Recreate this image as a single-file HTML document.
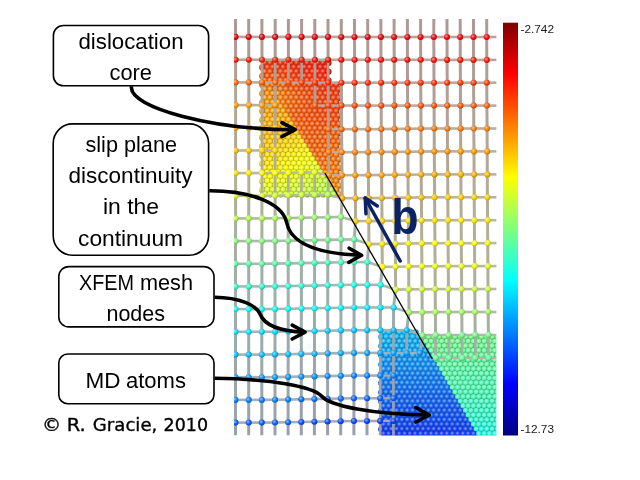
<!DOCTYPE html>
<html lang="en"><head><meta charset="utf-8"><title>Dislocation XFEM / MD coupling</title>
<style>html,body{margin:0;padding:0;background:#fff;width:640px;height:480px;overflow:hidden}svg{display:block}</style>
</head><body>
<svg width="640" height="480" viewBox="0 0 640 480">
<defs>
<radialGradient id="a0" cx="0.4" cy="0.38" r="0.62"><stop offset="0" stop-color="#8c8cc4"/><stop offset="0.5" stop-color="#1a1a89"/><stop offset="1" stop-color="#0f0f50"/></radialGradient>
<radialGradient id="s0" cx="0.38" cy="0.36" r="0.7"><stop offset="0" stop-color="#9090c6"/><stop offset="0.55" stop-color="#080880"/><stop offset="1" stop-color="#06065a"/></radialGradient>
<radialGradient id="a1" cx="0.4" cy="0.38" r="0.62"><stop offset="0" stop-color="#8c8cc8"/><stop offset="0.5" stop-color="#1a1a91"/><stop offset="1" stop-color="#0f0f54"/></radialGradient>
<radialGradient id="s1" cx="0.38" cy="0.36" r="0.7"><stop offset="0" stop-color="#9090ca"/><stop offset="0.55" stop-color="#080888"/><stop offset="1" stop-color="#06065f"/></radialGradient>
<radialGradient id="a2" cx="0.4" cy="0.38" r="0.62"><stop offset="0" stop-color="#8c8ccb"/><stop offset="0.5" stop-color="#1a1a98"/><stop offset="1" stop-color="#0f0f58"/></radialGradient>
<radialGradient id="s2" cx="0.38" cy="0.36" r="0.7"><stop offset="0" stop-color="#9090cd"/><stop offset="0.55" stop-color="#080890"/><stop offset="1" stop-color="#060665"/></radialGradient>
<radialGradient id="a3" cx="0.4" cy="0.38" r="0.62"><stop offset="0" stop-color="#8c8ccf"/><stop offset="0.5" stop-color="#1a1a9f"/><stop offset="1" stop-color="#0f0f5c"/></radialGradient>
<radialGradient id="s3" cx="0.38" cy="0.36" r="0.7"><stop offset="0" stop-color="#9090d1"/><stop offset="0.55" stop-color="#080898"/><stop offset="1" stop-color="#06066b"/></radialGradient>
<radialGradient id="a4" cx="0.4" cy="0.38" r="0.62"><stop offset="0" stop-color="#8c8cd3"/><stop offset="0.5" stop-color="#1a1aa7"/><stop offset="1" stop-color="#0f0f61"/></radialGradient>
<radialGradient id="s4" cx="0.38" cy="0.36" r="0.7"><stop offset="0" stop-color="#9090d4"/><stop offset="0.55" stop-color="#0808a0"/><stop offset="1" stop-color="#060670"/></radialGradient>
<radialGradient id="a5" cx="0.4" cy="0.38" r="0.62"><stop offset="0" stop-color="#8c8cd7"/><stop offset="0.5" stop-color="#1a1aae"/><stop offset="1" stop-color="#0f0f65"/></radialGradient>
<radialGradient id="s5" cx="0.38" cy="0.36" r="0.7"><stop offset="0" stop-color="#9090d8"/><stop offset="0.55" stop-color="#0808a8"/><stop offset="1" stop-color="#060676"/></radialGradient>
<radialGradient id="a6" cx="0.4" cy="0.38" r="0.62"><stop offset="0" stop-color="#8c8cda"/><stop offset="0.5" stop-color="#1a1ab6"/><stop offset="1" stop-color="#0f0f69"/></radialGradient>
<radialGradient id="s6" cx="0.38" cy="0.36" r="0.7"><stop offset="0" stop-color="#9090dc"/><stop offset="0.55" stop-color="#0808b0"/><stop offset="1" stop-color="#06067b"/></radialGradient>
<radialGradient id="a7" cx="0.4" cy="0.38" r="0.62"><stop offset="0" stop-color="#8c8cde"/><stop offset="0.5" stop-color="#1a1abd"/><stop offset="1" stop-color="#0f0f6e"/></radialGradient>
<radialGradient id="s7" cx="0.38" cy="0.36" r="0.7"><stop offset="0" stop-color="#9090df"/><stop offset="0.55" stop-color="#0808b8"/><stop offset="1" stop-color="#060681"/></radialGradient>
<radialGradient id="a8" cx="0.4" cy="0.38" r="0.62"><stop offset="0" stop-color="#8c8ce2"/><stop offset="0.5" stop-color="#1a1ac5"/><stop offset="1" stop-color="#0f0f72"/></radialGradient>
<radialGradient id="s8" cx="0.38" cy="0.36" r="0.7"><stop offset="0" stop-color="#9090e3"/><stop offset="0.55" stop-color="#0808c0"/><stop offset="1" stop-color="#060687"/></radialGradient>
<radialGradient id="a9" cx="0.4" cy="0.38" r="0.62"><stop offset="0" stop-color="#8c8ce5"/><stop offset="0.5" stop-color="#1a1acc"/><stop offset="1" stop-color="#0f0f76"/></radialGradient>
<radialGradient id="s9" cx="0.38" cy="0.36" r="0.7"><stop offset="0" stop-color="#9090e6"/><stop offset="0.55" stop-color="#0808c8"/><stop offset="1" stop-color="#06068c"/></radialGradient>
<radialGradient id="a10" cx="0.4" cy="0.38" r="0.62"><stop offset="0" stop-color="#8c8ce9"/><stop offset="0.5" stop-color="#1a1ad3"/><stop offset="1" stop-color="#0f0f7b"/></radialGradient>
<radialGradient id="s10" cx="0.38" cy="0.36" r="0.7"><stop offset="0" stop-color="#9090ea"/><stop offset="0.55" stop-color="#0808d0"/><stop offset="1" stop-color="#060692"/></radialGradient>
<radialGradient id="a11" cx="0.4" cy="0.38" r="0.62"><stop offset="0" stop-color="#8c8ced"/><stop offset="0.5" stop-color="#1a1adb"/><stop offset="1" stop-color="#0f0f7f"/></radialGradient>
<radialGradient id="s11" cx="0.38" cy="0.36" r="0.7"><stop offset="0" stop-color="#9090ee"/><stop offset="0.55" stop-color="#0808d8"/><stop offset="1" stop-color="#060697"/></radialGradient>
<radialGradient id="a12" cx="0.4" cy="0.38" r="0.62"><stop offset="0" stop-color="#8c8cf1"/><stop offset="0.5" stop-color="#1a1ae2"/><stop offset="1" stop-color="#0f0f83"/></radialGradient>
<radialGradient id="s12" cx="0.38" cy="0.36" r="0.7"><stop offset="0" stop-color="#9090f1"/><stop offset="0.55" stop-color="#0808e0"/><stop offset="1" stop-color="#06069d"/></radialGradient>
<radialGradient id="a13" cx="0.4" cy="0.38" r="0.62"><stop offset="0" stop-color="#8c8cf4"/><stop offset="0.5" stop-color="#1a1aea"/><stop offset="1" stop-color="#0f0f88"/></radialGradient>
<radialGradient id="s13" cx="0.38" cy="0.36" r="0.7"><stop offset="0" stop-color="#9090f5"/><stop offset="0.55" stop-color="#0808e8"/><stop offset="1" stop-color="#0606a2"/></radialGradient>
<radialGradient id="a14" cx="0.4" cy="0.38" r="0.62"><stop offset="0" stop-color="#8c8cf8"/><stop offset="0.5" stop-color="#1a1af1"/><stop offset="1" stop-color="#0f0f8c"/></radialGradient>
<radialGradient id="s14" cx="0.38" cy="0.36" r="0.7"><stop offset="0" stop-color="#9090f8"/><stop offset="0.55" stop-color="#0808f0"/><stop offset="1" stop-color="#0606a8"/></radialGradient>
<radialGradient id="a15" cx="0.4" cy="0.38" r="0.62"><stop offset="0" stop-color="#8c8cfc"/><stop offset="0.5" stop-color="#1a1af9"/><stop offset="1" stop-color="#0f0f90"/></radialGradient>
<radialGradient id="s15" cx="0.38" cy="0.36" r="0.7"><stop offset="0" stop-color="#9090fc"/><stop offset="0.55" stop-color="#0808f8"/><stop offset="1" stop-color="#0606ae"/></radialGradient>
<radialGradient id="a16" cx="0.4" cy="0.38" r="0.62"><stop offset="0" stop-color="#8c90fc"/><stop offset="0.5" stop-color="#1a21f9"/><stop offset="1" stop-color="#0f1390"/></radialGradient>
<radialGradient id="s16" cx="0.38" cy="0.36" r="0.7"><stop offset="0" stop-color="#9094fc"/><stop offset="0.55" stop-color="#0810f8"/><stop offset="1" stop-color="#060bae"/></radialGradient>
<radialGradient id="a17" cx="0.4" cy="0.38" r="0.62"><stop offset="0" stop-color="#8c94fc"/><stop offset="0.5" stop-color="#1a29f9"/><stop offset="1" stop-color="#0f1890"/></radialGradient>
<radialGradient id="s17" cx="0.38" cy="0.36" r="0.7"><stop offset="0" stop-color="#9097fc"/><stop offset="0.55" stop-color="#0818f8"/><stop offset="1" stop-color="#0611ae"/></radialGradient>
<radialGradient id="a18" cx="0.4" cy="0.38" r="0.62"><stop offset="0" stop-color="#8c97fc"/><stop offset="0.5" stop-color="#1a30f9"/><stop offset="1" stop-color="#0f1c90"/></radialGradient>
<radialGradient id="s18" cx="0.38" cy="0.36" r="0.7"><stop offset="0" stop-color="#909bfc"/><stop offset="0.55" stop-color="#0820f8"/><stop offset="1" stop-color="#0617ae"/></radialGradient>
<radialGradient id="a19" cx="0.4" cy="0.38" r="0.62"><stop offset="0" stop-color="#8c9bfc"/><stop offset="0.5" stop-color="#1a37f9"/><stop offset="1" stop-color="#0f2090"/></radialGradient>
<radialGradient id="s19" cx="0.38" cy="0.36" r="0.7"><stop offset="0" stop-color="#909efc"/><stop offset="0.55" stop-color="#0828f8"/><stop offset="1" stop-color="#061cae"/></radialGradient>
<radialGradient id="a20" cx="0.4" cy="0.38" r="0.62"><stop offset="0" stop-color="#8c9ffc"/><stop offset="0.5" stop-color="#1a3ff9"/><stop offset="1" stop-color="#0f2490"/></radialGradient>
<radialGradient id="s20" cx="0.38" cy="0.36" r="0.7"><stop offset="0" stop-color="#90a2fc"/><stop offset="0.55" stop-color="#0830f8"/><stop offset="1" stop-color="#0622ae"/></radialGradient>
<radialGradient id="a21" cx="0.4" cy="0.38" r="0.62"><stop offset="0" stop-color="#8ca3fc"/><stop offset="0.5" stop-color="#1a46f9"/><stop offset="1" stop-color="#0f2990"/></radialGradient>
<radialGradient id="s21" cx="0.38" cy="0.36" r="0.7"><stop offset="0" stop-color="#90a6fc"/><stop offset="0.55" stop-color="#0838f8"/><stop offset="1" stop-color="#0627ae"/></radialGradient>
<radialGradient id="a22" cx="0.4" cy="0.38" r="0.62"><stop offset="0" stop-color="#8ca6fc"/><stop offset="0.5" stop-color="#1a4ef9"/><stop offset="1" stop-color="#0f2d90"/></radialGradient>
<radialGradient id="s22" cx="0.38" cy="0.36" r="0.7"><stop offset="0" stop-color="#90a9fc"/><stop offset="0.55" stop-color="#0840f8"/><stop offset="1" stop-color="#062dae"/></radialGradient>
<radialGradient id="a23" cx="0.4" cy="0.38" r="0.62"><stop offset="0" stop-color="#8caafc"/><stop offset="0.5" stop-color="#1a55f9"/><stop offset="1" stop-color="#0f3190"/></radialGradient>
<radialGradient id="s23" cx="0.38" cy="0.36" r="0.7"><stop offset="0" stop-color="#90adfc"/><stop offset="0.55" stop-color="#0848f8"/><stop offset="1" stop-color="#0633ae"/></radialGradient>
<radialGradient id="a24" cx="0.4" cy="0.38" r="0.62"><stop offset="0" stop-color="#8caefc"/><stop offset="0.5" stop-color="#1a5df9"/><stop offset="1" stop-color="#0f3690"/></radialGradient>
<radialGradient id="s24" cx="0.38" cy="0.36" r="0.7"><stop offset="0" stop-color="#90b0fc"/><stop offset="0.55" stop-color="#0850f8"/><stop offset="1" stop-color="#0638ae"/></radialGradient>
<radialGradient id="a25" cx="0.4" cy="0.38" r="0.62"><stop offset="0" stop-color="#8cb1fc"/><stop offset="0.5" stop-color="#1a64f9"/><stop offset="1" stop-color="#0f3a90"/></radialGradient>
<radialGradient id="s25" cx="0.38" cy="0.36" r="0.7"><stop offset="0" stop-color="#90b4fc"/><stop offset="0.55" stop-color="#0858f8"/><stop offset="1" stop-color="#063eae"/></radialGradient>
<radialGradient id="a26" cx="0.4" cy="0.38" r="0.62"><stop offset="0" stop-color="#8cb5fc"/><stop offset="0.5" stop-color="#1a6bf9"/><stop offset="1" stop-color="#0f3e90"/></radialGradient>
<radialGradient id="s26" cx="0.38" cy="0.36" r="0.7"><stop offset="0" stop-color="#90b8fc"/><stop offset="0.55" stop-color="#0860f8"/><stop offset="1" stop-color="#0643ae"/></radialGradient>
<radialGradient id="a27" cx="0.4" cy="0.38" r="0.62"><stop offset="0" stop-color="#8cb9fc"/><stop offset="0.5" stop-color="#1a73f9"/><stop offset="1" stop-color="#0f4390"/></radialGradient>
<radialGradient id="s27" cx="0.38" cy="0.36" r="0.7"><stop offset="0" stop-color="#90bbfc"/><stop offset="0.55" stop-color="#0868f8"/><stop offset="1" stop-color="#0649ae"/></radialGradient>
<radialGradient id="a28" cx="0.4" cy="0.38" r="0.62"><stop offset="0" stop-color="#8cbdfc"/><stop offset="0.5" stop-color="#1a7af9"/><stop offset="1" stop-color="#0f4790"/></radialGradient>
<radialGradient id="s28" cx="0.38" cy="0.36" r="0.7"><stop offset="0" stop-color="#90bffc"/><stop offset="0.55" stop-color="#0870f8"/><stop offset="1" stop-color="#064fae"/></radialGradient>
<radialGradient id="a29" cx="0.4" cy="0.38" r="0.62"><stop offset="0" stop-color="#8cc0fc"/><stop offset="0.5" stop-color="#1a82f9"/><stop offset="1" stop-color="#0f4b90"/></radialGradient>
<radialGradient id="s29" cx="0.38" cy="0.36" r="0.7"><stop offset="0" stop-color="#90c2fc"/><stop offset="0.55" stop-color="#0878f8"/><stop offset="1" stop-color="#0654ae"/></radialGradient>
<radialGradient id="a30" cx="0.4" cy="0.38" r="0.62"><stop offset="0" stop-color="#8cc4fc"/><stop offset="0.5" stop-color="#1a89f9"/><stop offset="1" stop-color="#0f5090"/></radialGradient>
<radialGradient id="s30" cx="0.38" cy="0.36" r="0.7"><stop offset="0" stop-color="#90c6fc"/><stop offset="0.55" stop-color="#0880f8"/><stop offset="1" stop-color="#065aae"/></radialGradient>
<radialGradient id="a31" cx="0.4" cy="0.38" r="0.62"><stop offset="0" stop-color="#8cc8fc"/><stop offset="0.5" stop-color="#1a91f9"/><stop offset="1" stop-color="#0f5490"/></radialGradient>
<radialGradient id="s31" cx="0.38" cy="0.36" r="0.7"><stop offset="0" stop-color="#90cafc"/><stop offset="0.55" stop-color="#0888f8"/><stop offset="1" stop-color="#065fae"/></radialGradient>
<radialGradient id="a32" cx="0.4" cy="0.38" r="0.62"><stop offset="0" stop-color="#8ccbfc"/><stop offset="0.5" stop-color="#1a98f9"/><stop offset="1" stop-color="#0f5890"/></radialGradient>
<radialGradient id="s32" cx="0.38" cy="0.36" r="0.7"><stop offset="0" stop-color="#90cdfc"/><stop offset="0.55" stop-color="#0890f8"/><stop offset="1" stop-color="#0665ae"/></radialGradient>
<radialGradient id="a33" cx="0.4" cy="0.38" r="0.62"><stop offset="0" stop-color="#8ccffc"/><stop offset="0.5" stop-color="#1a9ff9"/><stop offset="1" stop-color="#0f5c90"/></radialGradient>
<radialGradient id="s33" cx="0.38" cy="0.36" r="0.7"><stop offset="0" stop-color="#90d1fc"/><stop offset="0.55" stop-color="#0898f8"/><stop offset="1" stop-color="#066bae"/></radialGradient>
<radialGradient id="a34" cx="0.4" cy="0.38" r="0.62"><stop offset="0" stop-color="#8cd3fc"/><stop offset="0.5" stop-color="#1aa7f9"/><stop offset="1" stop-color="#0f6190"/></radialGradient>
<radialGradient id="s34" cx="0.38" cy="0.36" r="0.7"><stop offset="0" stop-color="#90d4fc"/><stop offset="0.55" stop-color="#08a0f8"/><stop offset="1" stop-color="#0670ae"/></radialGradient>
<radialGradient id="a35" cx="0.4" cy="0.38" r="0.62"><stop offset="0" stop-color="#8cd7fc"/><stop offset="0.5" stop-color="#1aaef9"/><stop offset="1" stop-color="#0f6590"/></radialGradient>
<radialGradient id="s35" cx="0.38" cy="0.36" r="0.7"><stop offset="0" stop-color="#90d8fc"/><stop offset="0.55" stop-color="#08a8f8"/><stop offset="1" stop-color="#0676ae"/></radialGradient>
<radialGradient id="a36" cx="0.4" cy="0.38" r="0.62"><stop offset="0" stop-color="#8cdafc"/><stop offset="0.5" stop-color="#1ab6f9"/><stop offset="1" stop-color="#0f6990"/></radialGradient>
<radialGradient id="s36" cx="0.38" cy="0.36" r="0.7"><stop offset="0" stop-color="#90dcfc"/><stop offset="0.55" stop-color="#08b0f8"/><stop offset="1" stop-color="#067bae"/></radialGradient>
<radialGradient id="a37" cx="0.4" cy="0.38" r="0.62"><stop offset="0" stop-color="#8cdefc"/><stop offset="0.5" stop-color="#1abdf9"/><stop offset="1" stop-color="#0f6e90"/></radialGradient>
<radialGradient id="s37" cx="0.38" cy="0.36" r="0.7"><stop offset="0" stop-color="#90dffc"/><stop offset="0.55" stop-color="#08b8f8"/><stop offset="1" stop-color="#0681ae"/></radialGradient>
<radialGradient id="a38" cx="0.4" cy="0.38" r="0.62"><stop offset="0" stop-color="#8ce2fc"/><stop offset="0.5" stop-color="#1ac5f9"/><stop offset="1" stop-color="#0f7290"/></radialGradient>
<radialGradient id="s38" cx="0.38" cy="0.36" r="0.7"><stop offset="0" stop-color="#90e3fc"/><stop offset="0.55" stop-color="#08c0f8"/><stop offset="1" stop-color="#0687ae"/></radialGradient>
<radialGradient id="a39" cx="0.4" cy="0.38" r="0.62"><stop offset="0" stop-color="#8ce5fc"/><stop offset="0.5" stop-color="#1accf9"/><stop offset="1" stop-color="#0f7690"/></radialGradient>
<radialGradient id="s39" cx="0.38" cy="0.36" r="0.7"><stop offset="0" stop-color="#90e6fc"/><stop offset="0.55" stop-color="#08c8f8"/><stop offset="1" stop-color="#068cae"/></radialGradient>
<radialGradient id="a40" cx="0.4" cy="0.38" r="0.62"><stop offset="0" stop-color="#8ce9fc"/><stop offset="0.5" stop-color="#1ad3f9"/><stop offset="1" stop-color="#0f7b90"/></radialGradient>
<radialGradient id="s40" cx="0.38" cy="0.36" r="0.7"><stop offset="0" stop-color="#90eafc"/><stop offset="0.55" stop-color="#08d0f8"/><stop offset="1" stop-color="#0692ae"/></radialGradient>
<radialGradient id="a41" cx="0.4" cy="0.38" r="0.62"><stop offset="0" stop-color="#8cedfc"/><stop offset="0.5" stop-color="#1adbf9"/><stop offset="1" stop-color="#0f7f90"/></radialGradient>
<radialGradient id="s41" cx="0.38" cy="0.36" r="0.7"><stop offset="0" stop-color="#90eefc"/><stop offset="0.55" stop-color="#08d8f8"/><stop offset="1" stop-color="#0697ae"/></radialGradient>
<radialGradient id="a42" cx="0.4" cy="0.38" r="0.62"><stop offset="0" stop-color="#8cf1fc"/><stop offset="0.5" stop-color="#1ae2f9"/><stop offset="1" stop-color="#0f8390"/></radialGradient>
<radialGradient id="s42" cx="0.38" cy="0.36" r="0.7"><stop offset="0" stop-color="#90f1fc"/><stop offset="0.55" stop-color="#08e0f8"/><stop offset="1" stop-color="#069dae"/></radialGradient>
<radialGradient id="a43" cx="0.4" cy="0.38" r="0.62"><stop offset="0" stop-color="#8cf4fc"/><stop offset="0.5" stop-color="#1aeaf9"/><stop offset="1" stop-color="#0f8890"/></radialGradient>
<radialGradient id="s43" cx="0.38" cy="0.36" r="0.7"><stop offset="0" stop-color="#90f5fc"/><stop offset="0.55" stop-color="#08e8f8"/><stop offset="1" stop-color="#06a2ae"/></radialGradient>
<radialGradient id="a44" cx="0.4" cy="0.38" r="0.62"><stop offset="0" stop-color="#8cf8fc"/><stop offset="0.5" stop-color="#1af1f9"/><stop offset="1" stop-color="#0f8c90"/></radialGradient>
<radialGradient id="s44" cx="0.38" cy="0.36" r="0.7"><stop offset="0" stop-color="#90f8fc"/><stop offset="0.55" stop-color="#08f0f8"/><stop offset="1" stop-color="#06a8ae"/></radialGradient>
<radialGradient id="a45" cx="0.4" cy="0.38" r="0.62"><stop offset="0" stop-color="#8cfcfc"/><stop offset="0.5" stop-color="#1af9f9"/><stop offset="1" stop-color="#0f9090"/></radialGradient>
<radialGradient id="s45" cx="0.38" cy="0.36" r="0.7"><stop offset="0" stop-color="#90fcfc"/><stop offset="0.55" stop-color="#08f8f8"/><stop offset="1" stop-color="#06aeae"/></radialGradient>
<radialGradient id="a46" cx="0.4" cy="0.38" r="0.62"><stop offset="0" stop-color="#90fcf8"/><stop offset="0.5" stop-color="#21f9f1"/><stop offset="1" stop-color="#13908c"/></radialGradient>
<radialGradient id="s46" cx="0.38" cy="0.36" r="0.7"><stop offset="0" stop-color="#94fcf8"/><stop offset="0.55" stop-color="#10f8f0"/><stop offset="1" stop-color="#0baea8"/></radialGradient>
<radialGradient id="a47" cx="0.4" cy="0.38" r="0.62"><stop offset="0" stop-color="#94fcf4"/><stop offset="0.5" stop-color="#29f9ea"/><stop offset="1" stop-color="#189088"/></radialGradient>
<radialGradient id="s47" cx="0.38" cy="0.36" r="0.7"><stop offset="0" stop-color="#97fcf5"/><stop offset="0.55" stop-color="#18f8e8"/><stop offset="1" stop-color="#11aea2"/></radialGradient>
<radialGradient id="a48" cx="0.4" cy="0.38" r="0.62"><stop offset="0" stop-color="#97fcf1"/><stop offset="0.5" stop-color="#30f9e2"/><stop offset="1" stop-color="#1c9083"/></radialGradient>
<radialGradient id="s48" cx="0.38" cy="0.36" r="0.7"><stop offset="0" stop-color="#9bfcf1"/><stop offset="0.55" stop-color="#20f8e0"/><stop offset="1" stop-color="#17ae9d"/></radialGradient>
<radialGradient id="a49" cx="0.4" cy="0.38" r="0.62"><stop offset="0" stop-color="#9bfced"/><stop offset="0.5" stop-color="#37f9db"/><stop offset="1" stop-color="#20907f"/></radialGradient>
<radialGradient id="s49" cx="0.38" cy="0.36" r="0.7"><stop offset="0" stop-color="#9efcee"/><stop offset="0.55" stop-color="#28f8d8"/><stop offset="1" stop-color="#1cae97"/></radialGradient>
<radialGradient id="a50" cx="0.4" cy="0.38" r="0.62"><stop offset="0" stop-color="#9ffce9"/><stop offset="0.5" stop-color="#3ff9d3"/><stop offset="1" stop-color="#24907b"/></radialGradient>
<radialGradient id="s50" cx="0.38" cy="0.36" r="0.7"><stop offset="0" stop-color="#a2fcea"/><stop offset="0.55" stop-color="#30f8d0"/><stop offset="1" stop-color="#22ae92"/></radialGradient>
<radialGradient id="a51" cx="0.4" cy="0.38" r="0.62"><stop offset="0" stop-color="#a3fce5"/><stop offset="0.5" stop-color="#46f9cc"/><stop offset="1" stop-color="#299076"/></radialGradient>
<radialGradient id="s51" cx="0.38" cy="0.36" r="0.7"><stop offset="0" stop-color="#a6fce6"/><stop offset="0.55" stop-color="#38f8c8"/><stop offset="1" stop-color="#27ae8c"/></radialGradient>
<radialGradient id="a52" cx="0.4" cy="0.38" r="0.62"><stop offset="0" stop-color="#a6fce2"/><stop offset="0.5" stop-color="#4ef9c5"/><stop offset="1" stop-color="#2d9072"/></radialGradient>
<radialGradient id="s52" cx="0.38" cy="0.36" r="0.7"><stop offset="0" stop-color="#a9fce3"/><stop offset="0.55" stop-color="#40f8c0"/><stop offset="1" stop-color="#2dae87"/></radialGradient>
<radialGradient id="a53" cx="0.4" cy="0.38" r="0.62"><stop offset="0" stop-color="#aafcde"/><stop offset="0.5" stop-color="#55f9bd"/><stop offset="1" stop-color="#31906e"/></radialGradient>
<radialGradient id="s53" cx="0.38" cy="0.36" r="0.7"><stop offset="0" stop-color="#adfcdf"/><stop offset="0.55" stop-color="#48f8b8"/><stop offset="1" stop-color="#33ae81"/></radialGradient>
<radialGradient id="a54" cx="0.4" cy="0.38" r="0.62"><stop offset="0" stop-color="#aefcda"/><stop offset="0.5" stop-color="#5df9b6"/><stop offset="1" stop-color="#369069"/></radialGradient>
<radialGradient id="s54" cx="0.38" cy="0.36" r="0.7"><stop offset="0" stop-color="#b0fcdc"/><stop offset="0.55" stop-color="#50f8b0"/><stop offset="1" stop-color="#38ae7b"/></radialGradient>
<radialGradient id="a55" cx="0.4" cy="0.38" r="0.62"><stop offset="0" stop-color="#b1fcd7"/><stop offset="0.5" stop-color="#64f9ae"/><stop offset="1" stop-color="#3a9065"/></radialGradient>
<radialGradient id="s55" cx="0.38" cy="0.36" r="0.7"><stop offset="0" stop-color="#b4fcd8"/><stop offset="0.55" stop-color="#58f8a8"/><stop offset="1" stop-color="#3eae76"/></radialGradient>
<radialGradient id="a56" cx="0.4" cy="0.38" r="0.62"><stop offset="0" stop-color="#b5fcd3"/><stop offset="0.5" stop-color="#6bf9a7"/><stop offset="1" stop-color="#3e9061"/></radialGradient>
<radialGradient id="s56" cx="0.38" cy="0.36" r="0.7"><stop offset="0" stop-color="#b8fcd4"/><stop offset="0.55" stop-color="#60f8a0"/><stop offset="1" stop-color="#43ae70"/></radialGradient>
<radialGradient id="a57" cx="0.4" cy="0.38" r="0.62"><stop offset="0" stop-color="#b9fccf"/><stop offset="0.5" stop-color="#73f99f"/><stop offset="1" stop-color="#43905c"/></radialGradient>
<radialGradient id="s57" cx="0.38" cy="0.36" r="0.7"><stop offset="0" stop-color="#bbfcd1"/><stop offset="0.55" stop-color="#68f898"/><stop offset="1" stop-color="#49ae6b"/></radialGradient>
<radialGradient id="a58" cx="0.4" cy="0.38" r="0.62"><stop offset="0" stop-color="#bdfccb"/><stop offset="0.5" stop-color="#7af998"/><stop offset="1" stop-color="#479058"/></radialGradient>
<radialGradient id="s58" cx="0.38" cy="0.36" r="0.7"><stop offset="0" stop-color="#bffccd"/><stop offset="0.55" stop-color="#70f890"/><stop offset="1" stop-color="#4fae65"/></radialGradient>
<radialGradient id="a59" cx="0.4" cy="0.38" r="0.62"><stop offset="0" stop-color="#c0fcc8"/><stop offset="0.5" stop-color="#82f991"/><stop offset="1" stop-color="#4b9054"/></radialGradient>
<radialGradient id="s59" cx="0.38" cy="0.36" r="0.7"><stop offset="0" stop-color="#c2fcca"/><stop offset="0.55" stop-color="#78f888"/><stop offset="1" stop-color="#54ae5f"/></radialGradient>
<radialGradient id="a60" cx="0.4" cy="0.38" r="0.62"><stop offset="0" stop-color="#c4fcc4"/><stop offset="0.5" stop-color="#89f989"/><stop offset="1" stop-color="#509050"/></radialGradient>
<radialGradient id="s60" cx="0.38" cy="0.36" r="0.7"><stop offset="0" stop-color="#c6fcc6"/><stop offset="0.55" stop-color="#80f880"/><stop offset="1" stop-color="#5aae5a"/></radialGradient>
<radialGradient id="a61" cx="0.4" cy="0.38" r="0.62"><stop offset="0" stop-color="#c8fcc0"/><stop offset="0.5" stop-color="#91f982"/><stop offset="1" stop-color="#54904b"/></radialGradient>
<radialGradient id="s61" cx="0.38" cy="0.36" r="0.7"><stop offset="0" stop-color="#cafcc2"/><stop offset="0.55" stop-color="#88f878"/><stop offset="1" stop-color="#5fae54"/></radialGradient>
<radialGradient id="a62" cx="0.4" cy="0.38" r="0.62"><stop offset="0" stop-color="#cbfcbd"/><stop offset="0.5" stop-color="#98f97a"/><stop offset="1" stop-color="#589047"/></radialGradient>
<radialGradient id="s62" cx="0.38" cy="0.36" r="0.7"><stop offset="0" stop-color="#cdfcbf"/><stop offset="0.55" stop-color="#90f870"/><stop offset="1" stop-color="#65ae4f"/></radialGradient>
<radialGradient id="a63" cx="0.4" cy="0.38" r="0.62"><stop offset="0" stop-color="#cffcb9"/><stop offset="0.5" stop-color="#9ff973"/><stop offset="1" stop-color="#5c9043"/></radialGradient>
<radialGradient id="s63" cx="0.38" cy="0.36" r="0.7"><stop offset="0" stop-color="#d1fcbb"/><stop offset="0.55" stop-color="#98f868"/><stop offset="1" stop-color="#6bae49"/></radialGradient>
<radialGradient id="a64" cx="0.4" cy="0.38" r="0.62"><stop offset="0" stop-color="#d3fcb5"/><stop offset="0.5" stop-color="#a7f96b"/><stop offset="1" stop-color="#61903e"/></radialGradient>
<radialGradient id="s64" cx="0.38" cy="0.36" r="0.7"><stop offset="0" stop-color="#d4fcb8"/><stop offset="0.55" stop-color="#a0f860"/><stop offset="1" stop-color="#70ae43"/></radialGradient>
<radialGradient id="a65" cx="0.4" cy="0.38" r="0.62"><stop offset="0" stop-color="#d7fcb1"/><stop offset="0.5" stop-color="#aef964"/><stop offset="1" stop-color="#65903a"/></radialGradient>
<radialGradient id="s65" cx="0.38" cy="0.36" r="0.7"><stop offset="0" stop-color="#d8fcb4"/><stop offset="0.55" stop-color="#a8f858"/><stop offset="1" stop-color="#76ae3e"/></radialGradient>
<radialGradient id="a66" cx="0.4" cy="0.38" r="0.62"><stop offset="0" stop-color="#dafcae"/><stop offset="0.5" stop-color="#b6f95d"/><stop offset="1" stop-color="#699036"/></radialGradient>
<radialGradient id="s66" cx="0.38" cy="0.36" r="0.7"><stop offset="0" stop-color="#dcfcb0"/><stop offset="0.55" stop-color="#b0f850"/><stop offset="1" stop-color="#7bae38"/></radialGradient>
<radialGradient id="a67" cx="0.4" cy="0.38" r="0.62"><stop offset="0" stop-color="#defcaa"/><stop offset="0.5" stop-color="#bdf955"/><stop offset="1" stop-color="#6e9031"/></radialGradient>
<radialGradient id="s67" cx="0.38" cy="0.36" r="0.7"><stop offset="0" stop-color="#dffcad"/><stop offset="0.55" stop-color="#b8f848"/><stop offset="1" stop-color="#81ae33"/></radialGradient>
<radialGradient id="a68" cx="0.4" cy="0.38" r="0.62"><stop offset="0" stop-color="#e2fca6"/><stop offset="0.5" stop-color="#c5f94e"/><stop offset="1" stop-color="#72902d"/></radialGradient>
<radialGradient id="s68" cx="0.38" cy="0.36" r="0.7"><stop offset="0" stop-color="#e3fca9"/><stop offset="0.55" stop-color="#c0f840"/><stop offset="1" stop-color="#87ae2d"/></radialGradient>
<radialGradient id="a69" cx="0.4" cy="0.38" r="0.62"><stop offset="0" stop-color="#e5fca3"/><stop offset="0.5" stop-color="#ccf946"/><stop offset="1" stop-color="#769029"/></radialGradient>
<radialGradient id="s69" cx="0.38" cy="0.36" r="0.7"><stop offset="0" stop-color="#e6fca6"/><stop offset="0.55" stop-color="#c8f838"/><stop offset="1" stop-color="#8cae27"/></radialGradient>
<radialGradient id="a70" cx="0.4" cy="0.38" r="0.62"><stop offset="0" stop-color="#e9fc9f"/><stop offset="0.5" stop-color="#d3f93f"/><stop offset="1" stop-color="#7b9024"/></radialGradient>
<radialGradient id="s70" cx="0.38" cy="0.36" r="0.7"><stop offset="0" stop-color="#eafca2"/><stop offset="0.55" stop-color="#d0f830"/><stop offset="1" stop-color="#92ae22"/></radialGradient>
<radialGradient id="a71" cx="0.4" cy="0.38" r="0.62"><stop offset="0" stop-color="#edfc9b"/><stop offset="0.5" stop-color="#dbf937"/><stop offset="1" stop-color="#7f9020"/></radialGradient>
<radialGradient id="s71" cx="0.38" cy="0.36" r="0.7"><stop offset="0" stop-color="#eefc9e"/><stop offset="0.55" stop-color="#d8f828"/><stop offset="1" stop-color="#97ae1c"/></radialGradient>
<radialGradient id="a72" cx="0.4" cy="0.38" r="0.62"><stop offset="0" stop-color="#f1fc97"/><stop offset="0.5" stop-color="#e2f930"/><stop offset="1" stop-color="#83901c"/></radialGradient>
<radialGradient id="s72" cx="0.38" cy="0.36" r="0.7"><stop offset="0" stop-color="#f1fc9b"/><stop offset="0.55" stop-color="#e0f820"/><stop offset="1" stop-color="#9dae17"/></radialGradient>
<radialGradient id="a73" cx="0.4" cy="0.38" r="0.62"><stop offset="0" stop-color="#f4fc94"/><stop offset="0.5" stop-color="#eaf929"/><stop offset="1" stop-color="#889018"/></radialGradient>
<radialGradient id="s73" cx="0.38" cy="0.36" r="0.7"><stop offset="0" stop-color="#f5fc97"/><stop offset="0.55" stop-color="#e8f818"/><stop offset="1" stop-color="#a2ae11"/></radialGradient>
<radialGradient id="a74" cx="0.4" cy="0.38" r="0.62"><stop offset="0" stop-color="#f8fc90"/><stop offset="0.5" stop-color="#f1f921"/><stop offset="1" stop-color="#8c9013"/></radialGradient>
<radialGradient id="s74" cx="0.38" cy="0.36" r="0.7"><stop offset="0" stop-color="#f8fc94"/><stop offset="0.55" stop-color="#f0f810"/><stop offset="1" stop-color="#a8ae0b"/></radialGradient>
<radialGradient id="a75" cx="0.4" cy="0.38" r="0.62"><stop offset="0" stop-color="#fcfc8c"/><stop offset="0.5" stop-color="#f9f91a"/><stop offset="1" stop-color="#90900f"/></radialGradient>
<radialGradient id="s75" cx="0.38" cy="0.36" r="0.7"><stop offset="0" stop-color="#fcfc90"/><stop offset="0.55" stop-color="#f8f808"/><stop offset="1" stop-color="#aeae06"/></radialGradient>
<radialGradient id="a76" cx="0.4" cy="0.38" r="0.62"><stop offset="0" stop-color="#fcf88c"/><stop offset="0.5" stop-color="#f9f11a"/><stop offset="1" stop-color="#908c0f"/></radialGradient>
<radialGradient id="s76" cx="0.38" cy="0.36" r="0.7"><stop offset="0" stop-color="#fcf890"/><stop offset="0.55" stop-color="#f8f008"/><stop offset="1" stop-color="#aea806"/></radialGradient>
<radialGradient id="a77" cx="0.4" cy="0.38" r="0.62"><stop offset="0" stop-color="#fcf48c"/><stop offset="0.5" stop-color="#f9ea1a"/><stop offset="1" stop-color="#90880f"/></radialGradient>
<radialGradient id="s77" cx="0.38" cy="0.36" r="0.7"><stop offset="0" stop-color="#fcf590"/><stop offset="0.55" stop-color="#f8e808"/><stop offset="1" stop-color="#aea206"/></radialGradient>
<radialGradient id="a78" cx="0.4" cy="0.38" r="0.62"><stop offset="0" stop-color="#fcf18c"/><stop offset="0.5" stop-color="#f9e21a"/><stop offset="1" stop-color="#90830f"/></radialGradient>
<radialGradient id="s78" cx="0.38" cy="0.36" r="0.7"><stop offset="0" stop-color="#fcf190"/><stop offset="0.55" stop-color="#f8e008"/><stop offset="1" stop-color="#ae9d06"/></radialGradient>
<radialGradient id="a79" cx="0.4" cy="0.38" r="0.62"><stop offset="0" stop-color="#fced8c"/><stop offset="0.5" stop-color="#f9db1a"/><stop offset="1" stop-color="#907f0f"/></radialGradient>
<radialGradient id="s79" cx="0.38" cy="0.36" r="0.7"><stop offset="0" stop-color="#fcee90"/><stop offset="0.55" stop-color="#f8d808"/><stop offset="1" stop-color="#ae9706"/></radialGradient>
<radialGradient id="a80" cx="0.4" cy="0.38" r="0.62"><stop offset="0" stop-color="#fce98c"/><stop offset="0.5" stop-color="#f9d31a"/><stop offset="1" stop-color="#907b0f"/></radialGradient>
<radialGradient id="s80" cx="0.38" cy="0.36" r="0.7"><stop offset="0" stop-color="#fcea90"/><stop offset="0.55" stop-color="#f8d008"/><stop offset="1" stop-color="#ae9206"/></radialGradient>
<radialGradient id="a81" cx="0.4" cy="0.38" r="0.62"><stop offset="0" stop-color="#fce58c"/><stop offset="0.5" stop-color="#f9cc1a"/><stop offset="1" stop-color="#90760f"/></radialGradient>
<radialGradient id="s81" cx="0.38" cy="0.36" r="0.7"><stop offset="0" stop-color="#fce690"/><stop offset="0.55" stop-color="#f8c808"/><stop offset="1" stop-color="#ae8c06"/></radialGradient>
<radialGradient id="a82" cx="0.4" cy="0.38" r="0.62"><stop offset="0" stop-color="#fce28c"/><stop offset="0.5" stop-color="#f9c51a"/><stop offset="1" stop-color="#90720f"/></radialGradient>
<radialGradient id="s82" cx="0.38" cy="0.36" r="0.7"><stop offset="0" stop-color="#fce390"/><stop offset="0.55" stop-color="#f8c008"/><stop offset="1" stop-color="#ae8706"/></radialGradient>
<radialGradient id="a83" cx="0.4" cy="0.38" r="0.62"><stop offset="0" stop-color="#fcde8c"/><stop offset="0.5" stop-color="#f9bd1a"/><stop offset="1" stop-color="#906e0f"/></radialGradient>
<radialGradient id="s83" cx="0.38" cy="0.36" r="0.7"><stop offset="0" stop-color="#fcdf90"/><stop offset="0.55" stop-color="#f8b808"/><stop offset="1" stop-color="#ae8106"/></radialGradient>
<radialGradient id="a84" cx="0.4" cy="0.38" r="0.62"><stop offset="0" stop-color="#fcda8c"/><stop offset="0.5" stop-color="#f9b61a"/><stop offset="1" stop-color="#90690f"/></radialGradient>
<radialGradient id="s84" cx="0.38" cy="0.36" r="0.7"><stop offset="0" stop-color="#fcdc90"/><stop offset="0.55" stop-color="#f8b008"/><stop offset="1" stop-color="#ae7b06"/></radialGradient>
<radialGradient id="a85" cx="0.4" cy="0.38" r="0.62"><stop offset="0" stop-color="#fcd78c"/><stop offset="0.5" stop-color="#f9ae1a"/><stop offset="1" stop-color="#90650f"/></radialGradient>
<radialGradient id="s85" cx="0.38" cy="0.36" r="0.7"><stop offset="0" stop-color="#fcd890"/><stop offset="0.55" stop-color="#f8a808"/><stop offset="1" stop-color="#ae7606"/></radialGradient>
<radialGradient id="a86" cx="0.4" cy="0.38" r="0.62"><stop offset="0" stop-color="#fcd38c"/><stop offset="0.5" stop-color="#f9a71a"/><stop offset="1" stop-color="#90610f"/></radialGradient>
<radialGradient id="s86" cx="0.38" cy="0.36" r="0.7"><stop offset="0" stop-color="#fcd490"/><stop offset="0.55" stop-color="#f8a008"/><stop offset="1" stop-color="#ae7006"/></radialGradient>
<radialGradient id="a87" cx="0.4" cy="0.38" r="0.62"><stop offset="0" stop-color="#fccf8c"/><stop offset="0.5" stop-color="#f99f1a"/><stop offset="1" stop-color="#905c0f"/></radialGradient>
<radialGradient id="s87" cx="0.38" cy="0.36" r="0.7"><stop offset="0" stop-color="#fcd190"/><stop offset="0.55" stop-color="#f89808"/><stop offset="1" stop-color="#ae6b06"/></radialGradient>
<radialGradient id="a88" cx="0.4" cy="0.38" r="0.62"><stop offset="0" stop-color="#fccb8c"/><stop offset="0.5" stop-color="#f9981a"/><stop offset="1" stop-color="#90580f"/></radialGradient>
<radialGradient id="s88" cx="0.38" cy="0.36" r="0.7"><stop offset="0" stop-color="#fccd90"/><stop offset="0.55" stop-color="#f89008"/><stop offset="1" stop-color="#ae6506"/></radialGradient>
<radialGradient id="a89" cx="0.4" cy="0.38" r="0.62"><stop offset="0" stop-color="#fcc88c"/><stop offset="0.5" stop-color="#f9911a"/><stop offset="1" stop-color="#90540f"/></radialGradient>
<radialGradient id="s89" cx="0.38" cy="0.36" r="0.7"><stop offset="0" stop-color="#fcca90"/><stop offset="0.55" stop-color="#f88808"/><stop offset="1" stop-color="#ae5f06"/></radialGradient>
<radialGradient id="a90" cx="0.4" cy="0.38" r="0.62"><stop offset="0" stop-color="#fcc48c"/><stop offset="0.5" stop-color="#f9891a"/><stop offset="1" stop-color="#90500f"/></radialGradient>
<radialGradient id="s90" cx="0.38" cy="0.36" r="0.7"><stop offset="0" stop-color="#fcc690"/><stop offset="0.55" stop-color="#f88008"/><stop offset="1" stop-color="#ae5a06"/></radialGradient>
<radialGradient id="a91" cx="0.4" cy="0.38" r="0.62"><stop offset="0" stop-color="#fcc08c"/><stop offset="0.5" stop-color="#f9821a"/><stop offset="1" stop-color="#904b0f"/></radialGradient>
<radialGradient id="s91" cx="0.38" cy="0.36" r="0.7"><stop offset="0" stop-color="#fcc290"/><stop offset="0.55" stop-color="#f87808"/><stop offset="1" stop-color="#ae5406"/></radialGradient>
<radialGradient id="a92" cx="0.4" cy="0.38" r="0.62"><stop offset="0" stop-color="#fcbd8c"/><stop offset="0.5" stop-color="#f97a1a"/><stop offset="1" stop-color="#90470f"/></radialGradient>
<radialGradient id="s92" cx="0.38" cy="0.36" r="0.7"><stop offset="0" stop-color="#fcbf90"/><stop offset="0.55" stop-color="#f87008"/><stop offset="1" stop-color="#ae4f06"/></radialGradient>
<radialGradient id="a93" cx="0.4" cy="0.38" r="0.62"><stop offset="0" stop-color="#fcb98c"/><stop offset="0.5" stop-color="#f9731a"/><stop offset="1" stop-color="#90430f"/></radialGradient>
<radialGradient id="s93" cx="0.38" cy="0.36" r="0.7"><stop offset="0" stop-color="#fcbb90"/><stop offset="0.55" stop-color="#f86808"/><stop offset="1" stop-color="#ae4906"/></radialGradient>
<radialGradient id="a94" cx="0.4" cy="0.38" r="0.62"><stop offset="0" stop-color="#fcb58c"/><stop offset="0.5" stop-color="#f96b1a"/><stop offset="1" stop-color="#903e0f"/></radialGradient>
<radialGradient id="s94" cx="0.38" cy="0.36" r="0.7"><stop offset="0" stop-color="#fcb890"/><stop offset="0.55" stop-color="#f86008"/><stop offset="1" stop-color="#ae4306"/></radialGradient>
<radialGradient id="a95" cx="0.4" cy="0.38" r="0.62"><stop offset="0" stop-color="#fcb18c"/><stop offset="0.5" stop-color="#f9641a"/><stop offset="1" stop-color="#903a0f"/></radialGradient>
<radialGradient id="s95" cx="0.38" cy="0.36" r="0.7"><stop offset="0" stop-color="#fcb490"/><stop offset="0.55" stop-color="#f85808"/><stop offset="1" stop-color="#ae3e06"/></radialGradient>
<radialGradient id="a96" cx="0.4" cy="0.38" r="0.62"><stop offset="0" stop-color="#fcae8c"/><stop offset="0.5" stop-color="#f95d1a"/><stop offset="1" stop-color="#90360f"/></radialGradient>
<radialGradient id="s96" cx="0.38" cy="0.36" r="0.7"><stop offset="0" stop-color="#fcb090"/><stop offset="0.55" stop-color="#f85008"/><stop offset="1" stop-color="#ae3806"/></radialGradient>
<radialGradient id="a97" cx="0.4" cy="0.38" r="0.62"><stop offset="0" stop-color="#fcaa8c"/><stop offset="0.5" stop-color="#f9551a"/><stop offset="1" stop-color="#90310f"/></radialGradient>
<radialGradient id="s97" cx="0.38" cy="0.36" r="0.7"><stop offset="0" stop-color="#fcad90"/><stop offset="0.55" stop-color="#f84808"/><stop offset="1" stop-color="#ae3306"/></radialGradient>
<radialGradient id="a98" cx="0.4" cy="0.38" r="0.62"><stop offset="0" stop-color="#fca68c"/><stop offset="0.5" stop-color="#f94e1a"/><stop offset="1" stop-color="#902d0f"/></radialGradient>
<radialGradient id="s98" cx="0.38" cy="0.36" r="0.7"><stop offset="0" stop-color="#fca990"/><stop offset="0.55" stop-color="#f84008"/><stop offset="1" stop-color="#ae2d06"/></radialGradient>
<radialGradient id="a99" cx="0.4" cy="0.38" r="0.62"><stop offset="0" stop-color="#fca38c"/><stop offset="0.5" stop-color="#f9461a"/><stop offset="1" stop-color="#90290f"/></radialGradient>
<radialGradient id="s99" cx="0.38" cy="0.36" r="0.7"><stop offset="0" stop-color="#fca690"/><stop offset="0.55" stop-color="#f83808"/><stop offset="1" stop-color="#ae2706"/></radialGradient>
<radialGradient id="a100" cx="0.4" cy="0.38" r="0.62"><stop offset="0" stop-color="#fc9f8c"/><stop offset="0.5" stop-color="#f93f1a"/><stop offset="1" stop-color="#90240f"/></radialGradient>
<radialGradient id="s100" cx="0.38" cy="0.36" r="0.7"><stop offset="0" stop-color="#fca290"/><stop offset="0.55" stop-color="#f83008"/><stop offset="1" stop-color="#ae2206"/></radialGradient>
<radialGradient id="a101" cx="0.4" cy="0.38" r="0.62"><stop offset="0" stop-color="#fc9b8c"/><stop offset="0.5" stop-color="#f9371a"/><stop offset="1" stop-color="#90200f"/></radialGradient>
<radialGradient id="s101" cx="0.38" cy="0.36" r="0.7"><stop offset="0" stop-color="#fc9e90"/><stop offset="0.55" stop-color="#f82808"/><stop offset="1" stop-color="#ae1c06"/></radialGradient>
<radialGradient id="a102" cx="0.4" cy="0.38" r="0.62"><stop offset="0" stop-color="#fc978c"/><stop offset="0.5" stop-color="#f9301a"/><stop offset="1" stop-color="#901c0f"/></radialGradient>
<radialGradient id="s102" cx="0.38" cy="0.36" r="0.7"><stop offset="0" stop-color="#fc9b90"/><stop offset="0.55" stop-color="#f82008"/><stop offset="1" stop-color="#ae1706"/></radialGradient>
<radialGradient id="a103" cx="0.4" cy="0.38" r="0.62"><stop offset="0" stop-color="#fc948c"/><stop offset="0.5" stop-color="#f9291a"/><stop offset="1" stop-color="#90180f"/></radialGradient>
<radialGradient id="s103" cx="0.38" cy="0.36" r="0.7"><stop offset="0" stop-color="#fc9790"/><stop offset="0.55" stop-color="#f81808"/><stop offset="1" stop-color="#ae1106"/></radialGradient>
<radialGradient id="a104" cx="0.4" cy="0.38" r="0.62"><stop offset="0" stop-color="#fc908c"/><stop offset="0.5" stop-color="#f9211a"/><stop offset="1" stop-color="#90130f"/></radialGradient>
<radialGradient id="s104" cx="0.38" cy="0.36" r="0.7"><stop offset="0" stop-color="#fc9490"/><stop offset="0.55" stop-color="#f81008"/><stop offset="1" stop-color="#ae0b06"/></radialGradient>
<radialGradient id="a105" cx="0.4" cy="0.38" r="0.62"><stop offset="0" stop-color="#fc8c8c"/><stop offset="0.5" stop-color="#f91a1a"/><stop offset="1" stop-color="#900f0f"/></radialGradient>
<radialGradient id="s105" cx="0.38" cy="0.36" r="0.7"><stop offset="0" stop-color="#fc9090"/><stop offset="0.55" stop-color="#f80808"/><stop offset="1" stop-color="#ae0606"/></radialGradient>
<radialGradient id="a106" cx="0.4" cy="0.38" r="0.62"><stop offset="0" stop-color="#f88c8c"/><stop offset="0.5" stop-color="#f11a1a"/><stop offset="1" stop-color="#8c0f0f"/></radialGradient>
<radialGradient id="s106" cx="0.38" cy="0.36" r="0.7"><stop offset="0" stop-color="#f89090"/><stop offset="0.55" stop-color="#f00808"/><stop offset="1" stop-color="#a80606"/></radialGradient>
<radialGradient id="a107" cx="0.4" cy="0.38" r="0.62"><stop offset="0" stop-color="#f48c8c"/><stop offset="0.5" stop-color="#ea1a1a"/><stop offset="1" stop-color="#880f0f"/></radialGradient>
<radialGradient id="s107" cx="0.38" cy="0.36" r="0.7"><stop offset="0" stop-color="#f59090"/><stop offset="0.55" stop-color="#e80808"/><stop offset="1" stop-color="#a20606"/></radialGradient>
<radialGradient id="a108" cx="0.4" cy="0.38" r="0.62"><stop offset="0" stop-color="#f18c8c"/><stop offset="0.5" stop-color="#e21a1a"/><stop offset="1" stop-color="#830f0f"/></radialGradient>
<radialGradient id="s108" cx="0.38" cy="0.36" r="0.7"><stop offset="0" stop-color="#f19090"/><stop offset="0.55" stop-color="#e00808"/><stop offset="1" stop-color="#9d0606"/></radialGradient>
<radialGradient id="a109" cx="0.4" cy="0.38" r="0.62"><stop offset="0" stop-color="#ed8c8c"/><stop offset="0.5" stop-color="#db1a1a"/><stop offset="1" stop-color="#7f0f0f"/></radialGradient>
<radialGradient id="s109" cx="0.38" cy="0.36" r="0.7"><stop offset="0" stop-color="#ee9090"/><stop offset="0.55" stop-color="#d80808"/><stop offset="1" stop-color="#970606"/></radialGradient>
<radialGradient id="a110" cx="0.4" cy="0.38" r="0.62"><stop offset="0" stop-color="#e98c8c"/><stop offset="0.5" stop-color="#d31a1a"/><stop offset="1" stop-color="#7b0f0f"/></radialGradient>
<radialGradient id="s110" cx="0.38" cy="0.36" r="0.7"><stop offset="0" stop-color="#ea9090"/><stop offset="0.55" stop-color="#d00808"/><stop offset="1" stop-color="#920606"/></radialGradient>
<radialGradient id="a111" cx="0.4" cy="0.38" r="0.62"><stop offset="0" stop-color="#e58c8c"/><stop offset="0.5" stop-color="#cc1a1a"/><stop offset="1" stop-color="#760f0f"/></radialGradient>
<radialGradient id="s111" cx="0.38" cy="0.36" r="0.7"><stop offset="0" stop-color="#e69090"/><stop offset="0.55" stop-color="#c80808"/><stop offset="1" stop-color="#8c0606"/></radialGradient>
<radialGradient id="a112" cx="0.4" cy="0.38" r="0.62"><stop offset="0" stop-color="#e28c8c"/><stop offset="0.5" stop-color="#c51a1a"/><stop offset="1" stop-color="#720f0f"/></radialGradient>
<radialGradient id="s112" cx="0.38" cy="0.36" r="0.7"><stop offset="0" stop-color="#e39090"/><stop offset="0.55" stop-color="#c00808"/><stop offset="1" stop-color="#870606"/></radialGradient>
<radialGradient id="a113" cx="0.4" cy="0.38" r="0.62"><stop offset="0" stop-color="#de8c8c"/><stop offset="0.5" stop-color="#bd1a1a"/><stop offset="1" stop-color="#6e0f0f"/></radialGradient>
<radialGradient id="s113" cx="0.38" cy="0.36" r="0.7"><stop offset="0" stop-color="#df9090"/><stop offset="0.55" stop-color="#b80808"/><stop offset="1" stop-color="#810606"/></radialGradient>
<radialGradient id="a114" cx="0.4" cy="0.38" r="0.62"><stop offset="0" stop-color="#da8c8c"/><stop offset="0.5" stop-color="#b61a1a"/><stop offset="1" stop-color="#690f0f"/></radialGradient>
<radialGradient id="s114" cx="0.38" cy="0.36" r="0.7"><stop offset="0" stop-color="#dc9090"/><stop offset="0.55" stop-color="#b00808"/><stop offset="1" stop-color="#7b0606"/></radialGradient>
<radialGradient id="a115" cx="0.4" cy="0.38" r="0.62"><stop offset="0" stop-color="#d78c8c"/><stop offset="0.5" stop-color="#ae1a1a"/><stop offset="1" stop-color="#650f0f"/></radialGradient>
<radialGradient id="s115" cx="0.38" cy="0.36" r="0.7"><stop offset="0" stop-color="#d89090"/><stop offset="0.55" stop-color="#a80808"/><stop offset="1" stop-color="#760606"/></radialGradient>
<radialGradient id="a116" cx="0.4" cy="0.38" r="0.62"><stop offset="0" stop-color="#d38c8c"/><stop offset="0.5" stop-color="#a71a1a"/><stop offset="1" stop-color="#610f0f"/></radialGradient>
<radialGradient id="s116" cx="0.38" cy="0.36" r="0.7"><stop offset="0" stop-color="#d49090"/><stop offset="0.55" stop-color="#a00808"/><stop offset="1" stop-color="#700606"/></radialGradient>
<radialGradient id="a117" cx="0.4" cy="0.38" r="0.62"><stop offset="0" stop-color="#cf8c8c"/><stop offset="0.5" stop-color="#9f1a1a"/><stop offset="1" stop-color="#5c0f0f"/></radialGradient>
<radialGradient id="s117" cx="0.38" cy="0.36" r="0.7"><stop offset="0" stop-color="#d19090"/><stop offset="0.55" stop-color="#980808"/><stop offset="1" stop-color="#6b0606"/></radialGradient>
<radialGradient id="a118" cx="0.4" cy="0.38" r="0.62"><stop offset="0" stop-color="#cb8c8c"/><stop offset="0.5" stop-color="#981a1a"/><stop offset="1" stop-color="#580f0f"/></radialGradient>
<radialGradient id="s118" cx="0.38" cy="0.36" r="0.7"><stop offset="0" stop-color="#cd9090"/><stop offset="0.55" stop-color="#900808"/><stop offset="1" stop-color="#650606"/></radialGradient>
<radialGradient id="a119" cx="0.4" cy="0.38" r="0.62"><stop offset="0" stop-color="#c88c8c"/><stop offset="0.5" stop-color="#911a1a"/><stop offset="1" stop-color="#540f0f"/></radialGradient>
<radialGradient id="s119" cx="0.38" cy="0.36" r="0.7"><stop offset="0" stop-color="#ca9090"/><stop offset="0.55" stop-color="#880808"/><stop offset="1" stop-color="#5f0606"/></radialGradient>
<radialGradient id="a120" cx="0.4" cy="0.38" r="0.62"><stop offset="0" stop-color="#c48c8c"/><stop offset="0.5" stop-color="#891a1a"/><stop offset="1" stop-color="#500f0f"/></radialGradient>
<radialGradient id="s120" cx="0.38" cy="0.36" r="0.7"><stop offset="0" stop-color="#c69090"/><stop offset="0.55" stop-color="#800808"/><stop offset="1" stop-color="#5a0606"/></radialGradient>
<linearGradient id="cb" x1="0" y1="0" x2="0" y2="1"><stop offset="0" stop-color="#800000"/><stop offset="0.125" stop-color="#ff0000"/><stop offset="0.375" stop-color="#ffff00"/><stop offset="0.625" stop-color="#00ffff"/><stop offset="0.875" stop-color="#0000ff"/><stop offset="1" stop-color="#000080"/></linearGradient>
<filter id="soft" x="0" y="0" width="640" height="480" filterUnits="userSpaceOnUse"><feGaussianBlur stdDeviation="0.45"/></filter>
<clipPath id="fig"><rect x="234" y="0" width="262.4" height="435.5"/></clipPath>
</defs>
<rect width="640" height="480" fill="#fff"/>
<g clip-path="url(#fig)" filter="url(#soft)">
<g>
<circle cx="264.9" cy="62.9" r="3.1" fill="url(#a101)"/>
<circle cx="270.2" cy="62.9" r="3.1" fill="url(#a101)"/>
<circle cx="275.5" cy="62.9" r="3.1" fill="url(#a101)"/>
<circle cx="280.8" cy="62.9" r="3.1" fill="url(#a101)"/>
<circle cx="286.1" cy="62.9" r="3.1" fill="url(#a102)"/>
<circle cx="291.4" cy="62.9" r="3.1" fill="url(#a102)"/>
<circle cx="296.7" cy="62.9" r="3.1" fill="url(#a102)"/>
<circle cx="302.0" cy="62.9" r="3.1" fill="url(#a103)"/>
<circle cx="307.3" cy="62.9" r="3.1" fill="url(#a103)"/>
<circle cx="312.6" cy="62.9" r="3.1" fill="url(#a103)"/>
<circle cx="317.9" cy="62.9" r="3.1" fill="url(#a103)"/>
<circle cx="323.2" cy="62.9" r="3.1" fill="url(#a104)"/>
<circle cx="328.5" cy="62.9" r="3.1" fill="url(#a104)"/>
<circle cx="262.2" cy="67.3" r="3.1" fill="url(#a99)"/>
<circle cx="267.6" cy="67.3" r="3.1" fill="url(#a99)"/>
<circle cx="272.9" cy="67.3" r="3.1" fill="url(#a99)"/>
<circle cx="278.1" cy="67.3" r="3.1" fill="url(#a100)"/>
<circle cx="283.4" cy="67.3" r="3.1" fill="url(#a100)"/>
<circle cx="288.8" cy="67.3" r="3.1" fill="url(#a101)"/>
<circle cx="294.1" cy="67.3" r="3.1" fill="url(#a101)"/>
<circle cx="299.4" cy="67.3" r="3.1" fill="url(#a101)"/>
<circle cx="304.6" cy="67.3" r="3.1" fill="url(#a102)"/>
<circle cx="309.9" cy="67.3" r="3.1" fill="url(#a102)"/>
<circle cx="315.2" cy="67.3" r="3.1" fill="url(#a102)"/>
<circle cx="320.6" cy="67.3" r="3.1" fill="url(#a103)"/>
<circle cx="325.9" cy="67.3" r="3.1" fill="url(#a103)"/>
<circle cx="264.9" cy="71.7" r="3.1" fill="url(#a97)"/>
<circle cx="270.2" cy="71.7" r="3.1" fill="url(#a97)"/>
<circle cx="275.5" cy="71.7" r="3.1" fill="url(#a98)"/>
<circle cx="280.8" cy="71.7" r="3.1" fill="url(#a98)"/>
<circle cx="286.1" cy="71.7" r="3.1" fill="url(#a99)"/>
<circle cx="291.4" cy="71.7" r="3.1" fill="url(#a99)"/>
<circle cx="296.7" cy="71.7" r="3.1" fill="url(#a100)"/>
<circle cx="302.0" cy="71.7" r="3.1" fill="url(#a101)"/>
<circle cx="307.3" cy="71.7" r="3.1" fill="url(#a101)"/>
<circle cx="312.6" cy="71.7" r="3.1" fill="url(#a101)"/>
<circle cx="317.9" cy="71.7" r="3.1" fill="url(#a102)"/>
<circle cx="323.2" cy="71.7" r="3.1" fill="url(#a102)"/>
<circle cx="328.5" cy="71.7" r="3.1" fill="url(#a102)"/>
<circle cx="262.2" cy="76.0" r="3.1" fill="url(#a95)"/>
<circle cx="267.6" cy="76.0" r="3.1" fill="url(#a96)"/>
<circle cx="272.9" cy="76.0" r="3.1" fill="url(#a96)"/>
<circle cx="278.1" cy="76.0" r="3.1" fill="url(#a97)"/>
<circle cx="283.4" cy="76.0" r="3.1" fill="url(#a97)"/>
<circle cx="288.8" cy="76.0" r="3.1" fill="url(#a98)"/>
<circle cx="294.1" cy="76.0" r="3.1" fill="url(#a99)"/>
<circle cx="299.4" cy="76.0" r="3.1" fill="url(#a99)"/>
<circle cx="304.6" cy="76.0" r="3.1" fill="url(#a100)"/>
<circle cx="309.9" cy="76.0" r="3.1" fill="url(#a100)"/>
<circle cx="315.2" cy="76.0" r="3.1" fill="url(#a101)"/>
<circle cx="320.6" cy="76.0" r="3.1" fill="url(#a101)"/>
<circle cx="325.9" cy="76.0" r="3.1" fill="url(#a102)"/>
<circle cx="264.9" cy="80.4" r="3.1" fill="url(#a94)"/>
<circle cx="270.2" cy="80.4" r="3.1" fill="url(#a94)"/>
<circle cx="275.5" cy="80.4" r="3.1" fill="url(#a95)"/>
<circle cx="280.8" cy="80.4" r="3.1" fill="url(#a95)"/>
<circle cx="286.1" cy="80.4" r="3.1" fill="url(#a96)"/>
<circle cx="291.4" cy="80.4" r="3.1" fill="url(#a97)"/>
<circle cx="296.7" cy="80.4" r="3.1" fill="url(#a98)"/>
<circle cx="302.0" cy="80.4" r="3.1" fill="url(#a98)"/>
<circle cx="307.3" cy="80.4" r="3.1" fill="url(#a99)"/>
<circle cx="312.6" cy="80.4" r="3.1" fill="url(#a100)"/>
<circle cx="317.9" cy="80.4" r="3.1" fill="url(#a100)"/>
<circle cx="323.2" cy="80.4" r="3.1" fill="url(#a101)"/>
<circle cx="328.5" cy="80.4" r="3.1" fill="url(#a101)"/>
<circle cx="262.2" cy="84.8" r="3.1" fill="url(#a92)"/>
<circle cx="267.6" cy="84.8" r="3.1" fill="url(#a92)"/>
<circle cx="272.9" cy="84.8" r="3.1" fill="url(#a93)"/>
<circle cx="278.1" cy="84.8" r="3.1" fill="url(#a94)"/>
<circle cx="283.4" cy="84.8" r="3.1" fill="url(#a94)"/>
<circle cx="288.8" cy="84.8" r="3.1" fill="url(#a95)"/>
<circle cx="294.1" cy="84.8" r="3.1" fill="url(#a96)"/>
<circle cx="299.4" cy="84.8" r="3.1" fill="url(#a97)"/>
<circle cx="304.6" cy="84.8" r="3.1" fill="url(#a98)"/>
<circle cx="309.9" cy="84.8" r="3.1" fill="url(#a99)"/>
<circle cx="315.2" cy="84.8" r="3.1" fill="url(#a99)"/>
<circle cx="320.6" cy="84.8" r="3.1" fill="url(#a100)"/>
<circle cx="325.9" cy="84.8" r="3.1" fill="url(#a100)"/>
<circle cx="331.1" cy="84.8" r="3.1" fill="url(#a100)"/>
<circle cx="336.4" cy="84.8" r="3.1" fill="url(#a100)"/>
<circle cx="264.9" cy="89.2" r="3.1" fill="url(#a90)"/>
<circle cx="270.2" cy="89.2" r="3.1" fill="url(#a90)"/>
<circle cx="275.5" cy="89.2" r="3.1" fill="url(#a91)"/>
<circle cx="280.8" cy="89.2" r="3.1" fill="url(#a92)"/>
<circle cx="286.1" cy="89.2" r="3.1" fill="url(#a94)"/>
<circle cx="291.4" cy="89.2" r="3.1" fill="url(#a95)"/>
<circle cx="296.7" cy="89.2" r="3.1" fill="url(#a96)"/>
<circle cx="302.0" cy="89.2" r="3.1" fill="url(#a97)"/>
<circle cx="307.3" cy="89.2" r="3.1" fill="url(#a97)"/>
<circle cx="312.6" cy="89.2" r="3.1" fill="url(#a98)"/>
<circle cx="317.9" cy="89.2" r="3.1" fill="url(#a99)"/>
<circle cx="323.2" cy="89.2" r="3.1" fill="url(#a100)"/>
<circle cx="328.5" cy="89.2" r="3.1" fill="url(#a100)"/>
<circle cx="333.8" cy="89.2" r="3.1" fill="url(#a100)"/>
<circle cx="339.1" cy="89.2" r="3.1" fill="url(#a100)"/>
<circle cx="262.2" cy="93.6" r="3.1" fill="url(#a88)"/>
<circle cx="267.6" cy="93.6" r="3.1" fill="url(#a88)"/>
<circle cx="272.9" cy="93.6" r="3.1" fill="url(#a89)"/>
<circle cx="278.1" cy="93.6" r="3.1" fill="url(#a90)"/>
<circle cx="283.4" cy="93.6" r="3.1" fill="url(#a91)"/>
<circle cx="288.8" cy="93.6" r="3.1" fill="url(#a93)"/>
<circle cx="294.1" cy="93.6" r="3.1" fill="url(#a94)"/>
<circle cx="299.4" cy="93.6" r="3.1" fill="url(#a95)"/>
<circle cx="304.6" cy="93.6" r="3.1" fill="url(#a96)"/>
<circle cx="309.9" cy="93.6" r="3.1" fill="url(#a97)"/>
<circle cx="315.2" cy="93.6" r="3.1" fill="url(#a98)"/>
<circle cx="320.6" cy="93.6" r="3.1" fill="url(#a99)"/>
<circle cx="325.9" cy="93.6" r="3.1" fill="url(#a99)"/>
<circle cx="331.1" cy="93.6" r="3.1" fill="url(#a99)"/>
<circle cx="336.4" cy="93.6" r="3.1" fill="url(#a99)"/>
<circle cx="264.9" cy="97.9" r="3.1" fill="url(#a87)"/>
<circle cx="270.2" cy="97.9" r="3.1" fill="url(#a88)"/>
<circle cx="275.5" cy="97.9" r="3.1" fill="url(#a89)"/>
<circle cx="280.8" cy="97.9" r="3.1" fill="url(#a90)"/>
<circle cx="286.1" cy="97.9" r="3.1" fill="url(#a92)"/>
<circle cx="291.4" cy="97.9" r="3.1" fill="url(#a93)"/>
<circle cx="296.7" cy="97.9" r="3.1" fill="url(#a94)"/>
<circle cx="302.0" cy="97.9" r="3.1" fill="url(#a95)"/>
<circle cx="307.3" cy="97.9" r="3.1" fill="url(#a96)"/>
<circle cx="312.6" cy="97.9" r="3.1" fill="url(#a97)"/>
<circle cx="317.9" cy="97.9" r="3.1" fill="url(#a98)"/>
<circle cx="323.2" cy="97.9" r="3.1" fill="url(#a98)"/>
<circle cx="328.5" cy="97.9" r="3.1" fill="url(#a98)"/>
<circle cx="333.8" cy="97.9" r="3.1" fill="url(#a99)"/>
<circle cx="339.1" cy="97.9" r="3.1" fill="url(#a99)"/>
<circle cx="262.2" cy="102.3" r="3.1" fill="url(#a87)"/>
<circle cx="267.6" cy="102.3" r="3.1" fill="url(#a87)"/>
<circle cx="272.9" cy="102.3" r="3.1" fill="url(#a87)"/>
<circle cx="278.1" cy="102.3" r="3.1" fill="url(#a88)"/>
<circle cx="283.4" cy="102.3" r="3.1" fill="url(#a91)"/>
<circle cx="288.8" cy="102.3" r="3.1" fill="url(#a92)"/>
<circle cx="294.1" cy="102.3" r="3.1" fill="url(#a94)"/>
<circle cx="299.4" cy="102.3" r="3.1" fill="url(#a94)"/>
<circle cx="304.6" cy="102.3" r="3.1" fill="url(#a95)"/>
<circle cx="309.9" cy="102.3" r="3.1" fill="url(#a96)"/>
<circle cx="315.2" cy="102.3" r="3.1" fill="url(#a97)"/>
<circle cx="320.6" cy="102.3" r="3.1" fill="url(#a98)"/>
<circle cx="325.9" cy="102.3" r="3.1" fill="url(#a98)"/>
<circle cx="331.1" cy="102.3" r="3.1" fill="url(#a98)"/>
<circle cx="336.4" cy="102.3" r="3.1" fill="url(#a98)"/>
<circle cx="264.9" cy="106.7" r="3.1" fill="url(#a86)"/>
<circle cx="270.2" cy="106.7" r="3.1" fill="url(#a86)"/>
<circle cx="275.5" cy="106.7" r="3.1" fill="url(#a87)"/>
<circle cx="280.8" cy="106.7" r="3.1" fill="url(#a87)"/>
<circle cx="286.1" cy="106.7" r="3.1" fill="url(#a92)"/>
<circle cx="291.4" cy="106.7" r="3.1" fill="url(#a93)"/>
<circle cx="296.7" cy="106.7" r="3.1" fill="url(#a94)"/>
<circle cx="302.0" cy="106.7" r="3.1" fill="url(#a95)"/>
<circle cx="307.3" cy="106.7" r="3.1" fill="url(#a96)"/>
<circle cx="312.6" cy="106.7" r="3.1" fill="url(#a97)"/>
<circle cx="317.9" cy="106.7" r="3.1" fill="url(#a97)"/>
<circle cx="323.2" cy="106.7" r="3.1" fill="url(#a98)"/>
<circle cx="328.5" cy="106.7" r="3.1" fill="url(#a98)"/>
<circle cx="333.8" cy="106.7" r="3.1" fill="url(#a98)"/>
<circle cx="339.1" cy="106.7" r="3.1" fill="url(#a98)"/>
<circle cx="262.2" cy="111.1" r="3.1" fill="url(#a86)"/>
<circle cx="267.6" cy="111.1" r="3.1" fill="url(#a86)"/>
<circle cx="272.9" cy="111.1" r="3.1" fill="url(#a86)"/>
<circle cx="278.1" cy="111.1" r="3.1" fill="url(#a86)"/>
<circle cx="283.4" cy="111.1" r="3.1" fill="url(#a86)"/>
<circle cx="288.8" cy="111.1" r="3.1" fill="url(#a93)"/>
<circle cx="294.1" cy="111.1" r="3.1" fill="url(#a94)"/>
<circle cx="299.4" cy="111.1" r="3.1" fill="url(#a95)"/>
<circle cx="304.6" cy="111.1" r="3.1" fill="url(#a95)"/>
<circle cx="309.9" cy="111.1" r="3.1" fill="url(#a96)"/>
<circle cx="315.2" cy="111.1" r="3.1" fill="url(#a97)"/>
<circle cx="320.6" cy="111.1" r="3.1" fill="url(#a97)"/>
<circle cx="325.9" cy="111.1" r="3.1" fill="url(#a98)"/>
<circle cx="331.1" cy="111.1" r="3.1" fill="url(#a98)"/>
<circle cx="336.4" cy="111.1" r="3.1" fill="url(#a98)"/>
<circle cx="264.9" cy="115.5" r="3.1" fill="url(#a85)"/>
<circle cx="270.2" cy="115.5" r="3.1" fill="url(#a85)"/>
<circle cx="275.5" cy="115.5" r="3.1" fill="url(#a85)"/>
<circle cx="280.8" cy="115.5" r="3.1" fill="url(#a85)"/>
<circle cx="286.1" cy="115.5" r="3.1" fill="url(#a85)"/>
<circle cx="291.4" cy="115.5" r="3.1" fill="url(#a94)"/>
<circle cx="296.7" cy="115.5" r="3.1" fill="url(#a94)"/>
<circle cx="302.0" cy="115.5" r="3.1" fill="url(#a95)"/>
<circle cx="307.3" cy="115.5" r="3.1" fill="url(#a96)"/>
<circle cx="312.6" cy="115.5" r="3.1" fill="url(#a96)"/>
<circle cx="317.9" cy="115.5" r="3.1" fill="url(#a97)"/>
<circle cx="323.2" cy="115.5" r="3.1" fill="url(#a97)"/>
<circle cx="328.5" cy="115.5" r="3.1" fill="url(#a97)"/>
<circle cx="333.8" cy="115.5" r="3.1" fill="url(#a97)"/>
<circle cx="339.1" cy="115.5" r="3.1" fill="url(#a97)"/>
<circle cx="262.2" cy="119.8" r="3.1" fill="url(#a84)"/>
<circle cx="267.6" cy="119.8" r="3.1" fill="url(#a84)"/>
<circle cx="272.9" cy="119.8" r="3.1" fill="url(#a84)"/>
<circle cx="278.1" cy="119.8" r="3.1" fill="url(#a84)"/>
<circle cx="283.4" cy="119.8" r="3.1" fill="url(#a85)"/>
<circle cx="288.8" cy="119.8" r="3.1" fill="url(#a85)"/>
<circle cx="294.1" cy="119.8" r="3.1" fill="url(#a94)"/>
<circle cx="299.4" cy="119.8" r="3.1" fill="url(#a95)"/>
<circle cx="304.6" cy="119.8" r="3.1" fill="url(#a95)"/>
<circle cx="309.9" cy="119.8" r="3.1" fill="url(#a96)"/>
<circle cx="315.2" cy="119.8" r="3.1" fill="url(#a96)"/>
<circle cx="320.6" cy="119.8" r="3.1" fill="url(#a96)"/>
<circle cx="325.9" cy="119.8" r="3.1" fill="url(#a97)"/>
<circle cx="331.1" cy="119.8" r="3.1" fill="url(#a97)"/>
<circle cx="336.4" cy="119.8" r="3.1" fill="url(#a97)"/>
<circle cx="264.9" cy="124.2" r="3.1" fill="url(#a84)"/>
<circle cx="270.2" cy="124.2" r="3.1" fill="url(#a84)"/>
<circle cx="275.5" cy="124.2" r="3.1" fill="url(#a84)"/>
<circle cx="280.8" cy="124.2" r="3.1" fill="url(#a84)"/>
<circle cx="286.1" cy="124.2" r="3.1" fill="url(#a84)"/>
<circle cx="291.4" cy="124.2" r="3.1" fill="url(#a83)"/>
<circle cx="296.7" cy="124.2" r="3.1" fill="url(#a94)"/>
<circle cx="302.0" cy="124.2" r="3.1" fill="url(#a94)"/>
<circle cx="307.3" cy="124.2" r="3.1" fill="url(#a95)"/>
<circle cx="312.6" cy="124.2" r="3.1" fill="url(#a95)"/>
<circle cx="317.9" cy="124.2" r="3.1" fill="url(#a96)"/>
<circle cx="323.2" cy="124.2" r="3.1" fill="url(#a96)"/>
<circle cx="328.5" cy="124.2" r="3.1" fill="url(#a96)"/>
<circle cx="333.8" cy="124.2" r="3.1" fill="url(#a96)"/>
<circle cx="339.1" cy="124.2" r="3.1" fill="url(#a96)"/>
<circle cx="262.2" cy="128.6" r="3.1" fill="url(#a83)"/>
<circle cx="267.6" cy="128.6" r="3.1" fill="url(#a83)"/>
<circle cx="272.9" cy="128.6" r="3.1" fill="url(#a83)"/>
<circle cx="278.1" cy="128.6" r="3.1" fill="url(#a83)"/>
<circle cx="283.4" cy="128.6" r="3.1" fill="url(#a83)"/>
<circle cx="288.8" cy="128.6" r="3.1" fill="url(#a83)"/>
<circle cx="294.1" cy="128.6" r="3.1" fill="url(#a82)"/>
<circle cx="299.4" cy="128.6" r="3.1" fill="url(#a94)"/>
<circle cx="304.6" cy="128.6" r="3.1" fill="url(#a94)"/>
<circle cx="309.9" cy="128.6" r="3.1" fill="url(#a95)"/>
<circle cx="315.2" cy="128.6" r="3.1" fill="url(#a95)"/>
<circle cx="320.6" cy="128.6" r="3.1" fill="url(#a95)"/>
<circle cx="325.9" cy="128.6" r="3.1" fill="url(#a95)"/>
<circle cx="331.1" cy="128.6" r="3.1" fill="url(#a95)"/>
<circle cx="336.4" cy="128.6" r="3.1" fill="url(#a95)"/>
<circle cx="264.9" cy="133.0" r="3.1" fill="url(#a83)"/>
<circle cx="270.2" cy="133.0" r="3.1" fill="url(#a83)"/>
<circle cx="275.5" cy="133.0" r="3.1" fill="url(#a82)"/>
<circle cx="280.8" cy="133.0" r="3.1" fill="url(#a82)"/>
<circle cx="286.1" cy="133.0" r="3.1" fill="url(#a82)"/>
<circle cx="291.4" cy="133.0" r="3.1" fill="url(#a81)"/>
<circle cx="296.7" cy="133.0" r="3.1" fill="url(#a81)"/>
<circle cx="302.0" cy="133.0" r="3.1" fill="url(#a94)"/>
<circle cx="307.3" cy="133.0" r="3.1" fill="url(#a94)"/>
<circle cx="312.6" cy="133.0" r="3.1" fill="url(#a95)"/>
<circle cx="317.9" cy="133.0" r="3.1" fill="url(#a95)"/>
<circle cx="323.2" cy="133.0" r="3.1" fill="url(#a95)"/>
<circle cx="328.5" cy="133.0" r="3.1" fill="url(#a95)"/>
<circle cx="333.8" cy="133.0" r="3.1" fill="url(#a95)"/>
<circle cx="339.1" cy="133.0" r="3.1" fill="url(#a95)"/>
<circle cx="262.2" cy="137.4" r="3.1" fill="url(#a82)"/>
<circle cx="267.6" cy="137.4" r="3.1" fill="url(#a82)"/>
<circle cx="272.9" cy="137.4" r="3.1" fill="url(#a82)"/>
<circle cx="278.1" cy="137.4" r="3.1" fill="url(#a82)"/>
<circle cx="283.4" cy="137.4" r="3.1" fill="url(#a81)"/>
<circle cx="288.8" cy="137.4" r="3.1" fill="url(#a81)"/>
<circle cx="294.1" cy="137.4" r="3.1" fill="url(#a80)"/>
<circle cx="299.4" cy="137.4" r="3.1" fill="url(#a80)"/>
<circle cx="304.6" cy="137.4" r="3.1" fill="url(#a94)"/>
<circle cx="309.9" cy="137.4" r="3.1" fill="url(#a94)"/>
<circle cx="315.2" cy="137.4" r="3.1" fill="url(#a94)"/>
<circle cx="320.6" cy="137.4" r="3.1" fill="url(#a94)"/>
<circle cx="325.9" cy="137.4" r="3.1" fill="url(#a94)"/>
<circle cx="331.1" cy="137.4" r="3.1" fill="url(#a94)"/>
<circle cx="336.4" cy="137.4" r="3.1" fill="url(#a94)"/>
<circle cx="264.9" cy="141.7" r="3.1" fill="url(#a82)"/>
<circle cx="270.2" cy="141.7" r="3.1" fill="url(#a81)"/>
<circle cx="275.5" cy="141.7" r="3.1" fill="url(#a81)"/>
<circle cx="280.8" cy="141.7" r="3.1" fill="url(#a81)"/>
<circle cx="286.1" cy="141.7" r="3.1" fill="url(#a80)"/>
<circle cx="291.4" cy="141.7" r="3.1" fill="url(#a80)"/>
<circle cx="296.7" cy="141.7" r="3.1" fill="url(#a79)"/>
<circle cx="302.0" cy="141.7" r="3.1" fill="url(#a79)"/>
<circle cx="307.3" cy="141.7" r="3.1" fill="url(#a94)"/>
<circle cx="312.6" cy="141.7" r="3.1" fill="url(#a94)"/>
<circle cx="317.9" cy="141.7" r="3.1" fill="url(#a94)"/>
<circle cx="323.2" cy="141.7" r="3.1" fill="url(#a94)"/>
<circle cx="328.5" cy="141.7" r="3.1" fill="url(#a94)"/>
<circle cx="333.8" cy="141.7" r="3.1" fill="url(#a94)"/>
<circle cx="339.1" cy="141.7" r="3.1" fill="url(#a94)"/>
<circle cx="262.2" cy="146.1" r="3.1" fill="url(#a81)"/>
<circle cx="267.6" cy="146.1" r="3.1" fill="url(#a81)"/>
<circle cx="272.9" cy="146.1" r="3.1" fill="url(#a80)"/>
<circle cx="278.1" cy="146.1" r="3.1" fill="url(#a80)"/>
<circle cx="283.4" cy="146.1" r="3.1" fill="url(#a80)"/>
<circle cx="288.8" cy="146.1" r="3.1" fill="url(#a79)"/>
<circle cx="294.1" cy="146.1" r="3.1" fill="url(#a79)"/>
<circle cx="299.4" cy="146.1" r="3.1" fill="url(#a78)"/>
<circle cx="304.6" cy="146.1" r="3.1" fill="url(#a77)"/>
<circle cx="309.9" cy="146.1" r="3.1" fill="url(#a94)"/>
<circle cx="315.2" cy="146.1" r="3.1" fill="url(#a94)"/>
<circle cx="320.6" cy="146.1" r="3.1" fill="url(#a94)"/>
<circle cx="325.9" cy="146.1" r="3.1" fill="url(#a94)"/>
<circle cx="331.1" cy="146.1" r="3.1" fill="url(#a93)"/>
<circle cx="336.4" cy="146.1" r="3.1" fill="url(#a93)"/>
<circle cx="264.9" cy="150.5" r="3.1" fill="url(#a80)"/>
<circle cx="270.2" cy="150.5" r="3.1" fill="url(#a80)"/>
<circle cx="275.5" cy="150.5" r="3.1" fill="url(#a79)"/>
<circle cx="280.8" cy="150.5" r="3.1" fill="url(#a79)"/>
<circle cx="286.1" cy="150.5" r="3.1" fill="url(#a78)"/>
<circle cx="291.4" cy="150.5" r="3.1" fill="url(#a78)"/>
<circle cx="296.7" cy="150.5" r="3.1" fill="url(#a77)"/>
<circle cx="302.0" cy="150.5" r="3.1" fill="url(#a77)"/>
<circle cx="307.3" cy="150.5" r="3.1" fill="url(#a76)"/>
<circle cx="312.6" cy="150.5" r="3.1" fill="url(#a94)"/>
<circle cx="317.9" cy="150.5" r="3.1" fill="url(#a93)"/>
<circle cx="323.2" cy="150.5" r="3.1" fill="url(#a93)"/>
<circle cx="328.5" cy="150.5" r="3.1" fill="url(#a93)"/>
<circle cx="333.8" cy="150.5" r="3.1" fill="url(#a93)"/>
<circle cx="339.1" cy="150.5" r="3.1" fill="url(#a93)"/>
<circle cx="262.2" cy="154.9" r="3.1" fill="url(#a79)"/>
<circle cx="267.6" cy="154.9" r="3.1" fill="url(#a79)"/>
<circle cx="272.9" cy="154.9" r="3.1" fill="url(#a79)"/>
<circle cx="278.1" cy="154.9" r="3.1" fill="url(#a78)"/>
<circle cx="283.4" cy="154.9" r="3.1" fill="url(#a78)"/>
<circle cx="288.8" cy="154.9" r="3.1" fill="url(#a77)"/>
<circle cx="294.1" cy="154.9" r="3.1" fill="url(#a77)"/>
<circle cx="299.4" cy="154.9" r="3.1" fill="url(#a76)"/>
<circle cx="304.6" cy="154.9" r="3.1" fill="url(#a76)"/>
<circle cx="309.9" cy="154.9" r="3.1" fill="url(#a75)"/>
<circle cx="315.2" cy="154.9" r="3.1" fill="url(#a93)"/>
<circle cx="320.6" cy="154.9" r="3.1" fill="url(#a93)"/>
<circle cx="325.9" cy="154.9" r="3.1" fill="url(#a93)"/>
<circle cx="331.1" cy="154.9" r="3.1" fill="url(#a93)"/>
<circle cx="336.4" cy="154.9" r="3.1" fill="url(#a92)"/>
<circle cx="264.9" cy="159.3" r="3.1" fill="url(#a78)"/>
<circle cx="270.2" cy="159.3" r="3.1" fill="url(#a78)"/>
<circle cx="275.5" cy="159.3" r="3.1" fill="url(#a78)"/>
<circle cx="280.8" cy="159.3" r="3.1" fill="url(#a77)"/>
<circle cx="286.1" cy="159.3" r="3.1" fill="url(#a77)"/>
<circle cx="291.4" cy="159.3" r="3.1" fill="url(#a76)"/>
<circle cx="296.7" cy="159.3" r="3.1" fill="url(#a76)"/>
<circle cx="302.0" cy="159.3" r="3.1" fill="url(#a75)"/>
<circle cx="307.3" cy="159.3" r="3.1" fill="url(#a75)"/>
<circle cx="312.6" cy="159.3" r="3.1" fill="url(#a74)"/>
<circle cx="317.9" cy="159.3" r="3.1" fill="url(#a93)"/>
<circle cx="323.2" cy="159.3" r="3.1" fill="url(#a92)"/>
<circle cx="328.5" cy="159.3" r="3.1" fill="url(#a92)"/>
<circle cx="333.8" cy="159.3" r="3.1" fill="url(#a92)"/>
<circle cx="339.1" cy="159.3" r="3.1" fill="url(#a92)"/>
<circle cx="262.2" cy="163.6" r="3.1" fill="url(#a78)"/>
<circle cx="267.6" cy="163.6" r="3.1" fill="url(#a78)"/>
<circle cx="272.9" cy="163.6" r="3.1" fill="url(#a77)"/>
<circle cx="278.1" cy="163.6" r="3.1" fill="url(#a77)"/>
<circle cx="283.4" cy="163.6" r="3.1" fill="url(#a76)"/>
<circle cx="288.8" cy="163.6" r="3.1" fill="url(#a76)"/>
<circle cx="294.1" cy="163.6" r="3.1" fill="url(#a75)"/>
<circle cx="299.4" cy="163.6" r="3.1" fill="url(#a75)"/>
<circle cx="304.6" cy="163.6" r="3.1" fill="url(#a74)"/>
<circle cx="309.9" cy="163.6" r="3.1" fill="url(#a74)"/>
<circle cx="315.2" cy="163.6" r="3.1" fill="url(#a73)"/>
<circle cx="320.6" cy="163.6" r="3.1" fill="url(#a92)"/>
<circle cx="325.9" cy="163.6" r="3.1" fill="url(#a92)"/>
<circle cx="331.1" cy="163.6" r="3.1" fill="url(#a92)"/>
<circle cx="336.4" cy="163.6" r="3.1" fill="url(#a92)"/>
<circle cx="264.9" cy="168.0" r="3.1" fill="url(#a77)"/>
<circle cx="270.2" cy="168.0" r="3.1" fill="url(#a77)"/>
<circle cx="275.5" cy="168.0" r="3.1" fill="url(#a76)"/>
<circle cx="280.8" cy="168.0" r="3.1" fill="url(#a76)"/>
<circle cx="286.1" cy="168.0" r="3.1" fill="url(#a75)"/>
<circle cx="291.4" cy="168.0" r="3.1" fill="url(#a75)"/>
<circle cx="296.7" cy="168.0" r="3.1" fill="url(#a74)"/>
<circle cx="302.0" cy="168.0" r="3.1" fill="url(#a74)"/>
<circle cx="307.3" cy="168.0" r="3.1" fill="url(#a73)"/>
<circle cx="312.6" cy="168.0" r="3.1" fill="url(#a73)"/>
<circle cx="317.9" cy="168.0" r="3.1" fill="url(#a72)"/>
<circle cx="323.2" cy="168.0" r="3.1" fill="url(#a92)"/>
<circle cx="328.5" cy="168.0" r="3.1" fill="url(#a91)"/>
<circle cx="333.8" cy="168.0" r="3.1" fill="url(#a91)"/>
<circle cx="339.1" cy="168.0" r="3.1" fill="url(#a91)"/>
<circle cx="262.2" cy="172.4" r="3.1" fill="url(#a76)"/>
<circle cx="267.6" cy="172.4" r="3.1" fill="url(#a76)"/>
<circle cx="272.9" cy="172.4" r="3.1" fill="url(#a76)"/>
<circle cx="278.1" cy="172.4" r="3.1" fill="url(#a75)"/>
<circle cx="283.4" cy="172.4" r="3.1" fill="url(#a75)"/>
<circle cx="288.8" cy="172.4" r="3.1" fill="url(#a74)"/>
<circle cx="294.1" cy="172.4" r="3.1" fill="url(#a74)"/>
<circle cx="299.4" cy="172.4" r="3.1" fill="url(#a73)"/>
<circle cx="304.6" cy="172.4" r="3.1" fill="url(#a73)"/>
<circle cx="309.9" cy="172.4" r="3.1" fill="url(#a72)"/>
<circle cx="315.2" cy="172.4" r="3.1" fill="url(#a72)"/>
<circle cx="320.6" cy="172.4" r="3.1" fill="url(#a71)"/>
<circle cx="325.9" cy="172.4" r="3.1" fill="url(#a91)"/>
<circle cx="331.1" cy="172.4" r="3.1" fill="url(#a91)"/>
<circle cx="336.4" cy="172.4" r="3.1" fill="url(#a91)"/>
<circle cx="264.9" cy="176.8" r="3.1" fill="url(#a75)"/>
<circle cx="270.2" cy="176.8" r="3.1" fill="url(#a75)"/>
<circle cx="275.5" cy="176.8" r="3.1" fill="url(#a74)"/>
<circle cx="280.8" cy="176.8" r="3.1" fill="url(#a74)"/>
<circle cx="286.1" cy="176.8" r="3.1" fill="url(#a74)"/>
<circle cx="291.4" cy="176.8" r="3.1" fill="url(#a73)"/>
<circle cx="296.7" cy="176.8" r="3.1" fill="url(#a73)"/>
<circle cx="302.0" cy="176.8" r="3.1" fill="url(#a72)"/>
<circle cx="307.3" cy="176.8" r="3.1" fill="url(#a72)"/>
<circle cx="312.6" cy="176.8" r="3.1" fill="url(#a71)"/>
<circle cx="317.9" cy="176.8" r="3.1" fill="url(#a70)"/>
<circle cx="323.2" cy="176.8" r="3.1" fill="url(#a70)"/>
<circle cx="328.5" cy="176.8" r="3.1" fill="url(#a91)"/>
<circle cx="333.8" cy="176.8" r="3.1" fill="url(#a90)"/>
<circle cx="339.1" cy="176.8" r="3.1" fill="url(#a90)"/>
<circle cx="262.2" cy="181.2" r="3.1" fill="url(#a74)"/>
<circle cx="267.6" cy="181.2" r="3.1" fill="url(#a74)"/>
<circle cx="272.9" cy="181.2" r="3.1" fill="url(#a74)"/>
<circle cx="278.1" cy="181.2" r="3.1" fill="url(#a73)"/>
<circle cx="283.4" cy="181.2" r="3.1" fill="url(#a73)"/>
<circle cx="288.8" cy="181.2" r="3.1" fill="url(#a72)"/>
<circle cx="294.1" cy="181.2" r="3.1" fill="url(#a72)"/>
<circle cx="299.4" cy="181.2" r="3.1" fill="url(#a71)"/>
<circle cx="304.6" cy="181.2" r="3.1" fill="url(#a71)"/>
<circle cx="309.9" cy="181.2" r="3.1" fill="url(#a70)"/>
<circle cx="315.2" cy="181.2" r="3.1" fill="url(#a70)"/>
<circle cx="320.6" cy="181.2" r="3.1" fill="url(#a69)"/>
<circle cx="325.9" cy="181.2" r="3.1" fill="url(#a68)"/>
<circle cx="331.1" cy="181.2" r="3.1" fill="url(#a90)"/>
<circle cx="336.4" cy="181.2" r="3.1" fill="url(#a90)"/>
<circle cx="264.9" cy="185.5" r="3.1" fill="url(#a73)"/>
<circle cx="270.2" cy="185.5" r="3.1" fill="url(#a73)"/>
<circle cx="275.5" cy="185.5" r="3.1" fill="url(#a72)"/>
<circle cx="280.8" cy="185.5" r="3.1" fill="url(#a72)"/>
<circle cx="286.1" cy="185.5" r="3.1" fill="url(#a72)"/>
<circle cx="291.4" cy="185.5" r="3.1" fill="url(#a71)"/>
<circle cx="296.7" cy="185.5" r="3.1" fill="url(#a71)"/>
<circle cx="302.0" cy="185.5" r="3.1" fill="url(#a70)"/>
<circle cx="307.3" cy="185.5" r="3.1" fill="url(#a70)"/>
<circle cx="312.6" cy="185.5" r="3.1" fill="url(#a69)"/>
<circle cx="317.9" cy="185.5" r="3.1" fill="url(#a69)"/>
<circle cx="323.2" cy="185.5" r="3.1" fill="url(#a68)"/>
<circle cx="328.5" cy="185.5" r="3.1" fill="url(#a67)"/>
<circle cx="333.8" cy="185.5" r="3.1" fill="url(#a90)"/>
<circle cx="339.1" cy="185.5" r="3.1" fill="url(#a89)"/>
<circle cx="262.2" cy="189.9" r="3.1" fill="url(#a72)"/>
<circle cx="267.6" cy="189.9" r="3.1" fill="url(#a72)"/>
<circle cx="272.9" cy="189.9" r="3.1" fill="url(#a72)"/>
<circle cx="278.1" cy="189.9" r="3.1" fill="url(#a71)"/>
<circle cx="283.4" cy="189.9" r="3.1" fill="url(#a71)"/>
<circle cx="288.8" cy="189.9" r="3.1" fill="url(#a70)"/>
<circle cx="294.1" cy="189.9" r="3.1" fill="url(#a70)"/>
<circle cx="299.4" cy="189.9" r="3.1" fill="url(#a70)"/>
<circle cx="304.6" cy="189.9" r="3.1" fill="url(#a69)"/>
<circle cx="309.9" cy="189.9" r="3.1" fill="url(#a69)"/>
<circle cx="315.2" cy="189.9" r="3.1" fill="url(#a68)"/>
<circle cx="320.6" cy="189.9" r="3.1" fill="url(#a68)"/>
<circle cx="325.9" cy="189.9" r="3.1" fill="url(#a67)"/>
<circle cx="331.1" cy="189.9" r="3.1" fill="url(#a66)"/>
<circle cx="336.4" cy="189.9" r="3.1" fill="url(#a89)"/>
<circle cx="264.9" cy="194.3" r="3.1" fill="url(#a71)"/>
<circle cx="270.2" cy="194.3" r="3.1" fill="url(#a71)"/>
<circle cx="275.5" cy="194.3" r="3.1" fill="url(#a70)"/>
<circle cx="280.8" cy="194.3" r="3.1" fill="url(#a70)"/>
<circle cx="286.1" cy="194.3" r="3.1" fill="url(#a70)"/>
<circle cx="291.4" cy="194.3" r="3.1" fill="url(#a69)"/>
<circle cx="296.7" cy="194.3" r="3.1" fill="url(#a69)"/>
<circle cx="302.0" cy="194.3" r="3.1" fill="url(#a68)"/>
<circle cx="307.3" cy="194.3" r="3.1" fill="url(#a68)"/>
<circle cx="312.6" cy="194.3" r="3.1" fill="url(#a68)"/>
<circle cx="317.9" cy="194.3" r="3.1" fill="url(#a67)"/>
<circle cx="323.2" cy="194.3" r="3.1" fill="url(#a67)"/>
<circle cx="328.5" cy="194.3" r="3.1" fill="url(#a66)"/>
<circle cx="333.8" cy="194.3" r="3.1" fill="url(#a66)"/>
<circle cx="339.1" cy="194.3" r="3.1" fill="url(#a88)"/>
<circle cx="383.9" cy="332.3" r="3.1" fill="url(#a37)"/>
<circle cx="389.1" cy="332.3" r="3.1" fill="url(#a37)"/>
<circle cx="394.4" cy="332.3" r="3.1" fill="url(#a37)"/>
<circle cx="399.8" cy="332.3" r="3.1" fill="url(#a37)"/>
<circle cx="405.1" cy="332.3" r="3.1" fill="url(#a37)"/>
<circle cx="410.4" cy="332.3" r="3.1" fill="url(#a37)"/>
<circle cx="415.6" cy="332.3" r="3.1" fill="url(#a37)"/>
<circle cx="381.2" cy="336.9" r="3.1" fill="url(#a36)"/>
<circle cx="386.5" cy="336.9" r="3.1" fill="url(#a36)"/>
<circle cx="391.8" cy="336.9" r="3.1" fill="url(#a36)"/>
<circle cx="397.1" cy="336.9" r="3.1" fill="url(#a36)"/>
<circle cx="402.4" cy="336.9" r="3.1" fill="url(#a36)"/>
<circle cx="407.7" cy="336.9" r="3.1" fill="url(#a36)"/>
<circle cx="413.0" cy="336.9" r="3.1" fill="url(#a36)"/>
<circle cx="418.3" cy="336.9" r="3.1" fill="url(#a36)"/>
<circle cx="423.6" cy="336.9" r="3.1" fill="url(#a59)"/>
<circle cx="428.9" cy="336.9" r="3.1" fill="url(#a59)"/>
<circle cx="434.2" cy="336.9" r="3.1" fill="url(#a59)"/>
<circle cx="439.5" cy="336.9" r="3.1" fill="url(#a59)"/>
<circle cx="444.8" cy="336.9" r="3.1" fill="url(#a59)"/>
<circle cx="450.1" cy="336.9" r="3.1" fill="url(#a59)"/>
<circle cx="455.4" cy="336.9" r="3.1" fill="url(#a59)"/>
<circle cx="460.7" cy="336.9" r="3.1" fill="url(#a59)"/>
<circle cx="466.0" cy="336.9" r="3.1" fill="url(#a59)"/>
<circle cx="471.3" cy="336.9" r="3.1" fill="url(#a59)"/>
<circle cx="476.6" cy="336.9" r="3.1" fill="url(#a59)"/>
<circle cx="481.9" cy="336.9" r="3.1" fill="url(#a59)"/>
<circle cx="487.2" cy="336.9" r="3.1" fill="url(#a59)"/>
<circle cx="492.5" cy="336.9" r="3.1" fill="url(#a59)"/>
<circle cx="497.8" cy="336.9" r="3.1" fill="url(#a59)"/>
<circle cx="383.9" cy="341.5" r="3.1" fill="url(#a36)"/>
<circle cx="389.1" cy="341.5" r="3.1" fill="url(#a36)"/>
<circle cx="394.4" cy="341.5" r="3.1" fill="url(#a36)"/>
<circle cx="399.8" cy="341.5" r="3.1" fill="url(#a35)"/>
<circle cx="405.1" cy="341.5" r="3.1" fill="url(#a35)"/>
<circle cx="410.4" cy="341.5" r="3.1" fill="url(#a35)"/>
<circle cx="415.6" cy="341.5" r="3.1" fill="url(#a35)"/>
<circle cx="420.9" cy="341.5" r="3.1" fill="url(#a35)"/>
<circle cx="426.2" cy="341.5" r="3.1" fill="url(#a59)"/>
<circle cx="431.6" cy="341.5" r="3.1" fill="url(#a58)"/>
<circle cx="436.9" cy="341.5" r="3.1" fill="url(#a58)"/>
<circle cx="442.1" cy="341.5" r="3.1" fill="url(#a58)"/>
<circle cx="447.4" cy="341.5" r="3.1" fill="url(#a58)"/>
<circle cx="452.8" cy="341.5" r="3.1" fill="url(#a58)"/>
<circle cx="458.1" cy="341.5" r="3.1" fill="url(#a58)"/>
<circle cx="463.4" cy="341.5" r="3.1" fill="url(#a58)"/>
<circle cx="468.6" cy="341.5" r="3.1" fill="url(#a58)"/>
<circle cx="473.9" cy="341.5" r="3.1" fill="url(#a58)"/>
<circle cx="479.2" cy="341.5" r="3.1" fill="url(#a58)"/>
<circle cx="484.6" cy="341.5" r="3.1" fill="url(#a58)"/>
<circle cx="489.9" cy="341.5" r="3.1" fill="url(#a58)"/>
<circle cx="495.1" cy="341.5" r="3.1" fill="url(#a58)"/>
<circle cx="381.2" cy="346.1" r="3.1" fill="url(#a35)"/>
<circle cx="386.5" cy="346.1" r="3.1" fill="url(#a35)"/>
<circle cx="391.8" cy="346.1" r="3.1" fill="url(#a35)"/>
<circle cx="397.1" cy="346.1" r="3.1" fill="url(#a35)"/>
<circle cx="402.4" cy="346.1" r="3.1" fill="url(#a35)"/>
<circle cx="407.7" cy="346.1" r="3.1" fill="url(#a35)"/>
<circle cx="413.0" cy="346.1" r="3.1" fill="url(#a35)"/>
<circle cx="418.3" cy="346.1" r="3.1" fill="url(#a35)"/>
<circle cx="423.6" cy="346.1" r="3.1" fill="url(#a34)"/>
<circle cx="428.9" cy="346.1" r="3.1" fill="url(#a58)"/>
<circle cx="434.2" cy="346.1" r="3.1" fill="url(#a58)"/>
<circle cx="439.5" cy="346.1" r="3.1" fill="url(#a58)"/>
<circle cx="444.8" cy="346.1" r="3.1" fill="url(#a58)"/>
<circle cx="450.1" cy="346.1" r="3.1" fill="url(#a58)"/>
<circle cx="455.4" cy="346.1" r="3.1" fill="url(#a58)"/>
<circle cx="460.7" cy="346.1" r="3.1" fill="url(#a58)"/>
<circle cx="466.0" cy="346.1" r="3.1" fill="url(#a58)"/>
<circle cx="471.3" cy="346.1" r="3.1" fill="url(#a58)"/>
<circle cx="476.6" cy="346.1" r="3.1" fill="url(#a58)"/>
<circle cx="481.9" cy="346.1" r="3.1" fill="url(#a58)"/>
<circle cx="487.2" cy="346.1" r="3.1" fill="url(#a58)"/>
<circle cx="492.5" cy="346.1" r="3.1" fill="url(#a58)"/>
<circle cx="497.8" cy="346.1" r="3.1" fill="url(#a58)"/>
<circle cx="383.9" cy="350.8" r="3.1" fill="url(#a34)"/>
<circle cx="389.1" cy="350.8" r="3.1" fill="url(#a34)"/>
<circle cx="394.4" cy="350.8" r="3.1" fill="url(#a34)"/>
<circle cx="399.8" cy="350.8" r="3.1" fill="url(#a34)"/>
<circle cx="405.1" cy="350.8" r="3.1" fill="url(#a34)"/>
<circle cx="410.4" cy="350.8" r="3.1" fill="url(#a34)"/>
<circle cx="415.6" cy="350.8" r="3.1" fill="url(#a34)"/>
<circle cx="420.9" cy="350.8" r="3.1" fill="url(#a34)"/>
<circle cx="426.2" cy="350.8" r="3.1" fill="url(#a34)"/>
<circle cx="431.6" cy="350.8" r="3.1" fill="url(#a57)"/>
<circle cx="436.9" cy="350.8" r="3.1" fill="url(#a57)"/>
<circle cx="442.1" cy="350.8" r="3.1" fill="url(#a57)"/>
<circle cx="447.4" cy="350.8" r="3.1" fill="url(#a57)"/>
<circle cx="452.8" cy="350.8" r="3.1" fill="url(#a57)"/>
<circle cx="458.1" cy="350.8" r="3.1" fill="url(#a57)"/>
<circle cx="463.4" cy="350.8" r="3.1" fill="url(#a57)"/>
<circle cx="468.6" cy="350.8" r="3.1" fill="url(#a57)"/>
<circle cx="473.9" cy="350.8" r="3.1" fill="url(#a57)"/>
<circle cx="479.2" cy="350.8" r="3.1" fill="url(#a57)"/>
<circle cx="484.6" cy="350.8" r="3.1" fill="url(#a57)"/>
<circle cx="489.9" cy="350.8" r="3.1" fill="url(#a57)"/>
<circle cx="495.1" cy="350.8" r="3.1" fill="url(#a57)"/>
<circle cx="381.2" cy="355.4" r="3.1" fill="url(#a33)"/>
<circle cx="386.5" cy="355.4" r="3.1" fill="url(#a33)"/>
<circle cx="391.8" cy="355.4" r="3.1" fill="url(#a33)"/>
<circle cx="397.1" cy="355.4" r="3.1" fill="url(#a33)"/>
<circle cx="402.4" cy="355.4" r="3.1" fill="url(#a33)"/>
<circle cx="407.7" cy="355.4" r="3.1" fill="url(#a33)"/>
<circle cx="413.0" cy="355.4" r="3.1" fill="url(#a33)"/>
<circle cx="418.3" cy="355.4" r="3.1" fill="url(#a33)"/>
<circle cx="423.6" cy="355.4" r="3.1" fill="url(#a33)"/>
<circle cx="428.9" cy="355.4" r="3.1" fill="url(#a33)"/>
<circle cx="434.2" cy="355.4" r="3.1" fill="url(#a57)"/>
<circle cx="439.5" cy="355.4" r="3.1" fill="url(#a57)"/>
<circle cx="444.8" cy="355.4" r="3.1" fill="url(#a57)"/>
<circle cx="450.1" cy="355.4" r="3.1" fill="url(#a57)"/>
<circle cx="455.4" cy="355.4" r="3.1" fill="url(#a57)"/>
<circle cx="460.7" cy="355.4" r="3.1" fill="url(#a57)"/>
<circle cx="466.0" cy="355.4" r="3.1" fill="url(#a57)"/>
<circle cx="471.3" cy="355.4" r="3.1" fill="url(#a57)"/>
<circle cx="476.6" cy="355.4" r="3.1" fill="url(#a57)"/>
<circle cx="481.9" cy="355.4" r="3.1" fill="url(#a57)"/>
<circle cx="487.2" cy="355.4" r="3.1" fill="url(#a57)"/>
<circle cx="492.5" cy="355.4" r="3.1" fill="url(#a57)"/>
<circle cx="497.8" cy="355.4" r="3.1" fill="url(#a57)"/>
<circle cx="383.9" cy="360.0" r="3.1" fill="url(#a33)"/>
<circle cx="389.1" cy="360.0" r="3.1" fill="url(#a33)"/>
<circle cx="394.4" cy="360.0" r="3.1" fill="url(#a32)"/>
<circle cx="399.8" cy="360.0" r="3.1" fill="url(#a32)"/>
<circle cx="405.1" cy="360.0" r="3.1" fill="url(#a32)"/>
<circle cx="410.4" cy="360.0" r="3.1" fill="url(#a32)"/>
<circle cx="415.6" cy="360.0" r="3.1" fill="url(#a32)"/>
<circle cx="420.9" cy="360.0" r="3.1" fill="url(#a32)"/>
<circle cx="426.2" cy="360.0" r="3.1" fill="url(#a32)"/>
<circle cx="431.6" cy="360.0" r="3.1" fill="url(#a32)"/>
<circle cx="436.9" cy="360.0" r="3.1" fill="url(#a56)"/>
<circle cx="442.1" cy="360.0" r="3.1" fill="url(#a56)"/>
<circle cx="447.4" cy="360.0" r="3.1" fill="url(#a56)"/>
<circle cx="452.8" cy="360.0" r="3.1" fill="url(#a56)"/>
<circle cx="458.1" cy="360.0" r="3.1" fill="url(#a56)"/>
<circle cx="463.4" cy="360.0" r="3.1" fill="url(#a56)"/>
<circle cx="468.6" cy="360.0" r="3.1" fill="url(#a56)"/>
<circle cx="473.9" cy="360.0" r="3.1" fill="url(#a56)"/>
<circle cx="479.2" cy="360.0" r="3.1" fill="url(#a56)"/>
<circle cx="484.6" cy="360.0" r="3.1" fill="url(#a56)"/>
<circle cx="489.9" cy="360.0" r="3.1" fill="url(#a56)"/>
<circle cx="495.1" cy="360.0" r="3.1" fill="url(#a56)"/>
<circle cx="381.2" cy="364.6" r="3.1" fill="url(#a32)"/>
<circle cx="386.5" cy="364.6" r="3.1" fill="url(#a32)"/>
<circle cx="391.8" cy="364.6" r="3.1" fill="url(#a32)"/>
<circle cx="397.1" cy="364.6" r="3.1" fill="url(#a32)"/>
<circle cx="402.4" cy="364.6" r="3.1" fill="url(#a32)"/>
<circle cx="407.7" cy="364.6" r="3.1" fill="url(#a32)"/>
<circle cx="413.0" cy="364.6" r="3.1" fill="url(#a32)"/>
<circle cx="418.3" cy="364.6" r="3.1" fill="url(#a32)"/>
<circle cx="423.6" cy="364.6" r="3.1" fill="url(#a32)"/>
<circle cx="428.9" cy="364.6" r="3.1" fill="url(#a32)"/>
<circle cx="434.2" cy="364.6" r="3.1" fill="url(#a31)"/>
<circle cx="439.5" cy="364.6" r="3.1" fill="url(#a56)"/>
<circle cx="444.8" cy="364.6" r="3.1" fill="url(#a56)"/>
<circle cx="450.1" cy="364.6" r="3.1" fill="url(#a56)"/>
<circle cx="455.4" cy="364.6" r="3.1" fill="url(#a56)"/>
<circle cx="460.7" cy="364.6" r="3.1" fill="url(#a56)"/>
<circle cx="466.0" cy="364.6" r="3.1" fill="url(#a56)"/>
<circle cx="471.3" cy="364.6" r="3.1" fill="url(#a56)"/>
<circle cx="476.6" cy="364.6" r="3.1" fill="url(#a56)"/>
<circle cx="481.9" cy="364.6" r="3.1" fill="url(#a56)"/>
<circle cx="487.2" cy="364.6" r="3.1" fill="url(#a56)"/>
<circle cx="492.5" cy="364.6" r="3.1" fill="url(#a56)"/>
<circle cx="497.8" cy="364.6" r="3.1" fill="url(#a56)"/>
<circle cx="383.9" cy="369.2" r="3.1" fill="url(#a31)"/>
<circle cx="389.1" cy="369.2" r="3.1" fill="url(#a31)"/>
<circle cx="394.4" cy="369.2" r="3.1" fill="url(#a31)"/>
<circle cx="399.8" cy="369.2" r="3.1" fill="url(#a31)"/>
<circle cx="405.1" cy="369.2" r="3.1" fill="url(#a31)"/>
<circle cx="410.4" cy="369.2" r="3.1" fill="url(#a31)"/>
<circle cx="415.6" cy="369.2" r="3.1" fill="url(#a31)"/>
<circle cx="420.9" cy="369.2" r="3.1" fill="url(#a31)"/>
<circle cx="426.2" cy="369.2" r="3.1" fill="url(#a31)"/>
<circle cx="431.6" cy="369.2" r="3.1" fill="url(#a31)"/>
<circle cx="436.9" cy="369.2" r="3.1" fill="url(#a31)"/>
<circle cx="442.1" cy="369.2" r="3.1" fill="url(#a55)"/>
<circle cx="447.4" cy="369.2" r="3.1" fill="url(#a55)"/>
<circle cx="452.8" cy="369.2" r="3.1" fill="url(#a55)"/>
<circle cx="458.1" cy="369.2" r="3.1" fill="url(#a55)"/>
<circle cx="463.4" cy="369.2" r="3.1" fill="url(#a55)"/>
<circle cx="468.6" cy="369.2" r="3.1" fill="url(#a55)"/>
<circle cx="473.9" cy="369.2" r="3.1" fill="url(#a55)"/>
<circle cx="479.2" cy="369.2" r="3.1" fill="url(#a55)"/>
<circle cx="484.6" cy="369.2" r="3.1" fill="url(#a55)"/>
<circle cx="489.9" cy="369.2" r="3.1" fill="url(#a55)"/>
<circle cx="495.1" cy="369.2" r="3.1" fill="url(#a55)"/>
<circle cx="381.2" cy="373.9" r="3.1" fill="url(#a30)"/>
<circle cx="386.5" cy="373.9" r="3.1" fill="url(#a30)"/>
<circle cx="391.8" cy="373.9" r="3.1" fill="url(#a30)"/>
<circle cx="397.1" cy="373.9" r="3.1" fill="url(#a30)"/>
<circle cx="402.4" cy="373.9" r="3.1" fill="url(#a30)"/>
<circle cx="407.7" cy="373.9" r="3.1" fill="url(#a30)"/>
<circle cx="413.0" cy="373.9" r="3.1" fill="url(#a30)"/>
<circle cx="418.3" cy="373.9" r="3.1" fill="url(#a30)"/>
<circle cx="423.6" cy="373.9" r="3.1" fill="url(#a30)"/>
<circle cx="428.9" cy="373.9" r="3.1" fill="url(#a30)"/>
<circle cx="434.2" cy="373.9" r="3.1" fill="url(#a30)"/>
<circle cx="439.5" cy="373.9" r="3.1" fill="url(#a30)"/>
<circle cx="444.8" cy="373.9" r="3.1" fill="url(#a55)"/>
<circle cx="450.1" cy="373.9" r="3.1" fill="url(#a55)"/>
<circle cx="455.4" cy="373.9" r="3.1" fill="url(#a55)"/>
<circle cx="460.7" cy="373.9" r="3.1" fill="url(#a55)"/>
<circle cx="466.0" cy="373.9" r="3.1" fill="url(#a55)"/>
<circle cx="471.3" cy="373.9" r="3.1" fill="url(#a55)"/>
<circle cx="476.6" cy="373.9" r="3.1" fill="url(#a55)"/>
<circle cx="481.9" cy="373.9" r="3.1" fill="url(#a55)"/>
<circle cx="487.2" cy="373.9" r="3.1" fill="url(#a55)"/>
<circle cx="492.5" cy="373.9" r="3.1" fill="url(#a55)"/>
<circle cx="497.8" cy="373.9" r="3.1" fill="url(#a55)"/>
<circle cx="383.9" cy="378.5" r="3.1" fill="url(#a30)"/>
<circle cx="389.1" cy="378.5" r="3.1" fill="url(#a29)"/>
<circle cx="394.4" cy="378.5" r="3.1" fill="url(#a29)"/>
<circle cx="399.8" cy="378.5" r="3.1" fill="url(#a29)"/>
<circle cx="405.1" cy="378.5" r="3.1" fill="url(#a29)"/>
<circle cx="410.4" cy="378.5" r="3.1" fill="url(#a29)"/>
<circle cx="415.6" cy="378.5" r="3.1" fill="url(#a29)"/>
<circle cx="420.9" cy="378.5" r="3.1" fill="url(#a29)"/>
<circle cx="426.2" cy="378.5" r="3.1" fill="url(#a29)"/>
<circle cx="431.6" cy="378.5" r="3.1" fill="url(#a29)"/>
<circle cx="436.9" cy="378.5" r="3.1" fill="url(#a29)"/>
<circle cx="442.1" cy="378.5" r="3.1" fill="url(#a29)"/>
<circle cx="447.4" cy="378.5" r="3.1" fill="url(#a55)"/>
<circle cx="452.8" cy="378.5" r="3.1" fill="url(#a55)"/>
<circle cx="458.1" cy="378.5" r="3.1" fill="url(#a55)"/>
<circle cx="463.4" cy="378.5" r="3.1" fill="url(#a54)"/>
<circle cx="468.6" cy="378.5" r="3.1" fill="url(#a54)"/>
<circle cx="473.9" cy="378.5" r="3.1" fill="url(#a54)"/>
<circle cx="479.2" cy="378.5" r="3.1" fill="url(#a54)"/>
<circle cx="484.6" cy="378.5" r="3.1" fill="url(#a54)"/>
<circle cx="489.9" cy="378.5" r="3.1" fill="url(#a54)"/>
<circle cx="495.1" cy="378.5" r="3.1" fill="url(#a54)"/>
<circle cx="381.2" cy="383.1" r="3.1" fill="url(#a29)"/>
<circle cx="386.5" cy="383.1" r="3.1" fill="url(#a29)"/>
<circle cx="391.8" cy="383.1" r="3.1" fill="url(#a29)"/>
<circle cx="397.1" cy="383.1" r="3.1" fill="url(#a29)"/>
<circle cx="402.4" cy="383.1" r="3.1" fill="url(#a29)"/>
<circle cx="407.7" cy="383.1" r="3.1" fill="url(#a29)"/>
<circle cx="413.0" cy="383.1" r="3.1" fill="url(#a29)"/>
<circle cx="418.3" cy="383.1" r="3.1" fill="url(#a29)"/>
<circle cx="423.6" cy="383.1" r="3.1" fill="url(#a29)"/>
<circle cx="428.9" cy="383.1" r="3.1" fill="url(#a29)"/>
<circle cx="434.2" cy="383.1" r="3.1" fill="url(#a29)"/>
<circle cx="439.5" cy="383.1" r="3.1" fill="url(#a29)"/>
<circle cx="444.8" cy="383.1" r="3.1" fill="url(#a29)"/>
<circle cx="450.1" cy="383.1" r="3.1" fill="url(#a54)"/>
<circle cx="455.4" cy="383.1" r="3.1" fill="url(#a54)"/>
<circle cx="460.7" cy="383.1" r="3.1" fill="url(#a54)"/>
<circle cx="466.0" cy="383.1" r="3.1" fill="url(#a54)"/>
<circle cx="471.3" cy="383.1" r="3.1" fill="url(#a54)"/>
<circle cx="476.6" cy="383.1" r="3.1" fill="url(#a54)"/>
<circle cx="481.9" cy="383.1" r="3.1" fill="url(#a54)"/>
<circle cx="487.2" cy="383.1" r="3.1" fill="url(#a54)"/>
<circle cx="492.5" cy="383.1" r="3.1" fill="url(#a54)"/>
<circle cx="497.8" cy="383.1" r="3.1" fill="url(#a54)"/>
<circle cx="383.9" cy="387.7" r="3.1" fill="url(#a28)"/>
<circle cx="389.1" cy="387.7" r="3.1" fill="url(#a28)"/>
<circle cx="394.4" cy="387.7" r="3.1" fill="url(#a28)"/>
<circle cx="399.8" cy="387.7" r="3.1" fill="url(#a28)"/>
<circle cx="405.1" cy="387.7" r="3.1" fill="url(#a28)"/>
<circle cx="410.4" cy="387.7" r="3.1" fill="url(#a28)"/>
<circle cx="415.6" cy="387.7" r="3.1" fill="url(#a28)"/>
<circle cx="420.9" cy="387.7" r="3.1" fill="url(#a28)"/>
<circle cx="426.2" cy="387.7" r="3.1" fill="url(#a28)"/>
<circle cx="431.6" cy="387.7" r="3.1" fill="url(#a28)"/>
<circle cx="436.9" cy="387.7" r="3.1" fill="url(#a28)"/>
<circle cx="442.1" cy="387.7" r="3.1" fill="url(#a28)"/>
<circle cx="447.4" cy="387.7" r="3.1" fill="url(#a28)"/>
<circle cx="452.8" cy="387.7" r="3.1" fill="url(#a54)"/>
<circle cx="458.1" cy="387.7" r="3.1" fill="url(#a54)"/>
<circle cx="463.4" cy="387.7" r="3.1" fill="url(#a54)"/>
<circle cx="468.6" cy="387.7" r="3.1" fill="url(#a54)"/>
<circle cx="473.9" cy="387.7" r="3.1" fill="url(#a54)"/>
<circle cx="479.2" cy="387.7" r="3.1" fill="url(#a54)"/>
<circle cx="484.6" cy="387.7" r="3.1" fill="url(#a54)"/>
<circle cx="489.9" cy="387.7" r="3.1" fill="url(#a54)"/>
<circle cx="495.1" cy="387.7" r="3.1" fill="url(#a54)"/>
<circle cx="381.2" cy="392.3" r="3.1" fill="url(#a27)"/>
<circle cx="386.5" cy="392.3" r="3.1" fill="url(#a27)"/>
<circle cx="391.8" cy="392.3" r="3.1" fill="url(#a27)"/>
<circle cx="397.1" cy="392.3" r="3.1" fill="url(#a27)"/>
<circle cx="402.4" cy="392.3" r="3.1" fill="url(#a27)"/>
<circle cx="407.7" cy="392.3" r="3.1" fill="url(#a27)"/>
<circle cx="413.0" cy="392.3" r="3.1" fill="url(#a27)"/>
<circle cx="418.3" cy="392.3" r="3.1" fill="url(#a27)"/>
<circle cx="423.6" cy="392.3" r="3.1" fill="url(#a27)"/>
<circle cx="428.9" cy="392.3" r="3.1" fill="url(#a27)"/>
<circle cx="434.2" cy="392.3" r="3.1" fill="url(#a27)"/>
<circle cx="439.5" cy="392.3" r="3.1" fill="url(#a27)"/>
<circle cx="444.8" cy="392.3" r="3.1" fill="url(#a27)"/>
<circle cx="450.1" cy="392.3" r="3.1" fill="url(#a27)"/>
<circle cx="455.4" cy="392.3" r="3.1" fill="url(#a53)"/>
<circle cx="460.7" cy="392.3" r="3.1" fill="url(#a53)"/>
<circle cx="466.0" cy="392.3" r="3.1" fill="url(#a53)"/>
<circle cx="471.3" cy="392.3" r="3.1" fill="url(#a53)"/>
<circle cx="476.6" cy="392.3" r="3.1" fill="url(#a53)"/>
<circle cx="481.9" cy="392.3" r="3.1" fill="url(#a53)"/>
<circle cx="487.2" cy="392.3" r="3.1" fill="url(#a53)"/>
<circle cx="492.5" cy="392.3" r="3.1" fill="url(#a53)"/>
<circle cx="497.8" cy="392.3" r="3.1" fill="url(#a53)"/>
<circle cx="383.9" cy="397.0" r="3.1" fill="url(#a26)"/>
<circle cx="389.1" cy="397.0" r="3.1" fill="url(#a26)"/>
<circle cx="394.4" cy="397.0" r="3.1" fill="url(#a26)"/>
<circle cx="399.8" cy="397.0" r="3.1" fill="url(#a26)"/>
<circle cx="405.1" cy="397.0" r="3.1" fill="url(#a26)"/>
<circle cx="410.4" cy="397.0" r="3.1" fill="url(#a26)"/>
<circle cx="415.6" cy="397.0" r="3.1" fill="url(#a26)"/>
<circle cx="420.9" cy="397.0" r="3.1" fill="url(#a26)"/>
<circle cx="426.2" cy="397.0" r="3.1" fill="url(#a26)"/>
<circle cx="431.6" cy="397.0" r="3.1" fill="url(#a26)"/>
<circle cx="436.9" cy="397.0" r="3.1" fill="url(#a26)"/>
<circle cx="442.1" cy="397.0" r="3.1" fill="url(#a26)"/>
<circle cx="447.4" cy="397.0" r="3.1" fill="url(#a26)"/>
<circle cx="452.8" cy="397.0" r="3.1" fill="url(#a26)"/>
<circle cx="458.1" cy="397.0" r="3.1" fill="url(#a53)"/>
<circle cx="463.4" cy="397.0" r="3.1" fill="url(#a53)"/>
<circle cx="468.6" cy="397.0" r="3.1" fill="url(#a53)"/>
<circle cx="473.9" cy="397.0" r="3.1" fill="url(#a53)"/>
<circle cx="479.2" cy="397.0" r="3.1" fill="url(#a53)"/>
<circle cx="484.6" cy="397.0" r="3.1" fill="url(#a53)"/>
<circle cx="489.9" cy="397.0" r="3.1" fill="url(#a53)"/>
<circle cx="495.1" cy="397.0" r="3.1" fill="url(#a53)"/>
<circle cx="381.2" cy="401.6" r="3.1" fill="url(#a26)"/>
<circle cx="386.5" cy="401.6" r="3.1" fill="url(#a26)"/>
<circle cx="391.8" cy="401.6" r="3.1" fill="url(#a26)"/>
<circle cx="397.1" cy="401.6" r="3.1" fill="url(#a26)"/>
<circle cx="402.4" cy="401.6" r="3.1" fill="url(#a26)"/>
<circle cx="407.7" cy="401.6" r="3.1" fill="url(#a26)"/>
<circle cx="413.0" cy="401.6" r="3.1" fill="url(#a26)"/>
<circle cx="418.3" cy="401.6" r="3.1" fill="url(#a26)"/>
<circle cx="423.6" cy="401.6" r="3.1" fill="url(#a26)"/>
<circle cx="428.9" cy="401.6" r="3.1" fill="url(#a26)"/>
<circle cx="434.2" cy="401.6" r="3.1" fill="url(#a26)"/>
<circle cx="439.5" cy="401.6" r="3.1" fill="url(#a26)"/>
<circle cx="444.8" cy="401.6" r="3.1" fill="url(#a26)"/>
<circle cx="450.1" cy="401.6" r="3.1" fill="url(#a26)"/>
<circle cx="455.4" cy="401.6" r="3.1" fill="url(#a26)"/>
<circle cx="460.7" cy="401.6" r="3.1" fill="url(#a52)"/>
<circle cx="466.0" cy="401.6" r="3.1" fill="url(#a52)"/>
<circle cx="471.3" cy="401.6" r="3.1" fill="url(#a52)"/>
<circle cx="476.6" cy="401.6" r="3.1" fill="url(#a52)"/>
<circle cx="481.9" cy="401.6" r="3.1" fill="url(#a52)"/>
<circle cx="487.2" cy="401.6" r="3.1" fill="url(#a52)"/>
<circle cx="492.5" cy="401.6" r="3.1" fill="url(#a52)"/>
<circle cx="497.8" cy="401.6" r="3.1" fill="url(#a52)"/>
<circle cx="383.9" cy="406.2" r="3.1" fill="url(#a25)"/>
<circle cx="389.1" cy="406.2" r="3.1" fill="url(#a25)"/>
<circle cx="394.4" cy="406.2" r="3.1" fill="url(#a25)"/>
<circle cx="399.8" cy="406.2" r="3.1" fill="url(#a25)"/>
<circle cx="405.1" cy="406.2" r="3.1" fill="url(#a25)"/>
<circle cx="410.4" cy="406.2" r="3.1" fill="url(#a25)"/>
<circle cx="415.6" cy="406.2" r="3.1" fill="url(#a25)"/>
<circle cx="420.9" cy="406.2" r="3.1" fill="url(#a25)"/>
<circle cx="426.2" cy="406.2" r="3.1" fill="url(#a25)"/>
<circle cx="431.6" cy="406.2" r="3.1" fill="url(#a25)"/>
<circle cx="436.9" cy="406.2" r="3.1" fill="url(#a25)"/>
<circle cx="442.1" cy="406.2" r="3.1" fill="url(#a25)"/>
<circle cx="447.4" cy="406.2" r="3.1" fill="url(#a25)"/>
<circle cx="452.8" cy="406.2" r="3.1" fill="url(#a25)"/>
<circle cx="458.1" cy="406.2" r="3.1" fill="url(#a25)"/>
<circle cx="463.4" cy="406.2" r="3.1" fill="url(#a52)"/>
<circle cx="468.6" cy="406.2" r="3.1" fill="url(#a52)"/>
<circle cx="473.9" cy="406.2" r="3.1" fill="url(#a52)"/>
<circle cx="479.2" cy="406.2" r="3.1" fill="url(#a52)"/>
<circle cx="484.6" cy="406.2" r="3.1" fill="url(#a52)"/>
<circle cx="489.9" cy="406.2" r="3.1" fill="url(#a52)"/>
<circle cx="495.1" cy="406.2" r="3.1" fill="url(#a52)"/>
<circle cx="381.2" cy="410.8" r="3.1" fill="url(#a24)"/>
<circle cx="386.5" cy="410.8" r="3.1" fill="url(#a24)"/>
<circle cx="391.8" cy="410.8" r="3.1" fill="url(#a24)"/>
<circle cx="397.1" cy="410.8" r="3.1" fill="url(#a24)"/>
<circle cx="402.4" cy="410.8" r="3.1" fill="url(#a24)"/>
<circle cx="407.7" cy="410.8" r="3.1" fill="url(#a24)"/>
<circle cx="413.0" cy="410.8" r="3.1" fill="url(#a24)"/>
<circle cx="418.3" cy="410.8" r="3.1" fill="url(#a24)"/>
<circle cx="423.6" cy="410.8" r="3.1" fill="url(#a24)"/>
<circle cx="428.9" cy="410.8" r="3.1" fill="url(#a24)"/>
<circle cx="434.2" cy="410.8" r="3.1" fill="url(#a24)"/>
<circle cx="439.5" cy="410.8" r="3.1" fill="url(#a24)"/>
<circle cx="444.8" cy="410.8" r="3.1" fill="url(#a24)"/>
<circle cx="450.1" cy="410.8" r="3.1" fill="url(#a24)"/>
<circle cx="455.4" cy="410.8" r="3.1" fill="url(#a24)"/>
<circle cx="460.7" cy="410.8" r="3.1" fill="url(#a24)"/>
<circle cx="466.0" cy="410.8" r="3.1" fill="url(#a51)"/>
<circle cx="471.3" cy="410.8" r="3.1" fill="url(#a51)"/>
<circle cx="476.6" cy="410.8" r="3.1" fill="url(#a51)"/>
<circle cx="481.9" cy="410.8" r="3.1" fill="url(#a51)"/>
<circle cx="487.2" cy="410.8" r="3.1" fill="url(#a51)"/>
<circle cx="492.5" cy="410.8" r="3.1" fill="url(#a51)"/>
<circle cx="497.8" cy="410.8" r="3.1" fill="url(#a51)"/>
<circle cx="383.9" cy="415.4" r="3.1" fill="url(#a23)"/>
<circle cx="389.1" cy="415.4" r="3.1" fill="url(#a23)"/>
<circle cx="394.4" cy="415.4" r="3.1" fill="url(#a23)"/>
<circle cx="399.8" cy="415.4" r="3.1" fill="url(#a23)"/>
<circle cx="405.1" cy="415.4" r="3.1" fill="url(#a23)"/>
<circle cx="410.4" cy="415.4" r="3.1" fill="url(#a23)"/>
<circle cx="415.6" cy="415.4" r="3.1" fill="url(#a23)"/>
<circle cx="420.9" cy="415.4" r="3.1" fill="url(#a23)"/>
<circle cx="426.2" cy="415.4" r="3.1" fill="url(#a23)"/>
<circle cx="431.6" cy="415.4" r="3.1" fill="url(#a24)"/>
<circle cx="436.9" cy="415.4" r="3.1" fill="url(#a24)"/>
<circle cx="442.1" cy="415.4" r="3.1" fill="url(#a24)"/>
<circle cx="447.4" cy="415.4" r="3.1" fill="url(#a24)"/>
<circle cx="452.8" cy="415.4" r="3.1" fill="url(#a24)"/>
<circle cx="458.1" cy="415.4" r="3.1" fill="url(#a24)"/>
<circle cx="463.4" cy="415.4" r="3.1" fill="url(#a24)"/>
<circle cx="468.6" cy="415.4" r="3.1" fill="url(#a51)"/>
<circle cx="473.9" cy="415.4" r="3.1" fill="url(#a51)"/>
<circle cx="479.2" cy="415.4" r="3.1" fill="url(#a51)"/>
<circle cx="484.6" cy="415.4" r="3.1" fill="url(#a51)"/>
<circle cx="489.9" cy="415.4" r="3.1" fill="url(#a51)"/>
<circle cx="495.1" cy="415.4" r="3.1" fill="url(#a51)"/>
<circle cx="381.2" cy="420.1" r="3.1" fill="url(#a23)"/>
<circle cx="386.5" cy="420.1" r="3.1" fill="url(#a23)"/>
<circle cx="391.8" cy="420.1" r="3.1" fill="url(#a23)"/>
<circle cx="397.1" cy="420.1" r="3.1" fill="url(#a23)"/>
<circle cx="402.4" cy="420.1" r="3.1" fill="url(#a23)"/>
<circle cx="407.7" cy="420.1" r="3.1" fill="url(#a23)"/>
<circle cx="413.0" cy="420.1" r="3.1" fill="url(#a23)"/>
<circle cx="418.3" cy="420.1" r="3.1" fill="url(#a23)"/>
<circle cx="423.6" cy="420.1" r="3.1" fill="url(#a23)"/>
<circle cx="428.9" cy="420.1" r="3.1" fill="url(#a23)"/>
<circle cx="434.2" cy="420.1" r="3.1" fill="url(#a23)"/>
<circle cx="439.5" cy="420.1" r="3.1" fill="url(#a23)"/>
<circle cx="444.8" cy="420.1" r="3.1" fill="url(#a23)"/>
<circle cx="450.1" cy="420.1" r="3.1" fill="url(#a23)"/>
<circle cx="455.4" cy="420.1" r="3.1" fill="url(#a23)"/>
<circle cx="460.7" cy="420.1" r="3.1" fill="url(#a23)"/>
<circle cx="466.0" cy="420.1" r="3.1" fill="url(#a23)"/>
<circle cx="471.3" cy="420.1" r="3.1" fill="url(#a50)"/>
<circle cx="476.6" cy="420.1" r="3.1" fill="url(#a50)"/>
<circle cx="481.9" cy="420.1" r="3.1" fill="url(#a50)"/>
<circle cx="487.2" cy="420.1" r="3.1" fill="url(#a50)"/>
<circle cx="492.5" cy="420.1" r="3.1" fill="url(#a50)"/>
<circle cx="497.8" cy="420.1" r="3.1" fill="url(#a50)"/>
<circle cx="383.9" cy="424.7" r="3.1" fill="url(#a22)"/>
<circle cx="389.1" cy="424.7" r="3.1" fill="url(#a22)"/>
<circle cx="394.4" cy="424.7" r="3.1" fill="url(#a22)"/>
<circle cx="399.8" cy="424.7" r="3.1" fill="url(#a22)"/>
<circle cx="405.1" cy="424.7" r="3.1" fill="url(#a22)"/>
<circle cx="410.4" cy="424.7" r="3.1" fill="url(#a22)"/>
<circle cx="415.6" cy="424.7" r="3.1" fill="url(#a22)"/>
<circle cx="420.9" cy="424.7" r="3.1" fill="url(#a22)"/>
<circle cx="426.2" cy="424.7" r="3.1" fill="url(#a22)"/>
<circle cx="431.6" cy="424.7" r="3.1" fill="url(#a22)"/>
<circle cx="436.9" cy="424.7" r="3.1" fill="url(#a22)"/>
<circle cx="442.1" cy="424.7" r="3.1" fill="url(#a22)"/>
<circle cx="447.4" cy="424.7" r="3.1" fill="url(#a22)"/>
<circle cx="452.8" cy="424.7" r="3.1" fill="url(#a22)"/>
<circle cx="458.1" cy="424.7" r="3.1" fill="url(#a22)"/>
<circle cx="463.4" cy="424.7" r="3.1" fill="url(#a22)"/>
<circle cx="468.6" cy="424.7" r="3.1" fill="url(#a22)"/>
<circle cx="473.9" cy="424.7" r="3.1" fill="url(#a49)"/>
<circle cx="479.2" cy="424.7" r="3.1" fill="url(#a49)"/>
<circle cx="484.6" cy="424.7" r="3.1" fill="url(#a49)"/>
<circle cx="489.9" cy="424.7" r="3.1" fill="url(#a49)"/>
<circle cx="495.1" cy="424.7" r="3.1" fill="url(#a49)"/>
<circle cx="381.2" cy="429.3" r="3.1" fill="url(#a21)"/>
<circle cx="386.5" cy="429.3" r="3.1" fill="url(#a21)"/>
<circle cx="391.8" cy="429.3" r="3.1" fill="url(#a21)"/>
<circle cx="397.1" cy="429.3" r="3.1" fill="url(#a21)"/>
<circle cx="402.4" cy="429.3" r="3.1" fill="url(#a21)"/>
<circle cx="407.7" cy="429.3" r="3.1" fill="url(#a21)"/>
<circle cx="413.0" cy="429.3" r="3.1" fill="url(#a21)"/>
<circle cx="418.3" cy="429.3" r="3.1" fill="url(#a21)"/>
<circle cx="423.6" cy="429.3" r="3.1" fill="url(#a21)"/>
<circle cx="428.9" cy="429.3" r="3.1" fill="url(#a21)"/>
<circle cx="434.2" cy="429.3" r="3.1" fill="url(#a21)"/>
<circle cx="439.5" cy="429.3" r="3.1" fill="url(#a21)"/>
<circle cx="444.8" cy="429.3" r="3.1" fill="url(#a21)"/>
<circle cx="450.1" cy="429.3" r="3.1" fill="url(#a21)"/>
<circle cx="455.4" cy="429.3" r="3.1" fill="url(#a21)"/>
<circle cx="460.7" cy="429.3" r="3.1" fill="url(#a21)"/>
<circle cx="466.0" cy="429.3" r="3.1" fill="url(#a22)"/>
<circle cx="471.3" cy="429.3" r="3.1" fill="url(#a22)"/>
<circle cx="476.6" cy="429.3" r="3.1" fill="url(#a48)"/>
<circle cx="481.9" cy="429.3" r="3.1" fill="url(#a48)"/>
<circle cx="487.2" cy="429.3" r="3.1" fill="url(#a49)"/>
<circle cx="492.5" cy="429.3" r="3.1" fill="url(#a49)"/>
<circle cx="497.8" cy="429.3" r="3.1" fill="url(#a49)"/>
<circle cx="383.9" cy="433.9" r="3.1" fill="url(#a20)"/>
<circle cx="389.1" cy="433.9" r="3.1" fill="url(#a20)"/>
<circle cx="394.4" cy="433.9" r="3.1" fill="url(#a20)"/>
<circle cx="399.8" cy="433.9" r="3.1" fill="url(#a20)"/>
<circle cx="405.1" cy="433.9" r="3.1" fill="url(#a20)"/>
<circle cx="410.4" cy="433.9" r="3.1" fill="url(#a20)"/>
<circle cx="415.6" cy="433.9" r="3.1" fill="url(#a20)"/>
<circle cx="420.9" cy="433.9" r="3.1" fill="url(#a21)"/>
<circle cx="426.2" cy="433.9" r="3.1" fill="url(#a21)"/>
<circle cx="431.6" cy="433.9" r="3.1" fill="url(#a21)"/>
<circle cx="436.9" cy="433.9" r="3.1" fill="url(#a21)"/>
<circle cx="442.1" cy="433.9" r="3.1" fill="url(#a21)"/>
<circle cx="447.4" cy="433.9" r="3.1" fill="url(#a21)"/>
<circle cx="452.8" cy="433.9" r="3.1" fill="url(#a21)"/>
<circle cx="458.1" cy="433.9" r="3.1" fill="url(#a21)"/>
<circle cx="463.4" cy="433.9" r="3.1" fill="url(#a21)"/>
<circle cx="468.6" cy="433.9" r="3.1" fill="url(#a21)"/>
<circle cx="473.9" cy="433.9" r="3.1" fill="url(#a21)"/>
<circle cx="479.2" cy="433.9" r="3.1" fill="url(#a48)"/>
<circle cx="484.6" cy="433.9" r="3.1" fill="url(#a48)"/>
<circle cx="489.9" cy="433.9" r="3.1" fill="url(#a48)"/>
<circle cx="495.1" cy="433.9" r="3.1" fill="url(#a48)"/>
<circle cx="381.2" cy="438.5" r="3.1" fill="url(#a20)"/>
<circle cx="386.5" cy="438.5" r="3.1" fill="url(#a20)"/>
<circle cx="391.8" cy="438.5" r="3.1" fill="url(#a20)"/>
<circle cx="397.1" cy="438.5" r="3.1" fill="url(#a20)"/>
<circle cx="402.4" cy="438.5" r="3.1" fill="url(#a20)"/>
<circle cx="407.7" cy="438.5" r="3.1" fill="url(#a20)"/>
<circle cx="413.0" cy="438.5" r="3.1" fill="url(#a20)"/>
<circle cx="418.3" cy="438.5" r="3.1" fill="url(#a20)"/>
<circle cx="423.6" cy="438.5" r="3.1" fill="url(#a20)"/>
<circle cx="428.9" cy="438.5" r="3.1" fill="url(#a20)"/>
<circle cx="434.2" cy="438.5" r="3.1" fill="url(#a20)"/>
<circle cx="439.5" cy="438.5" r="3.1" fill="url(#a20)"/>
<circle cx="444.8" cy="438.5" r="3.1" fill="url(#a20)"/>
<circle cx="450.1" cy="438.5" r="3.1" fill="url(#a20)"/>
<circle cx="455.4" cy="438.5" r="3.1" fill="url(#a20)"/>
<circle cx="460.7" cy="438.5" r="3.1" fill="url(#a20)"/>
<circle cx="466.0" cy="438.5" r="3.1" fill="url(#a20)"/>
<circle cx="471.3" cy="438.5" r="3.1" fill="url(#a20)"/>
<circle cx="476.6" cy="438.5" r="3.1" fill="url(#a20)"/>
<circle cx="481.9" cy="438.5" r="3.1" fill="url(#a47)"/>
<circle cx="487.2" cy="438.5" r="3.1" fill="url(#a47)"/>
<circle cx="492.5" cy="438.5" r="3.1" fill="url(#a47)"/>
<circle cx="497.8" cy="438.5" r="3.1" fill="url(#a47)"/>
</g>
<g fill="none">
<path d="M235.5,19.0L235.5,36.9" stroke="#ae9995" stroke-width="3.00"/>
<path d="M235.5,36.9L235.6,59.7" stroke="#b19995" stroke-width="3.00"/>
<path d="M235.6,59.7L235.6,82.4" stroke="#b29f95" stroke-width="3.00"/>
<path d="M235.6,82.4L235.6,105.1" stroke="#b2a695" stroke-width="3.00"/>
<path d="M235.6,105.1L235.6,127.8" stroke="#b2a895" stroke-width="3.00"/>
<path d="M235.6,127.8L235.6,150.5" stroke="#b2a995" stroke-width="3.00"/>
<path d="M235.6,150.5L235.6,173.1" stroke="#b2ac95" stroke-width="3.00"/>
<path d="M235.6,173.1L235.6,195.8" stroke="#b2b095" stroke-width="3.00"/>
<path d="M235.6,195.8L235.6,218.5" stroke="#aeb099" stroke-width="3.00"/>
<path d="M235.6,218.5L235.5,241.1" stroke="#a9b09e" stroke-width="3.00"/>
<path d="M235.5,241.1L235.5,263.8" stroke="#a5b0a2" stroke-width="3.00"/>
<path d="M235.5,263.8L235.5,286.5" stroke="#a1b0a6" stroke-width="3.00"/>
<path d="M235.5,286.5L235.5,309.1" stroke="#9db0a9" stroke-width="3.00"/>
<path d="M235.5,309.1L235.5,331.8" stroke="#9bafac" stroke-width="3.00"/>
<path d="M235.5,331.8L235.5,354.6" stroke="#9bacac" stroke-width="3.00"/>
<path d="M235.5,354.6L235.5,377.2" stroke="#9ba8ac" stroke-width="3.00"/>
<path d="M235.5,377.2L235.5,399.9" stroke="#9ba5ac" stroke-width="3.00"/>
<path d="M235.5,399.9L235.5,422.6" stroke="#9ba3ac" stroke-width="3.00"/>
<path d="M235.5,422.6L235.5,435.5" stroke="#9ba1ac" stroke-width="3.00"/>
<path d="M248.7,19.0L248.7,36.9" stroke="#ae9995" stroke-width="3.00"/>
<path d="M248.7,36.9L248.8,59.7" stroke="#b19995" stroke-width="3.00"/>
<path d="M248.8,59.7L248.8,82.4" stroke="#b29f95" stroke-width="3.00"/>
<path d="M248.8,82.4L248.8,105.1" stroke="#b2a695" stroke-width="3.00"/>
<path d="M248.8,105.1L248.8,127.8" stroke="#b2a895" stroke-width="3.00"/>
<path d="M248.8,127.8L248.8,150.5" stroke="#b2aa95" stroke-width="3.00"/>
<path d="M248.8,150.5L248.8,173.1" stroke="#b2ad95" stroke-width="3.00"/>
<path d="M248.8,173.1L248.8,195.8" stroke="#b1b096" stroke-width="3.00"/>
<path d="M248.8,195.8L248.7,218.4" stroke="#adb09a" stroke-width="3.00"/>
<path d="M248.7,218.4L248.7,241.1" stroke="#a9b09e" stroke-width="3.00"/>
<path d="M248.7,241.1L248.7,263.8" stroke="#a5b0a2" stroke-width="3.00"/>
<path d="M248.7,263.8L248.7,286.4" stroke="#a1b0a6" stroke-width="3.00"/>
<path d="M248.7,286.4L248.7,309.1" stroke="#9db0aa" stroke-width="3.00"/>
<path d="M248.7,309.1L248.7,331.8" stroke="#9bafac" stroke-width="3.00"/>
<path d="M248.7,331.8L248.7,354.6" stroke="#9bacac" stroke-width="3.00"/>
<path d="M248.7,354.6L248.7,377.2" stroke="#9ba8ac" stroke-width="3.00"/>
<path d="M248.7,377.2L248.7,399.9" stroke="#9ba5ac" stroke-width="3.00"/>
<path d="M248.7,399.9L248.7,422.6" stroke="#9ba3ac" stroke-width="3.00"/>
<path d="M248.7,422.6L248.7,435.5" stroke="#9ba1ac" stroke-width="3.00"/>
<path d="M261.9,19.0L261.9,36.9" stroke="#ae9995" stroke-width="3.00"/>
<path d="M261.9,36.9L262.0,59.7" stroke="#b19995" stroke-width="3.00"/>
<path d="M262.0,59.7L262.0,82.4" stroke="#b29f95" stroke-width="2.64"/>
<path d="M262.0,82.4L262.0,105.2" stroke="#b2a695" stroke-width="2.64"/>
<path d="M262.0,105.2L262.0,127.8" stroke="#b2a895" stroke-width="2.64"/>
<path d="M262.0,127.8L262.0,150.4" stroke="#b2aa95" stroke-width="2.64"/>
<path d="M262.0,150.4L262.0,173.1" stroke="#b2ad95" stroke-width="2.64"/>
<path d="M262.0,173.1L261.9,195.7" stroke="#b1b096" stroke-width="2.64"/>
<path d="M261.9,195.7L261.9,218.4" stroke="#adb09a" stroke-width="3.00"/>
<path d="M261.9,218.4L261.9,241.0" stroke="#a9b09e" stroke-width="3.00"/>
<path d="M261.9,241.0L261.9,263.8" stroke="#a4b0a3" stroke-width="3.00"/>
<path d="M261.9,263.8L261.9,286.4" stroke="#a0b0a6" stroke-width="3.00"/>
<path d="M261.9,286.4L261.8,309.1" stroke="#9db0aa" stroke-width="3.00"/>
<path d="M261.8,309.1L261.8,331.8" stroke="#9bafac" stroke-width="3.00"/>
<path d="M261.8,331.8L261.8,354.6" stroke="#9babac" stroke-width="3.00"/>
<path d="M261.8,354.6L261.8,377.2" stroke="#9ba8ac" stroke-width="3.00"/>
<path d="M261.8,377.2L261.8,399.9" stroke="#9ba5ac" stroke-width="3.00"/>
<path d="M261.8,399.9L261.8,422.6" stroke="#9ba3ac" stroke-width="3.00"/>
<path d="M261.8,422.6L261.8,435.5" stroke="#9ba1ac" stroke-width="3.00"/>
<path d="M275.2,19.0L275.2,36.9" stroke="#ae9995" stroke-width="3.00"/>
<path d="M275.2,36.9L275.2,59.7" stroke="#b19995" stroke-width="3.00"/>
<path d="M275.2,59.7L275.3,82.5" stroke="#b29e95" stroke-width="2.64"/>
<path d="M275.3,82.5L275.3,105.2" stroke="#b2a595" stroke-width="2.64"/>
<path d="M275.3,105.2L275.2,127.8" stroke="#b2a895" stroke-width="2.64"/>
<path d="M275.2,127.8L275.2,150.4" stroke="#b2ab95" stroke-width="2.64"/>
<path d="M275.2,150.4L275.1,173.0" stroke="#b2ae95" stroke-width="2.64"/>
<path d="M275.1,173.0L275.1,195.6" stroke="#b0b097" stroke-width="2.64"/>
<path d="M275.1,195.6L275.1,218.2" stroke="#acb09b" stroke-width="3.00"/>
<path d="M275.1,218.2L275.1,240.9" stroke="#a8b09f" stroke-width="3.00"/>
<path d="M275.1,240.9L275.0,263.6" stroke="#a4b0a3" stroke-width="3.00"/>
<path d="M275.0,263.6L275.0,286.3" stroke="#a0b0a7" stroke-width="3.00"/>
<path d="M275.0,286.3L275.0,309.0" stroke="#9db0aa" stroke-width="3.00"/>
<path d="M275.0,309.0L275.0,331.7" stroke="#9bafac" stroke-width="3.00"/>
<path d="M275.0,331.7L275.0,354.4" stroke="#9babac" stroke-width="3.00"/>
<path d="M275.0,354.4L275.0,377.1" stroke="#9ba8ac" stroke-width="3.00"/>
<path d="M275.0,377.1L275.0,399.8" stroke="#9ba5ac" stroke-width="3.00"/>
<path d="M275.0,399.8L275.0,422.5" stroke="#9ba3ac" stroke-width="3.00"/>
<path d="M275.0,422.5L275.0,435.5" stroke="#9ba1ac" stroke-width="3.00"/>
<path d="M288.4,19.0L288.4,36.9" stroke="#ae9995" stroke-width="3.00"/>
<path d="M288.4,36.9L288.4,59.7" stroke="#b19995" stroke-width="3.00"/>
<path d="M288.4,59.7L288.5,82.5" stroke="#b29d95" stroke-width="2.64"/>
<path d="M288.3,172.7L288.3,195.3" stroke="#afb098" stroke-width="2.64"/>
<path d="M288.3,195.3L288.3,218.0" stroke="#acb09b" stroke-width="3.00"/>
<path d="M288.3,218.0L288.2,240.7" stroke="#a8b09f" stroke-width="3.00"/>
<path d="M288.2,240.7L288.2,263.4" stroke="#a4b0a3" stroke-width="3.00"/>
<path d="M288.2,263.4L288.2,286.1" stroke="#a0b0a7" stroke-width="3.00"/>
<path d="M288.2,286.1L288.2,308.8" stroke="#9db0aa" stroke-width="3.00"/>
<path d="M288.2,308.8L288.2,331.5" stroke="#9baeac" stroke-width="3.00"/>
<path d="M288.2,331.5L288.2,354.2" stroke="#9babac" stroke-width="3.00"/>
<path d="M288.2,354.2L288.1,376.9" stroke="#9ba8ac" stroke-width="3.00"/>
<path d="M288.1,376.9L288.1,399.6" stroke="#9ba5ac" stroke-width="3.00"/>
<path d="M288.1,399.6L288.1,422.3" stroke="#9ba3ac" stroke-width="3.00"/>
<path d="M288.1,422.3L288.1,435.5" stroke="#9ba1ac" stroke-width="3.00"/>
<path d="M301.6,19.0L301.6,36.9" stroke="#ae9995" stroke-width="3.00"/>
<path d="M301.6,36.9L301.7,59.7" stroke="#b19995" stroke-width="3.00"/>
<path d="M301.7,59.7L301.7,82.6" stroke="#b29c95" stroke-width="2.64"/>
<path d="M301.5,172.5L301.5,195.0" stroke="#afb098" stroke-width="2.64"/>
<path d="M301.5,195.0L301.4,217.7" stroke="#abb09c" stroke-width="3.00"/>
<path d="M301.4,217.7L301.4,240.4" stroke="#a7b0a0" stroke-width="3.00"/>
<path d="M301.4,240.4L301.4,263.1" stroke="#a3b0a4" stroke-width="3.00"/>
<path d="M301.4,263.1L301.4,285.8" stroke="#a0b0a7" stroke-width="3.00"/>
<path d="M301.4,285.8L301.4,308.5" stroke="#9cb0ab" stroke-width="3.00"/>
<path d="M301.4,308.5L301.3,331.2" stroke="#9baeac" stroke-width="3.00"/>
<path d="M301.3,331.2L301.3,353.9" stroke="#9babac" stroke-width="3.00"/>
<path d="M301.3,353.9L301.3,376.6" stroke="#9ba8ac" stroke-width="3.00"/>
<path d="M301.3,376.6L301.3,399.3" stroke="#9ba5ac" stroke-width="3.00"/>
<path d="M301.3,399.3L301.3,422.0" stroke="#9ba1ac" stroke-width="3.00"/>
<path d="M301.3,422.0L301.3,435.5" stroke="#9b9fac" stroke-width="3.00"/>
<path d="M314.8,19.0L314.8,36.9" stroke="#ae9995" stroke-width="3.00"/>
<path d="M314.8,36.9L314.9,59.8" stroke="#b19995" stroke-width="3.00"/>
<path d="M314.9,59.8L315.0,82.6" stroke="#b29c95" stroke-width="2.64"/>
<path d="M315.0,82.6L315.1,105.5" stroke="#b29f95" stroke-width="2.64"/>
<path d="M314.7,172.3L314.7,194.8" stroke="#aeb099" stroke-width="2.64"/>
<path d="M314.7,194.8L314.6,217.5" stroke="#aab09d" stroke-width="3.00"/>
<path d="M314.6,217.5L314.6,240.2" stroke="#a7b0a0" stroke-width="3.00"/>
<path d="M314.6,240.2L314.6,262.9" stroke="#a3b0a4" stroke-width="3.00"/>
<path d="M314.6,262.9L314.6,285.6" stroke="#9fb0a8" stroke-width="3.00"/>
<path d="M314.6,285.6L314.5,308.3" stroke="#9cb0ab" stroke-width="3.00"/>
<path d="M314.5,308.3L314.5,331.0" stroke="#9baeac" stroke-width="3.00"/>
<path d="M314.5,331.0L314.5,353.7" stroke="#9babac" stroke-width="3.00"/>
<path d="M314.5,353.7L314.5,376.4" stroke="#9ba7ac" stroke-width="3.00"/>
<path d="M314.5,376.4L314.4,399.1" stroke="#9ba4ac" stroke-width="3.00"/>
<path d="M314.4,399.1L314.4,421.8" stroke="#9ba1ac" stroke-width="3.00"/>
<path d="M314.4,421.8L314.4,435.5" stroke="#9b9fac" stroke-width="3.00"/>
<path d="M328.0,19.0L328.0,36.9" stroke="#ae9995" stroke-width="3.00"/>
<path d="M328.0,36.9L328.1,59.8" stroke="#b19995" stroke-width="3.00"/>
<path d="M328.1,59.8L328.2,82.6" stroke="#b29b95" stroke-width="2.64"/>
<path d="M328.2,82.6L328.3,105.5" stroke="#b29e95" stroke-width="2.64"/>
<path d="M328.3,105.5L328.4,129.2" stroke="#b2a195" stroke-width="2.64"/>
<path d="M328.4,129.2L328.6,152.2" stroke="#b2a395" stroke-width="2.64"/>
<path d="M328.6,152.2L328.8,175.2" stroke="#b2a595" stroke-width="2.64"/>
<path d="M328.8,175.2L327.9,194.5" stroke="#acb09b" stroke-width="2.64"/>
<path d="M327.9,194.5L327.8,217.2" stroke="#aab09d" stroke-width="3.00"/>
<path d="M327.8,217.2L327.8,239.9" stroke="#a6b0a1" stroke-width="3.00"/>
<path d="M327.8,239.9L327.8,262.6" stroke="#a3b0a4" stroke-width="3.00"/>
<path d="M327.8,262.6L327.7,285.3" stroke="#9fb0a8" stroke-width="3.00"/>
<path d="M327.7,285.3L327.7,308.0" stroke="#9cb0ab" stroke-width="3.00"/>
<path d="M327.7,308.0L327.7,330.7" stroke="#9badac" stroke-width="3.00"/>
<path d="M327.7,330.7L327.7,353.4" stroke="#9baaac" stroke-width="3.00"/>
<path d="M327.7,353.4L327.6,376.1" stroke="#9ba7ac" stroke-width="3.00"/>
<path d="M327.6,376.1L327.6,398.8" stroke="#9ba4ac" stroke-width="3.00"/>
<path d="M327.6,398.8L327.6,421.5" stroke="#9ba1ac" stroke-width="3.00"/>
<path d="M327.6,421.5L327.6,435.5" stroke="#9b9eac" stroke-width="3.00"/>
<path d="M341.3,19.0L341.3,37.0" stroke="#ae9995" stroke-width="3.00"/>
<path d="M341.3,37.0L341.3,59.8" stroke="#b19995" stroke-width="3.00"/>
<path d="M341.3,59.8L341.4,82.7" stroke="#b29b95" stroke-width="3.00"/>
<path d="M341.4,82.7L341.5,105.5" stroke="#b29e95" stroke-width="3.00"/>
<path d="M341.5,105.5L341.6,129.2" stroke="#b2a195" stroke-width="3.00"/>
<path d="M341.6,129.2L341.8,152.2" stroke="#b2a395" stroke-width="3.00"/>
<path d="M341.8,152.2L342.0,175.2" stroke="#b2a595" stroke-width="3.00"/>
<path d="M342.0,175.2L342.2,198.2" stroke="#b2a795" stroke-width="3.00"/>
<path d="M342.2,198.2L341.0,216.9" stroke="#a9b09e" stroke-width="3.00"/>
<path d="M341.0,216.9L341.0,239.6" stroke="#a6b0a1" stroke-width="3.00"/>
<path d="M341.0,239.6L341.0,262.3" stroke="#a2b0a5" stroke-width="3.00"/>
<path d="M341.0,262.3L340.9,285.0" stroke="#9fb0a8" stroke-width="3.00"/>
<path d="M340.9,285.0L340.9,307.7" stroke="#9bb0ab" stroke-width="3.00"/>
<path d="M340.9,307.7L340.9,330.4" stroke="#9badac" stroke-width="3.00"/>
<path d="M340.9,330.4L340.8,353.1" stroke="#9baaac" stroke-width="3.00"/>
<path d="M340.8,353.1L340.8,375.8" stroke="#9ba7ac" stroke-width="3.00"/>
<path d="M340.8,375.8L340.8,398.5" stroke="#9ba4ac" stroke-width="3.00"/>
<path d="M340.8,398.5L340.7,421.2" stroke="#9ba1ac" stroke-width="3.00"/>
<path d="M340.7,421.2L340.7,435.5" stroke="#9b9eac" stroke-width="3.00"/>
<path d="M354.5,19.0L354.5,37.0" stroke="#ae9995" stroke-width="3.00"/>
<path d="M354.5,37.0L354.6,59.8" stroke="#b19995" stroke-width="3.00"/>
<path d="M354.6,59.8L354.6,82.7" stroke="#b29b95" stroke-width="3.00"/>
<path d="M354.6,82.7L354.7,105.6" stroke="#b29d95" stroke-width="3.00"/>
<path d="M354.7,105.6L354.9,129.2" stroke="#b2a195" stroke-width="3.00"/>
<path d="M354.9,129.2L355.0,152.2" stroke="#b2a395" stroke-width="3.00"/>
<path d="M355.0,152.2L355.2,175.2" stroke="#b2a595" stroke-width="3.00"/>
<path d="M355.2,175.2L355.4,198.2" stroke="#b2a895" stroke-width="3.00"/>
<path d="M355.4,198.2L355.6,221.1" stroke="#b2aa95" stroke-width="3.00"/>
<path d="M355.6,221.1L354.2,239.4" stroke="#a5b0a2" stroke-width="3.00"/>
<path d="M354.2,239.4L354.1,262.1" stroke="#a2b0a5" stroke-width="3.00"/>
<path d="M354.1,262.1L354.1,284.8" stroke="#9eb0a9" stroke-width="3.00"/>
<path d="M354.1,284.8L354.1,307.5" stroke="#9bb0ac" stroke-width="3.00"/>
<path d="M354.1,307.5L354.0,330.2" stroke="#9badac" stroke-width="3.00"/>
<path d="M354.0,330.2L354.0,352.9" stroke="#9ba9ac" stroke-width="3.00"/>
<path d="M354.0,352.9L354.0,375.6" stroke="#9ba6ac" stroke-width="3.00"/>
<path d="M354.0,375.6L353.9,398.3" stroke="#9ba3ac" stroke-width="3.00"/>
<path d="M353.9,398.3L353.9,421.0" stroke="#9ba0ac" stroke-width="3.00"/>
<path d="M353.9,421.0L353.9,435.5" stroke="#9b9eac" stroke-width="3.00"/>
<path d="M367.7,19.0L367.7,37.0" stroke="#ae9995" stroke-width="3.00"/>
<path d="M367.7,37.0L367.8,59.8" stroke="#b19995" stroke-width="3.00"/>
<path d="M367.8,59.8L367.9,82.7" stroke="#b29b95" stroke-width="3.00"/>
<path d="M367.9,82.7L368.0,105.6" stroke="#b29e95" stroke-width="3.00"/>
<path d="M368.0,105.6L368.1,129.2" stroke="#b2a195" stroke-width="3.00"/>
<path d="M368.1,129.2L368.2,152.2" stroke="#b2a495" stroke-width="3.00"/>
<path d="M368.2,152.2L368.4,175.1" stroke="#b2a695" stroke-width="3.00"/>
<path d="M368.4,175.1L368.6,198.1" stroke="#b2a895" stroke-width="3.00"/>
<path d="M368.6,198.1L368.8,221.1" stroke="#b2ab95" stroke-width="3.00"/>
<path d="M368.8,221.1L368.9,244.1" stroke="#b2ad95" stroke-width="3.00"/>
<path d="M368.9,244.1L367.3,262.1" stroke="#a1b0a6" stroke-width="3.00"/>
<path d="M367.3,262.1L367.3,284.8" stroke="#9eb0a9" stroke-width="3.00"/>
<path d="M367.3,284.8L367.2,307.5" stroke="#9bb0ac" stroke-width="3.00"/>
<path d="M367.2,307.5L367.2,330.2" stroke="#9bacac" stroke-width="3.00"/>
<path d="M367.2,330.2L367.2,352.9" stroke="#9ba9ac" stroke-width="3.00"/>
<path d="M367.2,352.9L367.1,375.6" stroke="#9ba6ac" stroke-width="3.00"/>
<path d="M367.1,375.6L367.1,398.3" stroke="#9ba3ac" stroke-width="3.00"/>
<path d="M367.1,398.3L367.0,421.0" stroke="#9ba0ac" stroke-width="3.00"/>
<path d="M367.0,421.0L367.0,435.5" stroke="#9b9eac" stroke-width="3.00"/>
<path d="M380.9,19.0L380.9,37.0" stroke="#af9995" stroke-width="3.00"/>
<path d="M380.9,37.0L381.0,59.8" stroke="#b19995" stroke-width="3.00"/>
<path d="M381.0,59.8L381.1,82.7" stroke="#b29b95" stroke-width="3.00"/>
<path d="M381.1,82.7L381.2,105.6" stroke="#b29e95" stroke-width="3.00"/>
<path d="M381.2,105.6L381.3,129.1" stroke="#b2a195" stroke-width="3.00"/>
<path d="M381.3,129.1L381.5,152.0" stroke="#b2a495" stroke-width="3.00"/>
<path d="M381.5,152.0L381.6,175.0" stroke="#b2a695" stroke-width="3.00"/>
<path d="M381.6,175.0L381.8,198.0" stroke="#b2a895" stroke-width="3.00"/>
<path d="M381.8,198.0L382.0,220.9" stroke="#b2ab95" stroke-width="3.00"/>
<path d="M382.0,220.9L382.1,243.9" stroke="#b2ad95" stroke-width="3.00"/>
<path d="M382.1,243.9L382.3,266.9" stroke="#b2af95" stroke-width="3.00"/>
<path d="M382.3,266.9L380.5,284.8" stroke="#9db0a9" stroke-width="3.00"/>
<path d="M380.5,284.8L380.4,307.5" stroke="#9bb0ac" stroke-width="3.00"/>
<path d="M380.4,307.5L380.4,330.2" stroke="#9bacac" stroke-width="3.00"/>
<path d="M380.4,330.2L380.3,352.9" stroke="#9ba9ac" stroke-width="2.64"/>
<path d="M380.3,352.9L380.3,375.6" stroke="#9ba6ac" stroke-width="2.64"/>
<path d="M380.3,375.6L380.2,398.3" stroke="#9ba3ac" stroke-width="2.64"/>
<path d="M380.2,398.3L380.2,421.0" stroke="#9ba0ac" stroke-width="2.64"/>
<path d="M380.2,421.0L380.2,435.5" stroke="#9b9eac" stroke-width="2.64"/>
<path d="M394.1,19.0L394.1,37.0" stroke="#af9995" stroke-width="3.00"/>
<path d="M394.1,37.0L394.2,59.8" stroke="#b19995" stroke-width="3.00"/>
<path d="M394.2,59.8L394.3,82.7" stroke="#b29b95" stroke-width="3.00"/>
<path d="M394.3,82.7L394.4,105.6" stroke="#b29e95" stroke-width="3.00"/>
<path d="M394.4,105.6L394.5,128.9" stroke="#b2a195" stroke-width="3.00"/>
<path d="M394.5,128.9L394.7,151.9" stroke="#b2a495" stroke-width="3.00"/>
<path d="M394.7,151.9L394.8,174.8" stroke="#b2a695" stroke-width="3.00"/>
<path d="M394.8,174.8L395.0,197.8" stroke="#b2a995" stroke-width="3.00"/>
<path d="M395.0,197.8L395.2,220.8" stroke="#b2ab95" stroke-width="3.00"/>
<path d="M395.2,220.8L395.3,243.7" stroke="#b2ae95" stroke-width="3.00"/>
<path d="M395.3,243.7L395.5,266.7" stroke="#b2b095" stroke-width="3.00"/>
<path d="M395.5,266.7L395.6,289.6" stroke="#b0b097" stroke-width="3.00"/>
<path d="M395.6,289.6L393.6,307.5" stroke="#9bafac" stroke-width="3.00"/>
<path d="M393.6,307.5L393.5,330.2" stroke="#9bacac" stroke-width="3.00"/>
<path d="M393.5,330.2L393.5,352.9" stroke="#9ba9ac" stroke-width="2.64"/>
<path d="M393.5,352.9L393.4,375.6" stroke="#9ba6ac" stroke-width="2.64"/>
<path d="M393.4,375.6L393.4,398.3" stroke="#9ba3ac" stroke-width="2.64"/>
<path d="M393.4,398.3L393.4,421.0" stroke="#9ba0ac" stroke-width="2.64"/>
<path d="M393.4,421.0L393.4,435.5" stroke="#9b9eac" stroke-width="2.64"/>
<path d="M407.4,19.0L407.4,37.0" stroke="#af9995" stroke-width="3.00"/>
<path d="M407.4,37.0L407.4,59.8" stroke="#b19995" stroke-width="3.00"/>
<path d="M407.4,59.8L407.5,82.7" stroke="#b29b95" stroke-width="3.00"/>
<path d="M407.5,82.7L407.6,105.6" stroke="#b29e95" stroke-width="3.00"/>
<path d="M407.6,105.6L407.7,128.8" stroke="#b2a195" stroke-width="3.00"/>
<path d="M407.7,128.8L407.9,151.7" stroke="#b2a495" stroke-width="3.00"/>
<path d="M407.9,151.7L408.0,174.7" stroke="#b2a795" stroke-width="3.00"/>
<path d="M408.0,174.7L408.2,197.6" stroke="#b2a995" stroke-width="3.00"/>
<path d="M408.2,197.6L408.4,220.6" stroke="#b2ac95" stroke-width="3.00"/>
<path d="M408.4,220.6L408.5,243.5" stroke="#b2ae95" stroke-width="3.00"/>
<path d="M408.5,243.5L408.7,266.5" stroke="#b2b095" stroke-width="3.00"/>
<path d="M408.7,266.5L408.8,289.4" stroke="#b0b097" stroke-width="3.00"/>
<path d="M408.8,289.4L409.0,312.4" stroke="#acb09b" stroke-width="3.00"/>
<path d="M409.0,312.4L406.7,330.2" stroke="#9babac" stroke-width="3.00"/>
<path d="M406.7,330.2L406.7,352.9" stroke="#9ba8ac" stroke-width="2.64"/>
<path d="M420.6,19.0L420.6,37.0" stroke="#af9995" stroke-width="3.00"/>
<path d="M420.6,37.0L420.7,59.8" stroke="#b29995" stroke-width="3.00"/>
<path d="M420.7,59.8L420.7,82.7" stroke="#b29b95" stroke-width="3.00"/>
<path d="M420.7,82.7L420.9,105.6" stroke="#b29e95" stroke-width="3.00"/>
<path d="M420.9,105.6L421.0,128.6" stroke="#b2a295" stroke-width="3.00"/>
<path d="M421.0,128.6L421.1,151.6" stroke="#b2a595" stroke-width="3.00"/>
<path d="M421.1,151.6L421.2,174.5" stroke="#b2a795" stroke-width="3.00"/>
<path d="M421.2,174.5L421.4,197.4" stroke="#b2a995" stroke-width="3.00"/>
<path d="M421.4,197.4L421.6,220.4" stroke="#b2ac95" stroke-width="3.00"/>
<path d="M421.6,220.4L421.7,243.4" stroke="#b2ae95" stroke-width="3.00"/>
<path d="M421.7,243.4L421.9,266.3" stroke="#b1b095" stroke-width="3.00"/>
<path d="M421.9,266.3L422.0,289.3" stroke="#afb098" stroke-width="3.00"/>
<path d="M422.0,289.3L422.2,312.2" stroke="#acb09b" stroke-width="3.00"/>
<path d="M422.2,312.2L422.4,335.2" stroke="#a8b09f" stroke-width="3.00"/>
<path d="M422.4,335.2L419.8,352.9" stroke="#9ba8ac" stroke-width="2.64"/>
<path d="M433.8,19.0L433.8,37.0" stroke="#af9995" stroke-width="3.00"/>
<path d="M433.8,37.0L433.9,59.9" stroke="#b29995" stroke-width="3.00"/>
<path d="M433.9,59.9L434.0,82.7" stroke="#b29c95" stroke-width="3.00"/>
<path d="M434.0,82.7L434.1,105.6" stroke="#b29e95" stroke-width="3.00"/>
<path d="M434.1,105.6L434.2,128.5" stroke="#b2a295" stroke-width="3.00"/>
<path d="M434.2,128.5L434.3,151.4" stroke="#b2a595" stroke-width="3.00"/>
<path d="M434.3,151.4L434.5,174.4" stroke="#b2a795" stroke-width="3.00"/>
<path d="M434.5,174.4L434.6,197.3" stroke="#b2aa95" stroke-width="3.00"/>
<path d="M434.6,197.3L434.8,220.3" stroke="#b2ac95" stroke-width="3.00"/>
<path d="M434.8,220.3L434.9,243.2" stroke="#b2af95" stroke-width="3.00"/>
<path d="M434.9,243.2L435.1,266.2" stroke="#b1b096" stroke-width="3.00"/>
<path d="M435.1,266.2L435.2,289.1" stroke="#afb098" stroke-width="3.00"/>
<path d="M435.2,289.1L435.4,312.1" stroke="#acb09b" stroke-width="3.00"/>
<path d="M435.4,312.1L435.6,335.0" stroke="#a8b09f" stroke-width="3.00"/>
<path d="M435.6,335.0L435.7,358.0" stroke="#a5b0a2" stroke-width="2.64"/>
<path d="M447.0,19.0L447.0,37.0" stroke="#b09995" stroke-width="3.00"/>
<path d="M447.0,37.0L447.1,59.9" stroke="#b29995" stroke-width="3.00"/>
<path d="M447.1,59.9L447.2,82.7" stroke="#b29c95" stroke-width="3.00"/>
<path d="M447.2,82.7L447.3,105.6" stroke="#b29f95" stroke-width="3.00"/>
<path d="M447.3,105.6L447.4,128.5" stroke="#b2a295" stroke-width="3.00"/>
<path d="M447.4,128.5L447.5,151.4" stroke="#b2a595" stroke-width="3.00"/>
<path d="M447.5,151.4L447.7,174.4" stroke="#b2a795" stroke-width="3.00"/>
<path d="M447.7,174.4L447.8,197.3" stroke="#b2aa95" stroke-width="3.00"/>
<path d="M447.8,197.3L448.0,220.2" stroke="#b2ac95" stroke-width="3.00"/>
<path d="M448.0,220.2L448.1,243.2" stroke="#b2af95" stroke-width="3.00"/>
<path d="M448.1,243.2L448.3,266.1" stroke="#b1b096" stroke-width="3.00"/>
<path d="M448.3,266.1L448.4,289.1" stroke="#afb098" stroke-width="3.00"/>
<path d="M448.4,289.1L448.6,312.0" stroke="#abb09b" stroke-width="3.00"/>
<path d="M448.6,312.0L448.8,335.0" stroke="#a8b09f" stroke-width="3.00"/>
<path d="M448.8,335.0L448.9,357.9" stroke="#a4b0a2" stroke-width="2.64"/>
<path d="M460.2,19.0L460.2,37.0" stroke="#b09995" stroke-width="3.00"/>
<path d="M460.2,37.0L460.3,59.9" stroke="#b29a95" stroke-width="3.00"/>
<path d="M460.3,59.9L460.4,82.7" stroke="#b29c95" stroke-width="3.00"/>
<path d="M460.4,82.7L460.5,105.6" stroke="#b29f95" stroke-width="3.00"/>
<path d="M460.5,105.6L460.6,128.5" stroke="#b2a295" stroke-width="3.00"/>
<path d="M460.6,128.5L460.7,151.4" stroke="#b2a595" stroke-width="3.00"/>
<path d="M460.7,151.4L460.9,174.4" stroke="#b2a895" stroke-width="3.00"/>
<path d="M460.9,174.4L461.0,197.3" stroke="#b2aa95" stroke-width="3.00"/>
<path d="M461.0,197.3L461.2,220.2" stroke="#b2ad95" stroke-width="3.00"/>
<path d="M461.2,220.2L461.3,243.2" stroke="#b2af95" stroke-width="3.00"/>
<path d="M461.3,243.2L461.5,266.1" stroke="#b1b096" stroke-width="3.00"/>
<path d="M461.5,266.1L461.6,289.1" stroke="#afb098" stroke-width="3.00"/>
<path d="M461.6,289.1L461.8,312.0" stroke="#abb09c" stroke-width="3.00"/>
<path d="M461.8,312.0L462.0,335.0" stroke="#a8b09f" stroke-width="3.00"/>
<path d="M462.0,335.0L462.1,357.9" stroke="#a4b0a2" stroke-width="2.64"/>
<path d="M473.5,19.0L473.5,37.0" stroke="#b09995" stroke-width="3.00"/>
<path d="M473.5,37.0L473.5,59.9" stroke="#b29a95" stroke-width="3.00"/>
<path d="M473.5,59.9L473.6,82.7" stroke="#b29c95" stroke-width="3.00"/>
<path d="M473.6,82.7L473.7,105.6" stroke="#b29f95" stroke-width="3.00"/>
<path d="M473.7,105.6L473.8,128.5" stroke="#b2a395" stroke-width="3.00"/>
<path d="M473.8,128.5L474.0,151.4" stroke="#b2a695" stroke-width="3.00"/>
<path d="M474.0,151.4L474.1,174.4" stroke="#b2a895" stroke-width="3.00"/>
<path d="M474.1,174.4L474.2,197.3" stroke="#b2aa95" stroke-width="3.00"/>
<path d="M474.2,197.3L474.4,220.2" stroke="#b2ad95" stroke-width="3.00"/>
<path d="M474.4,220.2L474.5,243.2" stroke="#b2af95" stroke-width="3.00"/>
<path d="M474.5,243.2L474.7,266.1" stroke="#b1b096" stroke-width="3.00"/>
<path d="M474.7,266.1L474.8,289.1" stroke="#afb098" stroke-width="3.00"/>
<path d="M474.8,289.1L475.0,312.0" stroke="#abb09c" stroke-width="3.00"/>
<path d="M475.0,312.0L475.2,334.9" stroke="#a7b09f" stroke-width="3.00"/>
<path d="M475.2,334.9L475.3,357.9" stroke="#a4b0a3" stroke-width="2.64"/>
<path d="M486.7,19.0L486.7,37.0" stroke="#b19995" stroke-width="3.00"/>
<path d="M486.7,37.0L486.8,59.9" stroke="#b29a95" stroke-width="3.00"/>
<path d="M486.8,59.9L486.8,82.7" stroke="#b29d95" stroke-width="3.00"/>
<path d="M486.8,82.7L486.9,105.6" stroke="#b29f95" stroke-width="3.00"/>
<path d="M486.9,105.6L487.1,128.5" stroke="#b2a395" stroke-width="3.00"/>
<path d="M487.1,128.5L487.2,151.4" stroke="#b2a695" stroke-width="3.00"/>
<path d="M487.2,151.4L487.3,174.4" stroke="#b2a895" stroke-width="3.00"/>
<path d="M487.3,174.4L487.4,197.3" stroke="#b2ab95" stroke-width="3.00"/>
<path d="M487.4,197.3L487.6,220.2" stroke="#b2ad95" stroke-width="3.00"/>
<path d="M487.6,220.2L487.7,243.1" stroke="#b2b095" stroke-width="3.00"/>
<path d="M487.7,243.1L487.9,266.1" stroke="#b0b097" stroke-width="3.00"/>
<path d="M487.9,266.1L488.0,289.0" stroke="#aeb098" stroke-width="3.00"/>
<path d="M488.0,289.0L488.2,312.0" stroke="#abb09c" stroke-width="3.00"/>
<path d="M488.2,312.0L488.4,334.9" stroke="#a7b09f" stroke-width="3.00"/>
<path d="M488.4,334.9L488.5,357.9" stroke="#a4b0a3" stroke-width="2.64"/>
<path d="M233.0,36.9L235.5,36.9" stroke="#b7a3a0" stroke-width="2.60"/>
<path d="M235.5,36.9L248.7,36.9" stroke="#b7a3a0" stroke-width="2.60"/>
<path d="M248.7,36.9L261.9,36.9" stroke="#b7a3a0" stroke-width="2.60"/>
<path d="M261.9,36.9L275.2,36.9" stroke="#b7a3a0" stroke-width="2.60"/>
<path d="M275.2,36.9L288.4,36.9" stroke="#b7a3a0" stroke-width="2.60"/>
<path d="M288.4,36.9L301.6,36.9" stroke="#b7a3a0" stroke-width="2.60"/>
<path d="M301.6,36.9L314.8,36.9" stroke="#b7a3a0" stroke-width="2.60"/>
<path d="M314.8,36.9L328.0,36.9" stroke="#b7a3a0" stroke-width="2.60"/>
<path d="M328.0,36.9L341.3,37.0" stroke="#b7a3a0" stroke-width="2.60"/>
<path d="M341.3,37.0L354.5,37.0" stroke="#b7a3a0" stroke-width="2.60"/>
<path d="M354.5,37.0L367.7,37.0" stroke="#b7a3a0" stroke-width="2.60"/>
<path d="M367.7,37.0L380.9,37.0" stroke="#b8a3a0" stroke-width="2.60"/>
<path d="M380.9,37.0L394.1,37.0" stroke="#b8a3a0" stroke-width="2.60"/>
<path d="M394.1,37.0L407.4,37.0" stroke="#b8a3a0" stroke-width="2.60"/>
<path d="M407.4,37.0L420.6,37.0" stroke="#b8a3a0" stroke-width="2.60"/>
<path d="M420.6,37.0L433.8,37.0" stroke="#b8a3a0" stroke-width="2.60"/>
<path d="M433.8,37.0L447.0,37.0" stroke="#b8a3a0" stroke-width="2.60"/>
<path d="M447.0,37.0L460.2,37.0" stroke="#b9a3a0" stroke-width="2.60"/>
<path d="M460.2,37.0L473.5,37.0" stroke="#b9a3a0" stroke-width="2.60"/>
<path d="M473.5,37.0L486.7,37.0" stroke="#b9a3a0" stroke-width="2.60"/>
<path d="M486.7,37.0L497.0,37.0" stroke="#b9a3a0" stroke-width="2.60"/>
<path d="M233.0,59.7L235.6,59.7" stroke="#b9a5a0" stroke-width="2.60"/>
<path d="M235.6,59.7L248.8,59.7" stroke="#b9a5a0" stroke-width="2.60"/>
<path d="M248.8,59.7L262.0,59.7" stroke="#b9a5a0" stroke-width="2.60"/>
<path d="M262.0,59.7L275.2,59.7" stroke="#b9a5a0" stroke-width="2.60"/>
<path d="M275.2,59.7L288.4,59.7" stroke="#b9a5a0" stroke-width="2.60"/>
<path d="M288.4,59.7L301.7,59.7" stroke="#b9a5a0" stroke-width="2.60"/>
<path d="M301.7,59.7L314.9,59.8" stroke="#b9a4a0" stroke-width="2.60"/>
<path d="M314.9,59.8L328.1,59.8" stroke="#b9a4a0" stroke-width="2.60"/>
<path d="M328.1,59.8L341.3,59.8" stroke="#b9a4a0" stroke-width="2.60"/>
<path d="M341.3,59.8L354.6,59.8" stroke="#b9a4a0" stroke-width="2.60"/>
<path d="M354.6,59.8L367.8,59.8" stroke="#b9a4a0" stroke-width="2.60"/>
<path d="M367.8,59.8L381.0,59.8" stroke="#b9a4a0" stroke-width="2.60"/>
<path d="M381.0,59.8L394.2,59.8" stroke="#b9a4a0" stroke-width="2.60"/>
<path d="M394.2,59.8L407.4,59.8" stroke="#b9a4a0" stroke-width="2.60"/>
<path d="M407.4,59.8L420.7,59.8" stroke="#b9a4a0" stroke-width="2.60"/>
<path d="M420.7,59.8L433.9,59.9" stroke="#b9a4a0" stroke-width="2.60"/>
<path d="M433.9,59.9L447.1,59.9" stroke="#b9a5a0" stroke-width="2.60"/>
<path d="M447.1,59.9L460.3,59.9" stroke="#b9a5a0" stroke-width="2.60"/>
<path d="M460.3,59.9L473.5,59.9" stroke="#b9a5a0" stroke-width="2.60"/>
<path d="M473.5,59.9L486.8,59.9" stroke="#b9a5a0" stroke-width="2.60"/>
<path d="M486.8,59.9L497.0,59.9" stroke="#b9a5a0" stroke-width="2.60"/>
<path d="M233.0,82.4L235.6,82.4" stroke="#b9aca0" stroke-width="2.60"/>
<path d="M235.6,82.4L248.8,82.4" stroke="#b9aca0" stroke-width="2.60"/>
<path d="M248.8,82.4L262.0,82.4" stroke="#b9aca0" stroke-width="2.60"/>
<path d="M262.0,82.4L275.3,82.5" stroke="#b9aba0" stroke-width="2.29"/>
<path d="M275.3,82.5L288.5,82.5" stroke="#b9aaa0" stroke-width="2.29"/>
<path d="M288.5,82.5L301.7,82.6" stroke="#b9a9a0" stroke-width="2.29"/>
<path d="M301.7,82.6L315.0,82.6" stroke="#b9a8a0" stroke-width="2.29"/>
<path d="M315.0,82.6L328.2,82.6" stroke="#b9a6a0" stroke-width="2.29"/>
<path d="M328.2,82.6L341.4,82.7" stroke="#b9a6a0" stroke-width="2.60"/>
<path d="M341.4,82.7L354.6,82.7" stroke="#b9a6a0" stroke-width="2.60"/>
<path d="M354.6,82.7L367.9,82.7" stroke="#b9a6a0" stroke-width="2.60"/>
<path d="M367.9,82.7L381.1,82.7" stroke="#b9a6a0" stroke-width="2.60"/>
<path d="M381.1,82.7L394.3,82.7" stroke="#b9a6a0" stroke-width="2.60"/>
<path d="M394.3,82.7L407.5,82.7" stroke="#b9a6a0" stroke-width="2.60"/>
<path d="M407.5,82.7L420.7,82.7" stroke="#b9a6a0" stroke-width="2.60"/>
<path d="M420.7,82.7L434.0,82.7" stroke="#b9a7a0" stroke-width="2.60"/>
<path d="M434.0,82.7L447.2,82.7" stroke="#b9a7a0" stroke-width="2.60"/>
<path d="M447.2,82.7L460.4,82.7" stroke="#b9a7a0" stroke-width="2.60"/>
<path d="M460.4,82.7L473.6,82.7" stroke="#b9a7a0" stroke-width="2.60"/>
<path d="M473.6,82.7L486.8,82.7" stroke="#b9a8a0" stroke-width="2.60"/>
<path d="M486.8,82.7L497.0,82.7" stroke="#b9a8a0" stroke-width="2.60"/>
<path d="M233.0,105.1L235.6,105.1" stroke="#b9b0a0" stroke-width="2.60"/>
<path d="M235.6,105.1L248.8,105.1" stroke="#b9b0a0" stroke-width="2.60"/>
<path d="M248.8,105.1L262.0,105.2" stroke="#b9b0a0" stroke-width="2.60"/>
<path d="M262.0,105.2L275.3,105.2" stroke="#b9b0a0" stroke-width="2.29"/>
<path d="M315.1,105.5L328.3,105.5" stroke="#b9a9a0" stroke-width="2.29"/>
<path d="M328.3,105.5L341.5,105.5" stroke="#b9a9a0" stroke-width="2.29"/>
<path d="M341.5,105.5L354.7,105.6" stroke="#b9a9a0" stroke-width="2.60"/>
<path d="M354.7,105.6L368.0,105.6" stroke="#b9a9a0" stroke-width="2.60"/>
<path d="M368.0,105.6L381.2,105.6" stroke="#b9a9a0" stroke-width="2.60"/>
<path d="M381.2,105.6L394.4,105.6" stroke="#b9a9a0" stroke-width="2.60"/>
<path d="M394.4,105.6L407.6,105.6" stroke="#b9a9a0" stroke-width="2.60"/>
<path d="M407.6,105.6L420.9,105.6" stroke="#b9a9a0" stroke-width="2.60"/>
<path d="M420.9,105.6L434.1,105.6" stroke="#b9a9a0" stroke-width="2.60"/>
<path d="M434.1,105.6L447.3,105.6" stroke="#b9aaa0" stroke-width="2.60"/>
<path d="M447.3,105.6L460.5,105.6" stroke="#b9aaa0" stroke-width="2.60"/>
<path d="M460.5,105.6L473.7,105.6" stroke="#b9aaa0" stroke-width="2.60"/>
<path d="M473.7,105.6L486.9,105.6" stroke="#b9aaa0" stroke-width="2.60"/>
<path d="M486.9,105.6L497.0,105.6" stroke="#b9aba0" stroke-width="2.60"/>
<path d="M233.0,127.8L235.6,127.8" stroke="#b9b1a0" stroke-width="2.60"/>
<path d="M235.6,127.8L248.8,127.8" stroke="#b9b1a0" stroke-width="2.60"/>
<path d="M248.8,127.8L262.0,127.8" stroke="#b9b2a0" stroke-width="2.60"/>
<path d="M262.0,127.8L275.2,127.8" stroke="#b9b2a0" stroke-width="2.29"/>
<path d="M328.4,129.2L341.6,129.2" stroke="#b9aca0" stroke-width="2.29"/>
<path d="M341.6,129.2L354.9,129.2" stroke="#b9aca0" stroke-width="2.60"/>
<path d="M354.9,129.2L368.1,129.2" stroke="#b9aca0" stroke-width="2.60"/>
<path d="M368.1,129.2L381.3,129.1" stroke="#b9aca0" stroke-width="2.60"/>
<path d="M381.3,129.1L394.5,128.9" stroke="#b9aca0" stroke-width="2.60"/>
<path d="M394.5,128.9L407.7,128.8" stroke="#b9aca0" stroke-width="2.60"/>
<path d="M407.7,128.8L421.0,128.6" stroke="#b9aca0" stroke-width="2.60"/>
<path d="M421.0,128.6L434.2,128.5" stroke="#b9ada0" stroke-width="2.60"/>
<path d="M434.2,128.5L447.4,128.5" stroke="#b9ada0" stroke-width="2.60"/>
<path d="M447.4,128.5L460.6,128.5" stroke="#b9ada0" stroke-width="2.60"/>
<path d="M460.6,128.5L473.8,128.5" stroke="#b9ada0" stroke-width="2.60"/>
<path d="M473.8,128.5L487.1,128.5" stroke="#b9ada0" stroke-width="2.60"/>
<path d="M487.1,128.5L497.0,128.5" stroke="#b9aea0" stroke-width="2.60"/>
<path d="M233.0,150.5L235.6,150.5" stroke="#b9b3a0" stroke-width="2.60"/>
<path d="M235.6,150.5L248.8,150.5" stroke="#b9b3a0" stroke-width="2.60"/>
<path d="M248.8,150.5L262.0,150.4" stroke="#b9b4a0" stroke-width="2.60"/>
<path d="M262.0,150.4L275.2,150.4" stroke="#b9b4a0" stroke-width="2.29"/>
<path d="M328.6,152.2L341.8,152.2" stroke="#b9ada0" stroke-width="2.29"/>
<path d="M341.8,152.2L355.0,152.2" stroke="#b9ada0" stroke-width="2.60"/>
<path d="M355.0,152.2L368.2,152.2" stroke="#b9aea0" stroke-width="2.60"/>
<path d="M368.2,152.2L381.5,152.0" stroke="#b9aea0" stroke-width="2.60"/>
<path d="M381.5,152.0L394.7,151.9" stroke="#b9aea0" stroke-width="2.60"/>
<path d="M394.7,151.9L407.9,151.7" stroke="#b9aea0" stroke-width="2.60"/>
<path d="M407.9,151.7L421.1,151.6" stroke="#b9afa0" stroke-width="2.60"/>
<path d="M421.1,151.6L434.3,151.4" stroke="#b9afa0" stroke-width="2.60"/>
<path d="M434.3,151.4L447.5,151.4" stroke="#b9afa0" stroke-width="2.60"/>
<path d="M447.5,151.4L460.7,151.4" stroke="#b9afa0" stroke-width="2.60"/>
<path d="M460.7,151.4L474.0,151.4" stroke="#b9afa0" stroke-width="2.60"/>
<path d="M474.0,151.4L487.2,151.4" stroke="#b9b0a0" stroke-width="2.60"/>
<path d="M487.2,151.4L497.0,151.4" stroke="#b9b0a0" stroke-width="2.60"/>
<path d="M233.0,173.1L235.6,173.1" stroke="#b9b6a0" stroke-width="2.60"/>
<path d="M235.6,173.1L248.8,173.1" stroke="#b9b6a0" stroke-width="2.60"/>
<path d="M248.8,173.1L262.0,173.1" stroke="#b9b7a0" stroke-width="2.60"/>
<path d="M262.0,173.1L275.1,173.0" stroke="#b9b7a0" stroke-width="2.29"/>
<path d="M275.1,173.0L288.3,172.7" stroke="#b9b8a0" stroke-width="2.29"/>
<path d="M288.3,172.7L301.5,172.5" stroke="#b9b8a0" stroke-width="2.29"/>
<path d="M301.5,172.5L314.7,172.3" stroke="#b8b8a1" stroke-width="2.29"/>
<path d="M314.7,172.3L328.8,175.2" stroke="#b7b8a3" stroke-width="2.29"/>
<path d="M328.8,175.2L342.0,175.2" stroke="#b9afa0" stroke-width="2.29"/>
<path d="M342.0,175.2L355.2,175.2" stroke="#b9afa0" stroke-width="2.60"/>
<path d="M355.2,175.2L368.4,175.1" stroke="#b9b0a0" stroke-width="2.60"/>
<path d="M368.4,175.1L381.6,175.0" stroke="#b9b0a0" stroke-width="2.60"/>
<path d="M381.6,175.0L394.8,174.8" stroke="#b9b0a0" stroke-width="2.60"/>
<path d="M394.8,174.8L408.0,174.7" stroke="#b9b0a0" stroke-width="2.60"/>
<path d="M408.0,174.7L421.2,174.5" stroke="#b9b1a0" stroke-width="2.60"/>
<path d="M421.2,174.5L434.5,174.4" stroke="#b9b1a0" stroke-width="2.60"/>
<path d="M434.5,174.4L447.7,174.4" stroke="#b9b1a0" stroke-width="2.60"/>
<path d="M447.7,174.4L460.9,174.4" stroke="#b9b1a0" stroke-width="2.60"/>
<path d="M460.9,174.4L474.1,174.4" stroke="#b9b2a0" stroke-width="2.60"/>
<path d="M474.1,174.4L487.3,174.4" stroke="#b9b2a0" stroke-width="2.60"/>
<path d="M487.3,174.4L497.0,174.4" stroke="#b9b2a0" stroke-width="2.60"/>
<path d="M233.0,195.8L235.6,195.8" stroke="#b8b8a2" stroke-width="2.60"/>
<path d="M235.6,195.8L248.8,195.8" stroke="#b7b8a2" stroke-width="2.60"/>
<path d="M248.8,195.8L261.9,195.7" stroke="#b7b8a2" stroke-width="2.60"/>
<path d="M261.9,195.7L275.1,195.6" stroke="#b6b8a3" stroke-width="2.29"/>
<path d="M275.1,195.6L288.3,195.3" stroke="#b6b8a3" stroke-width="2.29"/>
<path d="M288.3,195.3L301.5,195.0" stroke="#b5b8a4" stroke-width="2.29"/>
<path d="M301.5,195.0L314.7,194.8" stroke="#b5b8a5" stroke-width="2.29"/>
<path d="M314.7,194.8L327.9,194.5" stroke="#b4b8a5" stroke-width="2.29"/>
<path d="M327.9,194.5L342.2,198.2" stroke="#b3b8a6" stroke-width="2.60"/>
<path d="M342.2,198.2L355.4,198.2" stroke="#b9b1a0" stroke-width="2.60"/>
<path d="M355.4,198.2L368.6,198.1" stroke="#b9b2a0" stroke-width="2.60"/>
<path d="M368.6,198.1L381.8,198.0" stroke="#b9b2a0" stroke-width="2.60"/>
<path d="M381.8,198.0L395.0,197.8" stroke="#b9b2a0" stroke-width="2.60"/>
<path d="M395.0,197.8L408.2,197.6" stroke="#b9b3a0" stroke-width="2.60"/>
<path d="M408.2,197.6L421.4,197.4" stroke="#b9b3a0" stroke-width="2.60"/>
<path d="M421.4,197.4L434.6,197.3" stroke="#b9b3a0" stroke-width="2.60"/>
<path d="M434.6,197.3L447.8,197.3" stroke="#b9b3a0" stroke-width="2.60"/>
<path d="M447.8,197.3L461.0,197.3" stroke="#b9b4a0" stroke-width="2.60"/>
<path d="M461.0,197.3L474.2,197.3" stroke="#b9b4a0" stroke-width="2.60"/>
<path d="M474.2,197.3L487.4,197.3" stroke="#b9b4a0" stroke-width="2.60"/>
<path d="M487.4,197.3L497.0,197.3" stroke="#b9b4a0" stroke-width="2.60"/>
<path d="M233.0,218.5L235.6,218.5" stroke="#b4b8a5" stroke-width="2.60"/>
<path d="M235.6,218.5L248.7,218.4" stroke="#b4b8a5" stroke-width="2.60"/>
<path d="M248.7,218.4L261.9,218.4" stroke="#b3b8a6" stroke-width="2.60"/>
<path d="M261.9,218.4L275.1,218.2" stroke="#b3b8a6" stroke-width="2.60"/>
<path d="M275.1,218.2L288.3,218.0" stroke="#b2b8a7" stroke-width="2.60"/>
<path d="M288.3,218.0L301.4,217.7" stroke="#b2b8a7" stroke-width="2.60"/>
<path d="M301.4,217.7L314.6,217.5" stroke="#b1b8a8" stroke-width="2.60"/>
<path d="M314.6,217.5L327.8,217.2" stroke="#b1b8a8" stroke-width="2.60"/>
<path d="M327.8,217.2L341.0,216.9" stroke="#b0b8a9" stroke-width="2.60"/>
<path d="M341.0,216.9L355.6,221.1" stroke="#b0b8aa" stroke-width="2.60"/>
<path d="M355.6,221.1L368.8,221.1" stroke="#b9b4a0" stroke-width="2.60"/>
<path d="M368.8,221.1L382.0,220.9" stroke="#b9b4a0" stroke-width="2.60"/>
<path d="M382.0,220.9L395.2,220.8" stroke="#b9b5a0" stroke-width="2.60"/>
<path d="M395.2,220.8L408.4,220.6" stroke="#b9b5a0" stroke-width="2.60"/>
<path d="M408.4,220.6L421.6,220.4" stroke="#b9b5a0" stroke-width="2.60"/>
<path d="M421.6,220.4L434.8,220.3" stroke="#b9b5a0" stroke-width="2.60"/>
<path d="M434.8,220.3L448.0,220.2" stroke="#b9b6a0" stroke-width="2.60"/>
<path d="M448.0,220.2L461.2,220.2" stroke="#b9b6a0" stroke-width="2.60"/>
<path d="M461.2,220.2L474.4,220.2" stroke="#b9b6a0" stroke-width="2.60"/>
<path d="M474.4,220.2L487.6,220.2" stroke="#b9b6a0" stroke-width="2.60"/>
<path d="M487.6,220.2L497.0,220.2" stroke="#b9b6a0" stroke-width="2.60"/>
<path d="M233.0,241.1L235.5,241.1" stroke="#b0b8a9" stroke-width="2.60"/>
<path d="M235.5,241.1L248.7,241.1" stroke="#b0b8a9" stroke-width="2.60"/>
<path d="M248.7,241.1L261.9,241.0" stroke="#afb8aa" stroke-width="2.60"/>
<path d="M261.9,241.0L275.1,240.9" stroke="#afb8aa" stroke-width="2.60"/>
<path d="M275.1,240.9L288.2,240.7" stroke="#afb8aa" stroke-width="2.60"/>
<path d="M288.2,240.7L301.4,240.4" stroke="#aeb8ab" stroke-width="2.60"/>
<path d="M301.4,240.4L314.6,240.2" stroke="#aeb8ab" stroke-width="2.60"/>
<path d="M314.6,240.2L327.8,239.9" stroke="#aeb8ac" stroke-width="2.60"/>
<path d="M327.8,239.9L341.0,239.6" stroke="#adb8ac" stroke-width="2.60"/>
<path d="M341.0,239.6L354.2,239.4" stroke="#adb8ac" stroke-width="2.60"/>
<path d="M354.2,239.4L368.9,244.1" stroke="#acb8ad" stroke-width="2.60"/>
<path d="M368.9,244.1L382.1,243.9" stroke="#b9b6a0" stroke-width="2.60"/>
<path d="M382.1,243.9L395.3,243.7" stroke="#b9b7a0" stroke-width="2.60"/>
<path d="M395.3,243.7L408.5,243.5" stroke="#b9b7a0" stroke-width="2.60"/>
<path d="M408.5,243.5L421.7,243.4" stroke="#b9b7a0" stroke-width="2.60"/>
<path d="M421.7,243.4L434.9,243.2" stroke="#b9b7a0" stroke-width="2.60"/>
<path d="M434.9,243.2L448.1,243.2" stroke="#b9b8a0" stroke-width="2.60"/>
<path d="M448.1,243.2L461.3,243.2" stroke="#b9b8a0" stroke-width="2.60"/>
<path d="M461.3,243.2L474.5,243.2" stroke="#b9b8a0" stroke-width="2.60"/>
<path d="M474.5,243.2L487.7,243.1" stroke="#b9b8a0" stroke-width="2.60"/>
<path d="M487.7,243.1L497.0,243.1" stroke="#b9b8a0" stroke-width="2.60"/>
<path d="M233.0,263.8L235.5,263.8" stroke="#acb8ad" stroke-width="2.60"/>
<path d="M235.5,263.8L248.7,263.8" stroke="#acb8ad" stroke-width="2.60"/>
<path d="M248.7,263.8L261.9,263.8" stroke="#acb8ad" stroke-width="2.60"/>
<path d="M261.9,263.8L275.0,263.6" stroke="#abb8ae" stroke-width="2.60"/>
<path d="M275.0,263.6L288.2,263.4" stroke="#abb8ae" stroke-width="2.60"/>
<path d="M288.2,263.4L301.4,263.1" stroke="#abb8ae" stroke-width="2.60"/>
<path d="M301.4,263.1L314.6,262.9" stroke="#abb8af" stroke-width="2.60"/>
<path d="M314.6,262.9L327.8,262.6" stroke="#aab8af" stroke-width="2.60"/>
<path d="M327.8,262.6L341.0,262.3" stroke="#aab8af" stroke-width="2.60"/>
<path d="M341.0,262.3L354.1,262.1" stroke="#aab8b0" stroke-width="2.60"/>
<path d="M354.1,262.1L367.3,262.1" stroke="#a9b8b0" stroke-width="2.60"/>
<path d="M367.3,262.1L382.3,266.9" stroke="#a9b8b0" stroke-width="2.60"/>
<path d="M382.3,266.9L395.5,266.7" stroke="#b9b8a0" stroke-width="2.60"/>
<path d="M395.5,266.7L408.7,266.5" stroke="#b9b8a0" stroke-width="2.60"/>
<path d="M408.7,266.5L421.9,266.3" stroke="#b8b8a1" stroke-width="2.60"/>
<path d="M421.9,266.3L435.1,266.2" stroke="#b8b8a1" stroke-width="2.60"/>
<path d="M435.1,266.2L448.3,266.1" stroke="#b8b8a1" stroke-width="2.60"/>
<path d="M448.3,266.1L461.5,266.1" stroke="#b8b8a1" stroke-width="2.60"/>
<path d="M461.5,266.1L474.7,266.1" stroke="#b8b8a1" stroke-width="2.60"/>
<path d="M474.7,266.1L487.9,266.1" stroke="#b8b8a2" stroke-width="2.60"/>
<path d="M487.9,266.1L497.0,266.1" stroke="#b7b8a2" stroke-width="2.60"/>
<path d="M233.0,286.5L235.5,286.5" stroke="#a9b8b0" stroke-width="2.60"/>
<path d="M235.5,286.5L248.7,286.4" stroke="#a9b8b1" stroke-width="2.60"/>
<path d="M248.7,286.4L261.9,286.4" stroke="#a8b8b1" stroke-width="2.60"/>
<path d="M261.9,286.4L275.0,286.3" stroke="#a8b8b1" stroke-width="2.60"/>
<path d="M275.0,286.3L288.2,286.1" stroke="#a8b8b1" stroke-width="2.60"/>
<path d="M288.2,286.1L301.4,285.8" stroke="#a8b8b1" stroke-width="2.60"/>
<path d="M301.4,285.8L314.6,285.6" stroke="#a8b8b2" stroke-width="2.60"/>
<path d="M314.6,285.6L327.7,285.3" stroke="#a7b8b2" stroke-width="2.60"/>
<path d="M327.7,285.3L340.9,285.0" stroke="#a7b8b2" stroke-width="2.60"/>
<path d="M340.9,285.0L354.1,284.8" stroke="#a7b8b2" stroke-width="2.60"/>
<path d="M354.1,284.8L367.3,284.8" stroke="#a7b8b3" stroke-width="2.60"/>
<path d="M367.3,284.8L380.5,284.8" stroke="#a6b8b3" stroke-width="2.60"/>
<path d="M380.5,284.8L395.6,289.6" stroke="#a6b8b3" stroke-width="2.60"/>
<path d="M395.6,289.6L408.8,289.4" stroke="#b6b8a3" stroke-width="2.60"/>
<path d="M408.8,289.4L422.0,289.3" stroke="#b6b8a3" stroke-width="2.60"/>
<path d="M422.0,289.3L435.2,289.1" stroke="#b6b8a3" stroke-width="2.60"/>
<path d="M435.2,289.1L448.4,289.1" stroke="#b6b8a3" stroke-width="2.60"/>
<path d="M448.4,289.1L461.6,289.1" stroke="#b6b8a3" stroke-width="2.60"/>
<path d="M461.6,289.1L474.8,289.1" stroke="#b6b8a4" stroke-width="2.60"/>
<path d="M474.8,289.1L488.0,289.0" stroke="#b5b8a4" stroke-width="2.60"/>
<path d="M488.0,289.0L497.0,289.0" stroke="#b5b8a4" stroke-width="2.60"/>
<path d="M233.0,309.1L235.5,309.1" stroke="#a6b8b4" stroke-width="2.60"/>
<path d="M235.5,309.1L248.7,309.1" stroke="#a6b8b4" stroke-width="2.60"/>
<path d="M248.7,309.1L261.8,309.1" stroke="#a5b8b4" stroke-width="2.60"/>
<path d="M261.8,309.1L275.0,309.0" stroke="#a5b8b4" stroke-width="2.60"/>
<path d="M275.0,309.0L288.2,308.8" stroke="#a5b8b4" stroke-width="2.60"/>
<path d="M288.2,308.8L301.4,308.5" stroke="#a5b8b4" stroke-width="2.60"/>
<path d="M301.4,308.5L314.5,308.3" stroke="#a5b8b4" stroke-width="2.60"/>
<path d="M314.5,308.3L327.7,308.0" stroke="#a5b7b4" stroke-width="2.60"/>
<path d="M327.7,308.0L340.9,307.7" stroke="#a5b7b4" stroke-width="2.60"/>
<path d="M340.9,307.7L354.1,307.5" stroke="#a5b7b4" stroke-width="2.60"/>
<path d="M354.1,307.5L367.2,307.5" stroke="#a5b6b4" stroke-width="2.60"/>
<path d="M367.2,307.5L380.4,307.5" stroke="#a5b6b4" stroke-width="2.60"/>
<path d="M380.4,307.5L393.6,307.5" stroke="#a5b6b4" stroke-width="2.60"/>
<path d="M393.6,307.5L409.0,312.4" stroke="#a5b5b4" stroke-width="2.60"/>
<path d="M409.0,312.4L422.2,312.2" stroke="#b2b8a7" stroke-width="2.60"/>
<path d="M422.2,312.2L435.4,312.1" stroke="#b2b8a7" stroke-width="2.60"/>
<path d="M435.4,312.1L448.6,312.0" stroke="#b2b8a7" stroke-width="2.60"/>
<path d="M448.6,312.0L461.8,312.0" stroke="#b2b8a7" stroke-width="2.60"/>
<path d="M461.8,312.0L475.0,312.0" stroke="#b2b8a7" stroke-width="2.60"/>
<path d="M475.0,312.0L488.2,312.0" stroke="#b2b8a7" stroke-width="2.60"/>
<path d="M488.2,312.0L497.0,312.0" stroke="#b2b8a7" stroke-width="2.60"/>
<path d="M233.0,331.8L235.5,331.8" stroke="#a5b6b4" stroke-width="2.60"/>
<path d="M235.5,331.8L248.7,331.8" stroke="#a5b5b4" stroke-width="2.60"/>
<path d="M248.7,331.8L261.8,331.8" stroke="#a5b5b4" stroke-width="2.60"/>
<path d="M261.8,331.8L275.0,331.7" stroke="#a5b5b4" stroke-width="2.60"/>
<path d="M275.0,331.7L288.2,331.5" stroke="#a5b5b4" stroke-width="2.60"/>
<path d="M288.2,331.5L301.3,331.2" stroke="#a5b5b4" stroke-width="2.60"/>
<path d="M301.3,331.2L314.5,331.0" stroke="#a5b5b4" stroke-width="2.60"/>
<path d="M314.5,331.0L327.7,330.7" stroke="#a5b4b4" stroke-width="2.60"/>
<path d="M327.7,330.7L340.9,330.4" stroke="#a5b4b4" stroke-width="2.60"/>
<path d="M340.9,330.4L354.0,330.2" stroke="#a5b3b4" stroke-width="2.60"/>
<path d="M354.0,330.2L367.2,330.2" stroke="#a5b3b4" stroke-width="2.60"/>
<path d="M367.2,330.2L380.4,330.2" stroke="#a5b3b4" stroke-width="2.60"/>
<path d="M380.4,330.2L393.5,330.2" stroke="#a5b3b4" stroke-width="2.60"/>
<path d="M393.5,330.2L406.7,330.2" stroke="#a5b2b4" stroke-width="2.60"/>
<path d="M406.7,330.2L422.4,335.2" stroke="#a5b2b4" stroke-width="2.29"/>
<path d="M422.4,335.2L435.6,335.0" stroke="#afb8aa" stroke-width="2.29"/>
<path d="M435.6,335.0L448.8,335.0" stroke="#afb8aa" stroke-width="2.29"/>
<path d="M448.8,335.0L462.0,335.0" stroke="#afb8ab" stroke-width="2.29"/>
<path d="M462.0,335.0L475.2,334.9" stroke="#afb8ab" stroke-width="2.29"/>
<path d="M475.2,334.9L488.4,334.9" stroke="#afb8ab" stroke-width="2.29"/>
<path d="M488.4,334.9L497.0,334.9" stroke="#aeb8ab" stroke-width="2.29"/>
<path d="M233.0,354.6L235.5,354.6" stroke="#a5b2b4" stroke-width="2.60"/>
<path d="M235.5,354.6L248.7,354.6" stroke="#a5b2b4" stroke-width="2.60"/>
<path d="M248.7,354.6L261.8,354.6" stroke="#a5b2b4" stroke-width="2.60"/>
<path d="M261.8,354.6L275.0,354.4" stroke="#a5b2b4" stroke-width="2.60"/>
<path d="M275.0,354.4L288.2,354.2" stroke="#a5b2b4" stroke-width="2.60"/>
<path d="M288.2,354.2L301.3,353.9" stroke="#a5b2b4" stroke-width="2.60"/>
<path d="M301.3,353.9L314.5,353.7" stroke="#a5b2b4" stroke-width="2.60"/>
<path d="M314.5,353.7L327.7,353.4" stroke="#a5b1b4" stroke-width="2.60"/>
<path d="M327.7,353.4L340.8,353.1" stroke="#a5b1b4" stroke-width="2.60"/>
<path d="M340.8,353.1L354.0,352.9" stroke="#a5b1b4" stroke-width="2.60"/>
<path d="M354.0,352.9L367.2,352.9" stroke="#a5b0b4" stroke-width="2.60"/>
<path d="M367.2,352.9L380.3,352.9" stroke="#a5b0b4" stroke-width="2.60"/>
<path d="M380.3,352.9L393.5,352.9" stroke="#a5b0b4" stroke-width="2.29"/>
<path d="M393.5,352.9L406.7,352.9" stroke="#a5b0b4" stroke-width="2.29"/>
<path d="M406.7,352.9L419.8,352.9" stroke="#a5b0b4" stroke-width="2.29"/>
<path d="M435.7,358.0L448.9,357.9" stroke="#adb8ac" stroke-width="2.29"/>
<path d="M448.9,357.9L462.1,357.9" stroke="#adb8ac" stroke-width="2.29"/>
<path d="M462.1,357.9L475.3,357.9" stroke="#adb8ad" stroke-width="2.29"/>
<path d="M475.3,357.9L488.5,357.9" stroke="#adb8ad" stroke-width="2.29"/>
<path d="M488.5,357.9L497.0,357.9" stroke="#adb8ad" stroke-width="2.29"/>
<path d="M233.0,377.2L235.5,377.2" stroke="#a5b0b4" stroke-width="2.60"/>
<path d="M235.5,377.2L248.7,377.2" stroke="#a5b0b4" stroke-width="2.60"/>
<path d="M248.7,377.2L261.8,377.2" stroke="#a5b0b4" stroke-width="2.60"/>
<path d="M261.8,377.2L275.0,377.1" stroke="#a5afb4" stroke-width="2.60"/>
<path d="M275.0,377.1L288.1,376.9" stroke="#a5afb4" stroke-width="2.60"/>
<path d="M288.1,376.9L301.3,376.6" stroke="#a5afb4" stroke-width="2.60"/>
<path d="M301.3,376.6L314.5,376.4" stroke="#a5afb4" stroke-width="2.60"/>
<path d="M314.5,376.4L327.6,376.1" stroke="#a5afb4" stroke-width="2.60"/>
<path d="M327.6,376.1L340.8,375.8" stroke="#a5aeb4" stroke-width="2.60"/>
<path d="M340.8,375.8L354.0,375.6" stroke="#a5aeb4" stroke-width="2.60"/>
<path d="M354.0,375.6L367.1,375.6" stroke="#a5aeb4" stroke-width="2.60"/>
<path d="M367.1,375.6L380.3,375.6" stroke="#a5adb4" stroke-width="2.60"/>
<path d="M380.3,375.6L393.4,375.6" stroke="#a5adb4" stroke-width="2.29"/>
<path d="M233.0,399.9L235.5,399.9" stroke="#a5adb4" stroke-width="2.60"/>
<path d="M235.5,399.9L248.7,399.9" stroke="#a5adb4" stroke-width="2.60"/>
<path d="M248.7,399.9L261.8,399.9" stroke="#a5adb4" stroke-width="2.60"/>
<path d="M261.8,399.9L275.0,399.8" stroke="#a5adb4" stroke-width="2.60"/>
<path d="M275.0,399.8L288.1,399.6" stroke="#a5adb4" stroke-width="2.60"/>
<path d="M288.1,399.6L301.3,399.3" stroke="#a5adb4" stroke-width="2.60"/>
<path d="M301.3,399.3L314.4,399.1" stroke="#a5acb4" stroke-width="2.60"/>
<path d="M314.4,399.1L327.6,398.8" stroke="#a5acb4" stroke-width="2.60"/>
<path d="M327.6,398.8L340.8,398.5" stroke="#a5abb4" stroke-width="2.60"/>
<path d="M340.8,398.5L353.9,398.3" stroke="#a5abb4" stroke-width="2.60"/>
<path d="M353.9,398.3L367.1,398.3" stroke="#a5abb4" stroke-width="2.60"/>
<path d="M367.1,398.3L380.2,398.3" stroke="#a5abb4" stroke-width="2.60"/>
<path d="M380.2,398.3L393.4,398.3" stroke="#a5abb4" stroke-width="2.29"/>
<path d="M233.0,422.6L235.5,422.6" stroke="#a5abb4" stroke-width="2.60"/>
<path d="M235.5,422.6L248.7,422.6" stroke="#a5abb4" stroke-width="2.60"/>
<path d="M248.7,422.6L261.8,422.6" stroke="#a5abb4" stroke-width="2.60"/>
<path d="M261.8,422.6L275.0,422.5" stroke="#a5abb4" stroke-width="2.60"/>
<path d="M275.0,422.5L288.1,422.3" stroke="#a5abb4" stroke-width="2.60"/>
<path d="M288.1,422.3L301.3,422.0" stroke="#a5abb4" stroke-width="2.60"/>
<path d="M301.3,422.0L314.4,421.8" stroke="#a5a9b4" stroke-width="2.60"/>
<path d="M314.4,421.8L327.6,421.5" stroke="#a5a9b4" stroke-width="2.60"/>
<path d="M327.6,421.5L340.7,421.2" stroke="#a5a9b4" stroke-width="2.60"/>
<path d="M340.7,421.2L353.9,421.0" stroke="#a5a8b4" stroke-width="2.60"/>
<path d="M353.9,421.0L367.0,421.0" stroke="#a5a8b4" stroke-width="2.60"/>
<path d="M367.0,421.0L380.2,421.0" stroke="#a5a8b4" stroke-width="2.60"/>
<path d="M380.2,421.0L393.4,421.0" stroke="#a5a8b4" stroke-width="2.29"/>
</g>
<g>
<circle cx="235.5" cy="36.9" r="3.05" fill="url(#s108)"/>
<circle cx="235.6" cy="59.7" r="3.05" fill="url(#s102)"/>
<circle cx="235.6" cy="82.4" r="3.05" fill="url(#s93)"/>
<circle cx="235.6" cy="105.1" r="3.05" fill="url(#s87)"/>
<circle cx="235.6" cy="127.8" r="3.05" fill="url(#s84)"/>
<circle cx="235.6" cy="150.5" r="3.05" fill="url(#s82)"/>
<circle cx="235.6" cy="173.1" r="3.05" fill="url(#s78)"/>
<circle cx="235.6" cy="195.8" r="3.05" fill="url(#s72)"/>
<circle cx="235.6" cy="218.5" r="3.05" fill="url(#s67)"/>
<circle cx="235.5" cy="241.1" r="3.05" fill="url(#s61)"/>
<circle cx="235.5" cy="263.8" r="3.05" fill="url(#s56)"/>
<circle cx="235.5" cy="286.5" r="3.05" fill="url(#s51)"/>
<circle cx="235.5" cy="309.1" r="3.05" fill="url(#s46)"/>
<circle cx="235.5" cy="331.8" r="3.05" fill="url(#s42)"/>
<circle cx="235.5" cy="354.6" r="3.05" fill="url(#s37)"/>
<circle cx="235.5" cy="377.2" r="3.05" fill="url(#s33)"/>
<circle cx="235.5" cy="399.9" r="3.05" fill="url(#s30)"/>
<circle cx="235.5" cy="422.6" r="3.05" fill="url(#s26)"/>
<circle cx="248.7" cy="36.9" r="3.05" fill="url(#s108)"/>
<circle cx="248.8" cy="59.7" r="3.05" fill="url(#s102)"/>
<circle cx="248.8" cy="82.4" r="3.05" fill="url(#s93)"/>
<circle cx="248.8" cy="105.1" r="3.05" fill="url(#s86)"/>
<circle cx="248.8" cy="127.8" r="3.05" fill="url(#s84)"/>
<circle cx="248.8" cy="150.5" r="3.05" fill="url(#s81)"/>
<circle cx="248.8" cy="173.1" r="3.05" fill="url(#s77)"/>
<circle cx="248.8" cy="195.8" r="3.05" fill="url(#s72)"/>
<circle cx="248.7" cy="218.4" r="3.05" fill="url(#s66)"/>
<circle cx="248.7" cy="241.1" r="3.05" fill="url(#s61)"/>
<circle cx="248.7" cy="263.8" r="3.05" fill="url(#s55)"/>
<circle cx="248.7" cy="286.4" r="3.05" fill="url(#s51)"/>
<circle cx="248.7" cy="309.1" r="3.05" fill="url(#s46)"/>
<circle cx="248.7" cy="331.8" r="3.05" fill="url(#s42)"/>
<circle cx="248.7" cy="354.6" r="3.05" fill="url(#s37)"/>
<circle cx="248.7" cy="377.2" r="3.05" fill="url(#s33)"/>
<circle cx="248.7" cy="399.9" r="3.05" fill="url(#s30)"/>
<circle cx="248.7" cy="422.6" r="3.05" fill="url(#s26)"/>
<circle cx="261.9" cy="36.9" r="3.05" fill="url(#s108)"/>
<circle cx="262.0" cy="59.7" r="3.05" fill="url(#s102)"/>
<circle cx="262.0" cy="82.4" r="3.05" fill="url(#s93)"/>
<circle cx="262.0" cy="105.2" r="3.05" fill="url(#s86)"/>
<circle cx="262.0" cy="127.8" r="3.05" fill="url(#s84)"/>
<circle cx="262.0" cy="150.4" r="3.05" fill="url(#s80)"/>
<circle cx="262.0" cy="173.1" r="3.05" fill="url(#s76)"/>
<circle cx="261.9" cy="195.7" r="3.05" fill="url(#s71)"/>
<circle cx="261.9" cy="218.4" r="3.05" fill="url(#s66)"/>
<circle cx="261.9" cy="241.0" r="3.05" fill="url(#s60)"/>
<circle cx="261.9" cy="263.8" r="3.05" fill="url(#s55)"/>
<circle cx="261.9" cy="286.4" r="3.05" fill="url(#s50)"/>
<circle cx="261.8" cy="309.1" r="3.05" fill="url(#s46)"/>
<circle cx="261.8" cy="331.8" r="3.05" fill="url(#s41)"/>
<circle cx="261.8" cy="354.6" r="3.05" fill="url(#s37)"/>
<circle cx="261.8" cy="377.2" r="3.05" fill="url(#s33)"/>
<circle cx="261.8" cy="399.9" r="3.05" fill="url(#s30)"/>
<circle cx="261.8" cy="422.6" r="3.05" fill="url(#s26)"/>
<circle cx="275.2" cy="36.9" r="3.05" fill="url(#s108)"/>
<circle cx="275.2" cy="59.7" r="3.05" fill="url(#s102)"/>
<circle cx="275.3" cy="82.5" r="3.05" fill="url(#s94)"/>
<circle cx="275.3" cy="105.2" r="3.05" fill="url(#s87)"/>
<circle cx="275.2" cy="127.8" r="3.05" fill="url(#s83)"/>
<circle cx="275.2" cy="150.4" r="3.05" fill="url(#s80)"/>
<circle cx="275.1" cy="173.0" r="3.05" fill="url(#s75)"/>
<circle cx="275.1" cy="195.6" r="3.05" fill="url(#s70)"/>
<circle cx="275.1" cy="218.2" r="3.05" fill="url(#s65)"/>
<circle cx="275.1" cy="240.9" r="3.05" fill="url(#s60)"/>
<circle cx="275.0" cy="263.6" r="3.05" fill="url(#s55)"/>
<circle cx="275.0" cy="286.3" r="3.05" fill="url(#s50)"/>
<circle cx="275.0" cy="309.0" r="3.05" fill="url(#s46)"/>
<circle cx="275.0" cy="331.7" r="3.05" fill="url(#s41)"/>
<circle cx="275.0" cy="354.4" r="3.05" fill="url(#s37)"/>
<circle cx="275.0" cy="377.1" r="3.05" fill="url(#s33)"/>
<circle cx="275.0" cy="399.8" r="3.05" fill="url(#s30)"/>
<circle cx="275.0" cy="422.5" r="3.05" fill="url(#s26)"/>
<circle cx="288.4" cy="36.9" r="3.05" fill="url(#s108)"/>
<circle cx="288.4" cy="59.7" r="3.05" fill="url(#s103)"/>
<circle cx="288.5" cy="82.5" r="3.05" fill="url(#s96)"/>
<circle cx="288.3" cy="172.7" r="3.05" fill="url(#s75)"/>
<circle cx="288.3" cy="195.3" r="3.05" fill="url(#s70)"/>
<circle cx="288.3" cy="218.0" r="3.05" fill="url(#s65)"/>
<circle cx="288.2" cy="240.7" r="3.05" fill="url(#s59)"/>
<circle cx="288.2" cy="263.4" r="3.05" fill="url(#s54)"/>
<circle cx="288.2" cy="286.1" r="3.05" fill="url(#s50)"/>
<circle cx="288.2" cy="308.8" r="3.05" fill="url(#s45)"/>
<circle cx="288.2" cy="331.5" r="3.05" fill="url(#s41)"/>
<circle cx="288.2" cy="354.2" r="3.05" fill="url(#s37)"/>
<circle cx="288.1" cy="376.9" r="3.05" fill="url(#s33)"/>
<circle cx="288.1" cy="399.6" r="3.05" fill="url(#s30)"/>
<circle cx="288.1" cy="422.3" r="3.05" fill="url(#s27)"/>
<circle cx="301.6" cy="36.9" r="3.05" fill="url(#s108)"/>
<circle cx="301.7" cy="59.7" r="3.05" fill="url(#s103)"/>
<circle cx="301.7" cy="82.6" r="3.05" fill="url(#s98)"/>
<circle cx="301.5" cy="172.5" r="3.05" fill="url(#s73)"/>
<circle cx="301.5" cy="195.0" r="3.05" fill="url(#s69)"/>
<circle cx="301.4" cy="217.7" r="3.05" fill="url(#s64)"/>
<circle cx="301.4" cy="240.4" r="3.05" fill="url(#s59)"/>
<circle cx="301.4" cy="263.1" r="3.05" fill="url(#s54)"/>
<circle cx="301.4" cy="285.8" r="3.05" fill="url(#s49)"/>
<circle cx="301.4" cy="308.5" r="3.05" fill="url(#s45)"/>
<circle cx="301.3" cy="331.2" r="3.05" fill="url(#s41)"/>
<circle cx="301.3" cy="353.9" r="3.05" fill="url(#s37)"/>
<circle cx="301.3" cy="376.6" r="3.05" fill="url(#s32)"/>
<circle cx="301.3" cy="399.3" r="3.05" fill="url(#s28)"/>
<circle cx="301.3" cy="422.0" r="3.05" fill="url(#s24)"/>
<circle cx="314.8" cy="36.9" r="3.05" fill="url(#s108)"/>
<circle cx="314.9" cy="59.8" r="3.05" fill="url(#s104)"/>
<circle cx="315.0" cy="82.6" r="3.05" fill="url(#s99)"/>
<circle cx="315.1" cy="105.5" r="3.05" fill="url(#s95)"/>
<circle cx="314.7" cy="172.3" r="3.05" fill="url(#s72)"/>
<circle cx="314.7" cy="194.8" r="3.05" fill="url(#s68)"/>
<circle cx="314.6" cy="217.5" r="3.05" fill="url(#s63)"/>
<circle cx="314.6" cy="240.2" r="3.05" fill="url(#s58)"/>
<circle cx="314.6" cy="262.9" r="3.05" fill="url(#s53)"/>
<circle cx="314.6" cy="285.6" r="3.05" fill="url(#s49)"/>
<circle cx="314.5" cy="308.3" r="3.05" fill="url(#s45)"/>
<circle cx="314.5" cy="331.0" r="3.05" fill="url(#s40)"/>
<circle cx="314.5" cy="353.7" r="3.05" fill="url(#s36)"/>
<circle cx="314.5" cy="376.4" r="3.05" fill="url(#s32)"/>
<circle cx="314.4" cy="399.1" r="3.05" fill="url(#s28)"/>
<circle cx="314.4" cy="421.8" r="3.05" fill="url(#s24)"/>
<circle cx="328.0" cy="36.9" r="3.05" fill="url(#s108)"/>
<circle cx="328.1" cy="59.8" r="3.05" fill="url(#s104)"/>
<circle cx="328.2" cy="82.6" r="3.05" fill="url(#s101)"/>
<circle cx="328.3" cy="105.5" r="3.05" fill="url(#s97)"/>
<circle cx="328.4" cy="129.2" r="3.05" fill="url(#s93)"/>
<circle cx="328.6" cy="152.2" r="3.05" fill="url(#s91)"/>
<circle cx="328.8" cy="175.2" r="3.05" fill="url(#s88)"/>
<circle cx="327.9" cy="194.5" r="3.05" fill="url(#s66)"/>
<circle cx="327.8" cy="217.2" r="3.05" fill="url(#s62)"/>
<circle cx="327.8" cy="239.9" r="3.05" fill="url(#s58)"/>
<circle cx="327.8" cy="262.6" r="3.05" fill="url(#s53)"/>
<circle cx="327.7" cy="285.3" r="3.05" fill="url(#s49)"/>
<circle cx="327.7" cy="308.0" r="3.05" fill="url(#s44)"/>
<circle cx="327.7" cy="330.7" r="3.05" fill="url(#s39)"/>
<circle cx="327.7" cy="353.4" r="3.05" fill="url(#s35)"/>
<circle cx="327.6" cy="376.1" r="3.05" fill="url(#s31)"/>
<circle cx="327.6" cy="398.8" r="3.05" fill="url(#s27)"/>
<circle cx="327.6" cy="421.5" r="3.05" fill="url(#s23)"/>
<circle cx="341.3" cy="37.0" r="3.05" fill="url(#s108)"/>
<circle cx="341.3" cy="59.8" r="3.05" fill="url(#s104)"/>
<circle cx="341.4" cy="82.7" r="3.05" fill="url(#s101)"/>
<circle cx="341.5" cy="105.5" r="3.05" fill="url(#s97)"/>
<circle cx="341.6" cy="129.2" r="3.05" fill="url(#s93)"/>
<circle cx="341.8" cy="152.2" r="3.05" fill="url(#s90)"/>
<circle cx="342.0" cy="175.2" r="3.05" fill="url(#s88)"/>
<circle cx="342.2" cy="198.2" r="3.05" fill="url(#s85)"/>
<circle cx="341.0" cy="216.9" r="3.05" fill="url(#s62)"/>
<circle cx="341.0" cy="239.6" r="3.05" fill="url(#s57)"/>
<circle cx="341.0" cy="262.3" r="3.05" fill="url(#s52)"/>
<circle cx="340.9" cy="285.0" r="3.05" fill="url(#s48)"/>
<circle cx="340.9" cy="307.7" r="3.05" fill="url(#s44)"/>
<circle cx="340.9" cy="330.4" r="3.05" fill="url(#s39)"/>
<circle cx="340.8" cy="353.1" r="3.05" fill="url(#s35)"/>
<circle cx="340.8" cy="375.8" r="3.05" fill="url(#s31)"/>
<circle cx="340.8" cy="398.5" r="3.05" fill="url(#s27)"/>
<circle cx="340.7" cy="421.2" r="3.05" fill="url(#s23)"/>
<circle cx="354.5" cy="37.0" r="3.05" fill="url(#s108)"/>
<circle cx="354.6" cy="59.8" r="3.05" fill="url(#s104)"/>
<circle cx="354.6" cy="82.7" r="3.05" fill="url(#s101)"/>
<circle cx="354.7" cy="105.6" r="3.05" fill="url(#s97)"/>
<circle cx="354.9" cy="129.2" r="3.05" fill="url(#s93)"/>
<circle cx="355.0" cy="152.2" r="3.05" fill="url(#s90)"/>
<circle cx="355.2" cy="175.2" r="3.05" fill="url(#s87)"/>
<circle cx="355.4" cy="198.2" r="3.05" fill="url(#s84)"/>
<circle cx="355.6" cy="221.1" r="3.05" fill="url(#s81)"/>
<circle cx="354.2" cy="239.4" r="3.05" fill="url(#s56)"/>
<circle cx="354.1" cy="262.1" r="3.05" fill="url(#s52)"/>
<circle cx="354.1" cy="284.8" r="3.05" fill="url(#s48)"/>
<circle cx="354.1" cy="307.5" r="3.05" fill="url(#s43)"/>
<circle cx="354.0" cy="330.2" r="3.05" fill="url(#s38)"/>
<circle cx="354.0" cy="352.9" r="3.05" fill="url(#s34)"/>
<circle cx="354.0" cy="375.6" r="3.05" fill="url(#s30)"/>
<circle cx="353.9" cy="398.3" r="3.05" fill="url(#s26)"/>
<circle cx="353.9" cy="421.0" r="3.05" fill="url(#s23)"/>
<circle cx="367.7" cy="37.0" r="3.05" fill="url(#s108)"/>
<circle cx="367.8" cy="59.8" r="3.05" fill="url(#s104)"/>
<circle cx="367.9" cy="82.7" r="3.05" fill="url(#s101)"/>
<circle cx="368.0" cy="105.6" r="3.05" fill="url(#s97)"/>
<circle cx="368.1" cy="129.2" r="3.05" fill="url(#s92)"/>
<circle cx="368.2" cy="152.2" r="3.05" fill="url(#s90)"/>
<circle cx="368.4" cy="175.1" r="3.05" fill="url(#s87)"/>
<circle cx="368.6" cy="198.1" r="3.05" fill="url(#s84)"/>
<circle cx="368.8" cy="221.1" r="3.05" fill="url(#s80)"/>
<circle cx="368.9" cy="244.1" r="3.05" fill="url(#s77)"/>
<circle cx="367.3" cy="262.1" r="3.05" fill="url(#s51)"/>
<circle cx="367.3" cy="284.8" r="3.05" fill="url(#s47)"/>
<circle cx="367.2" cy="307.5" r="3.05" fill="url(#s43)"/>
<circle cx="367.2" cy="330.2" r="3.05" fill="url(#s38)"/>
<circle cx="367.2" cy="352.9" r="3.05" fill="url(#s34)"/>
<circle cx="367.1" cy="375.6" r="3.05" fill="url(#s30)"/>
<circle cx="367.1" cy="398.3" r="3.05" fill="url(#s26)"/>
<circle cx="367.0" cy="421.0" r="3.05" fill="url(#s22)"/>
<circle cx="380.9" cy="37.0" r="3.05" fill="url(#s108)"/>
<circle cx="381.0" cy="59.8" r="3.05" fill="url(#s104)"/>
<circle cx="381.1" cy="82.7" r="3.05" fill="url(#s101)"/>
<circle cx="381.2" cy="105.6" r="3.05" fill="url(#s97)"/>
<circle cx="381.3" cy="129.1" r="3.05" fill="url(#s92)"/>
<circle cx="381.5" cy="152.0" r="3.05" fill="url(#s89)"/>
<circle cx="381.6" cy="175.0" r="3.05" fill="url(#s86)"/>
<circle cx="381.8" cy="198.0" r="3.05" fill="url(#s83)"/>
<circle cx="382.0" cy="220.9" r="3.05" fill="url(#s80)"/>
<circle cx="382.1" cy="243.9" r="3.05" fill="url(#s77)"/>
<circle cx="382.3" cy="266.9" r="3.05" fill="url(#s75)"/>
<circle cx="380.5" cy="284.8" r="3.05" fill="url(#s47)"/>
<circle cx="380.4" cy="307.5" r="3.05" fill="url(#s43)"/>
<circle cx="380.4" cy="330.2" r="3.05" fill="url(#s38)"/>
<circle cx="380.3" cy="352.9" r="3.05" fill="url(#s34)"/>
<circle cx="380.3" cy="375.6" r="3.05" fill="url(#s30)"/>
<circle cx="380.2" cy="398.3" r="3.05" fill="url(#s26)"/>
<circle cx="380.2" cy="421.0" r="3.05" fill="url(#s22)"/>
<circle cx="394.1" cy="37.0" r="3.05" fill="url(#s107)"/>
<circle cx="394.2" cy="59.8" r="3.05" fill="url(#s104)"/>
<circle cx="394.3" cy="82.7" r="3.05" fill="url(#s100)"/>
<circle cx="394.4" cy="105.6" r="3.05" fill="url(#s96)"/>
<circle cx="394.5" cy="128.9" r="3.05" fill="url(#s92)"/>
<circle cx="394.7" cy="151.9" r="3.05" fill="url(#s89)"/>
<circle cx="394.8" cy="174.8" r="3.05" fill="url(#s86)"/>
<circle cx="395.0" cy="197.8" r="3.05" fill="url(#s83)"/>
<circle cx="395.2" cy="220.8" r="3.05" fill="url(#s79)"/>
<circle cx="395.3" cy="243.7" r="3.05" fill="url(#s77)"/>
<circle cx="395.5" cy="266.7" r="3.05" fill="url(#s74)"/>
<circle cx="395.6" cy="289.6" r="3.05" fill="url(#s71)"/>
<circle cx="393.6" cy="307.5" r="3.05" fill="url(#s42)"/>
<circle cx="393.5" cy="330.2" r="3.05" fill="url(#s37)"/>
<circle cx="393.5" cy="352.9" r="3.05" fill="url(#s34)"/>
<circle cx="393.4" cy="375.6" r="3.05" fill="url(#s30)"/>
<circle cx="393.4" cy="398.3" r="3.05" fill="url(#s26)"/>
<circle cx="393.4" cy="421.0" r="3.05" fill="url(#s22)"/>
<circle cx="407.4" cy="37.0" r="3.05" fill="url(#s107)"/>
<circle cx="407.4" cy="59.8" r="3.05" fill="url(#s104)"/>
<circle cx="407.5" cy="82.7" r="3.05" fill="url(#s100)"/>
<circle cx="407.6" cy="105.6" r="3.05" fill="url(#s96)"/>
<circle cx="407.7" cy="128.8" r="3.05" fill="url(#s92)"/>
<circle cx="407.9" cy="151.7" r="3.05" fill="url(#s88)"/>
<circle cx="408.0" cy="174.7" r="3.05" fill="url(#s85)"/>
<circle cx="408.2" cy="197.6" r="3.05" fill="url(#s82)"/>
<circle cx="408.4" cy="220.6" r="3.05" fill="url(#s79)"/>
<circle cx="408.5" cy="243.5" r="3.05" fill="url(#s76)"/>
<circle cx="408.7" cy="266.5" r="3.05" fill="url(#s74)"/>
<circle cx="408.8" cy="289.4" r="3.05" fill="url(#s70)"/>
<circle cx="409.0" cy="312.4" r="3.05" fill="url(#s65)"/>
<circle cx="406.7" cy="330.2" r="3.05" fill="url(#s37)"/>
<circle cx="406.7" cy="352.9" r="3.05" fill="url(#s34)"/>
<circle cx="420.6" cy="37.0" r="3.05" fill="url(#s107)"/>
<circle cx="420.7" cy="59.8" r="3.05" fill="url(#s103)"/>
<circle cx="420.7" cy="82.7" r="3.05" fill="url(#s100)"/>
<circle cx="420.9" cy="105.6" r="3.05" fill="url(#s96)"/>
<circle cx="421.0" cy="128.6" r="3.05" fill="url(#s91)"/>
<circle cx="421.1" cy="151.6" r="3.05" fill="url(#s88)"/>
<circle cx="421.2" cy="174.5" r="3.05" fill="url(#s85)"/>
<circle cx="421.4" cy="197.4" r="3.05" fill="url(#s82)"/>
<circle cx="421.6" cy="220.4" r="3.05" fill="url(#s78)"/>
<circle cx="421.7" cy="243.4" r="3.05" fill="url(#s76)"/>
<circle cx="421.9" cy="266.3" r="3.05" fill="url(#s74)"/>
<circle cx="422.0" cy="289.3" r="3.05" fill="url(#s70)"/>
<circle cx="422.2" cy="312.2" r="3.05" fill="url(#s65)"/>
<circle cx="422.4" cy="335.2" r="3.05" fill="url(#s60)"/>
<circle cx="419.8" cy="352.9" r="3.05" fill="url(#s33)"/>
<circle cx="433.8" cy="37.0" r="3.05" fill="url(#s106)"/>
<circle cx="433.9" cy="59.9" r="3.05" fill="url(#s103)"/>
<circle cx="434.0" cy="82.7" r="3.05" fill="url(#s100)"/>
<circle cx="434.1" cy="105.6" r="3.05" fill="url(#s96)"/>
<circle cx="434.2" cy="128.5" r="3.05" fill="url(#s91)"/>
<circle cx="434.3" cy="151.4" r="3.05" fill="url(#s88)"/>
<circle cx="434.5" cy="174.4" r="3.05" fill="url(#s85)"/>
<circle cx="434.6" cy="197.3" r="3.05" fill="url(#s81)"/>
<circle cx="434.8" cy="220.3" r="3.05" fill="url(#s78)"/>
<circle cx="434.9" cy="243.2" r="3.05" fill="url(#s75)"/>
<circle cx="435.1" cy="266.2" r="3.05" fill="url(#s73)"/>
<circle cx="435.2" cy="289.1" r="3.05" fill="url(#s70)"/>
<circle cx="435.4" cy="312.1" r="3.05" fill="url(#s65)"/>
<circle cx="435.6" cy="335.0" r="3.05" fill="url(#s60)"/>
<circle cx="435.7" cy="358.0" r="3.05" fill="url(#s57)"/>
<circle cx="447.0" cy="37.0" r="3.05" fill="url(#s106)"/>
<circle cx="447.1" cy="59.9" r="3.05" fill="url(#s103)"/>
<circle cx="447.2" cy="82.7" r="3.05" fill="url(#s99)"/>
<circle cx="447.3" cy="105.6" r="3.05" fill="url(#s95)"/>
<circle cx="447.4" cy="128.5" r="3.05" fill="url(#s91)"/>
<circle cx="447.5" cy="151.4" r="3.05" fill="url(#s88)"/>
<circle cx="447.7" cy="174.4" r="3.05" fill="url(#s84)"/>
<circle cx="447.8" cy="197.3" r="3.05" fill="url(#s81)"/>
<circle cx="448.0" cy="220.2" r="3.05" fill="url(#s78)"/>
<circle cx="448.1" cy="243.2" r="3.05" fill="url(#s75)"/>
<circle cx="448.3" cy="266.1" r="3.05" fill="url(#s73)"/>
<circle cx="448.4" cy="289.1" r="3.05" fill="url(#s70)"/>
<circle cx="448.6" cy="312.0" r="3.05" fill="url(#s64)"/>
<circle cx="448.8" cy="335.0" r="3.05" fill="url(#s60)"/>
<circle cx="448.9" cy="357.9" r="3.05" fill="url(#s57)"/>
<circle cx="460.2" cy="37.0" r="3.05" fill="url(#s106)"/>
<circle cx="460.3" cy="59.9" r="3.05" fill="url(#s102)"/>
<circle cx="460.4" cy="82.7" r="3.05" fill="url(#s99)"/>
<circle cx="460.5" cy="105.6" r="3.05" fill="url(#s95)"/>
<circle cx="460.6" cy="128.5" r="3.05" fill="url(#s91)"/>
<circle cx="460.7" cy="151.4" r="3.05" fill="url(#s87)"/>
<circle cx="460.9" cy="174.4" r="3.05" fill="url(#s84)"/>
<circle cx="461.0" cy="197.3" r="3.05" fill="url(#s81)"/>
<circle cx="461.2" cy="220.2" r="3.05" fill="url(#s77)"/>
<circle cx="461.3" cy="243.2" r="3.05" fill="url(#s75)"/>
<circle cx="461.5" cy="266.1" r="3.05" fill="url(#s73)"/>
<circle cx="461.6" cy="289.1" r="3.05" fill="url(#s70)"/>
<circle cx="461.8" cy="312.0" r="3.05" fill="url(#s64)"/>
<circle cx="462.0" cy="335.0" r="3.05" fill="url(#s59)"/>
<circle cx="462.1" cy="357.9" r="3.05" fill="url(#s57)"/>
<circle cx="473.5" cy="37.0" r="3.05" fill="url(#s105)"/>
<circle cx="473.5" cy="59.9" r="3.05" fill="url(#s102)"/>
<circle cx="473.6" cy="82.7" r="3.05" fill="url(#s99)"/>
<circle cx="473.7" cy="105.6" r="3.05" fill="url(#s95)"/>
<circle cx="473.8" cy="128.5" r="3.05" fill="url(#s90)"/>
<circle cx="474.0" cy="151.4" r="3.05" fill="url(#s87)"/>
<circle cx="474.1" cy="174.4" r="3.05" fill="url(#s84)"/>
<circle cx="474.2" cy="197.3" r="3.05" fill="url(#s80)"/>
<circle cx="474.4" cy="220.2" r="3.05" fill="url(#s77)"/>
<circle cx="474.5" cy="243.2" r="3.05" fill="url(#s75)"/>
<circle cx="474.7" cy="266.1" r="3.05" fill="url(#s73)"/>
<circle cx="474.8" cy="289.1" r="3.05" fill="url(#s69)"/>
<circle cx="475.0" cy="312.0" r="3.05" fill="url(#s64)"/>
<circle cx="475.2" cy="334.9" r="3.05" fill="url(#s59)"/>
<circle cx="475.3" cy="357.9" r="3.05" fill="url(#s57)"/>
<circle cx="486.7" cy="37.0" r="3.05" fill="url(#s105)"/>
<circle cx="486.8" cy="59.9" r="3.05" fill="url(#s102)"/>
<circle cx="486.8" cy="82.7" r="3.05" fill="url(#s98)"/>
<circle cx="486.9" cy="105.6" r="3.05" fill="url(#s94)"/>
<circle cx="487.1" cy="128.5" r="3.05" fill="url(#s90)"/>
<circle cx="487.2" cy="151.4" r="3.05" fill="url(#s87)"/>
<circle cx="487.3" cy="174.4" r="3.05" fill="url(#s83)"/>
<circle cx="487.4" cy="197.3" r="3.05" fill="url(#s80)"/>
<circle cx="487.6" cy="220.2" r="3.05" fill="url(#s77)"/>
<circle cx="487.7" cy="243.1" r="3.05" fill="url(#s74)"/>
<circle cx="487.9" cy="266.1" r="3.05" fill="url(#s72)"/>
<circle cx="488.0" cy="289.0" r="3.05" fill="url(#s69)"/>
<circle cx="488.2" cy="312.0" r="3.05" fill="url(#s64)"/>
<circle cx="488.4" cy="334.9" r="3.05" fill="url(#s59)"/>
<circle cx="488.5" cy="357.9" r="3.05" fill="url(#s56)"/>
</g>
</g>
<path d="M324.9,173L432.3,359" stroke="#000" stroke-width="1.3" fill="none"/>
<rect x="503" y="22.7" width="15" height="412.8" fill="url(#cb)"/>
<g font-family="Liberation Sans, sans-serif" font-size="11.8" fill="#1a1a1a">
<text x="520.5" y="32.8">-2.742</text>
<text x="520.5" y="433">-12.73</text>
</g>
<g stroke="#0b2265" stroke-width="3.5" fill="none" stroke-linecap="round" stroke-linejoin="round">
<path d="M400.2,261L365.2,198"/>
<path d="M377.3,206L365.2,198L366,213.8"/>
</g>
<text x="391.5" y="234.4" font-family="Liberation Sans, sans-serif" font-weight="bold" font-size="50.5" fill="#0b2265" textLength="27" lengthAdjust="spacingAndGlyphs">b</text>
<rect x="53.4" y="25.5" width="155.2" height="60.3" rx="10" ry="10" fill="#fff" stroke="#000" stroke-width="1.6"/>
<rect x="53.2" y="123.9" width="155.4" height="131.4" rx="19.5" ry="19.5" fill="#fff" stroke="#000" stroke-width="1.6"/>
<rect x="58.8" y="266.6" width="155.2" height="60.3" rx="10" ry="10" fill="#fff" stroke="#000" stroke-width="1.6"/>
<rect x="58.8" y="354.0" width="155.2" height="49.8" rx="9" ry="9" fill="#fff" stroke="#000" stroke-width="1.6"/>
<g font-family="Liberation Sans, sans-serif" font-size="22.1" fill="#000">
<text><tspan x="78.51" y="49.1" textLength="105.00" lengthAdjust="spacingAndGlyphs">dislocation</tspan> <tspan x="109.50" y="80.4" textLength="42.48" lengthAdjust="spacingAndGlyphs">core</tspan></text>
<text><tspan x="85.49" y="151.9" textLength="91.51" lengthAdjust="spacingAndGlyphs">slip plane</tspan> <tspan x="68.50" y="183.2" textLength="124.01" lengthAdjust="spacingAndGlyphs">discontinuity</tspan> <tspan x="102.98" y="214.4" textLength="56.06" lengthAdjust="spacingAndGlyphs">in the</tspan> <tspan x="78.00" y="245.7" textLength="105.00" lengthAdjust="spacingAndGlyphs">continuum</tspan></text>
<text><tspan x="78.99" y="289.9" textLength="55.01" lengthAdjust="spacingAndGlyphs">XFEM</tspan> <tspan x="139.99" y="289.9" textLength="53.04" lengthAdjust="spacingAndGlyphs">mesh</tspan> <tspan x="106.47" y="320.8" textLength="58.54" lengthAdjust="spacingAndGlyphs">nodes</tspan></text>
<text><tspan x="85.49" y="387.5" textLength="35.03" lengthAdjust="spacingAndGlyphs">MD</tspan> <tspan x="125.99" y="387.5" textLength="60.00" lengthAdjust="spacingAndGlyphs">atoms</tspan></text>
</g>
<g font-family="DejaVu Sans, Verdana, sans-serif" font-size="17.2" fill="#000" stroke="#000" stroke-width="0.35" stroke-linejoin="round">
<text><tspan x="41.9" y="431" textLength="19.2" lengthAdjust="spacingAndGlyphs">©</tspan> <tspan x="66.8" y="431" textLength="19.0" lengthAdjust="spacingAndGlyphs">R.</tspan> <tspan x="92.8" y="431" textLength="64.5" lengthAdjust="spacingAndGlyphs">Gracie,</tspan> <tspan x="163.6" y="431" textLength="44.4" lengthAdjust="spacingAndGlyphs">2010</tspan></text>
</g>
<g stroke="#000" stroke-width="3.6" fill="none" stroke-linecap="round" stroke-linejoin="round">
<path d="M131.5,86.3C128.1,107.9 214.9,129.8 294.5,129.7" stroke-linecap="butt"/>
<path d="M281.9,122.6L295.2,129.7L281.9,136.6"/>
<path d="M209.3,190.7C250,190.5 282,203 286.5,222C290,241 312,253.6 361,255.2" stroke-linecap="butt"/>
<path d="M349.2,248.2L361.6,255.3L348.8,262.4"/>
<path d="M214.6,297.2C240,297.5 256,305 260,314C264,324 276,331.2 304.5,332.2" stroke-linecap="butt"/>
<path d="M292.2,325.2L305.1,332.2L292.2,339"/>
<path d="M214.6,378.3C270,379 312,386 321.5,396C330,406 372,414.2 428.8,415" stroke-linecap="butt"/>
<path d="M415.8,407.6L429.4,415L415.8,422"/>
</g>
</svg>
</body></html>
